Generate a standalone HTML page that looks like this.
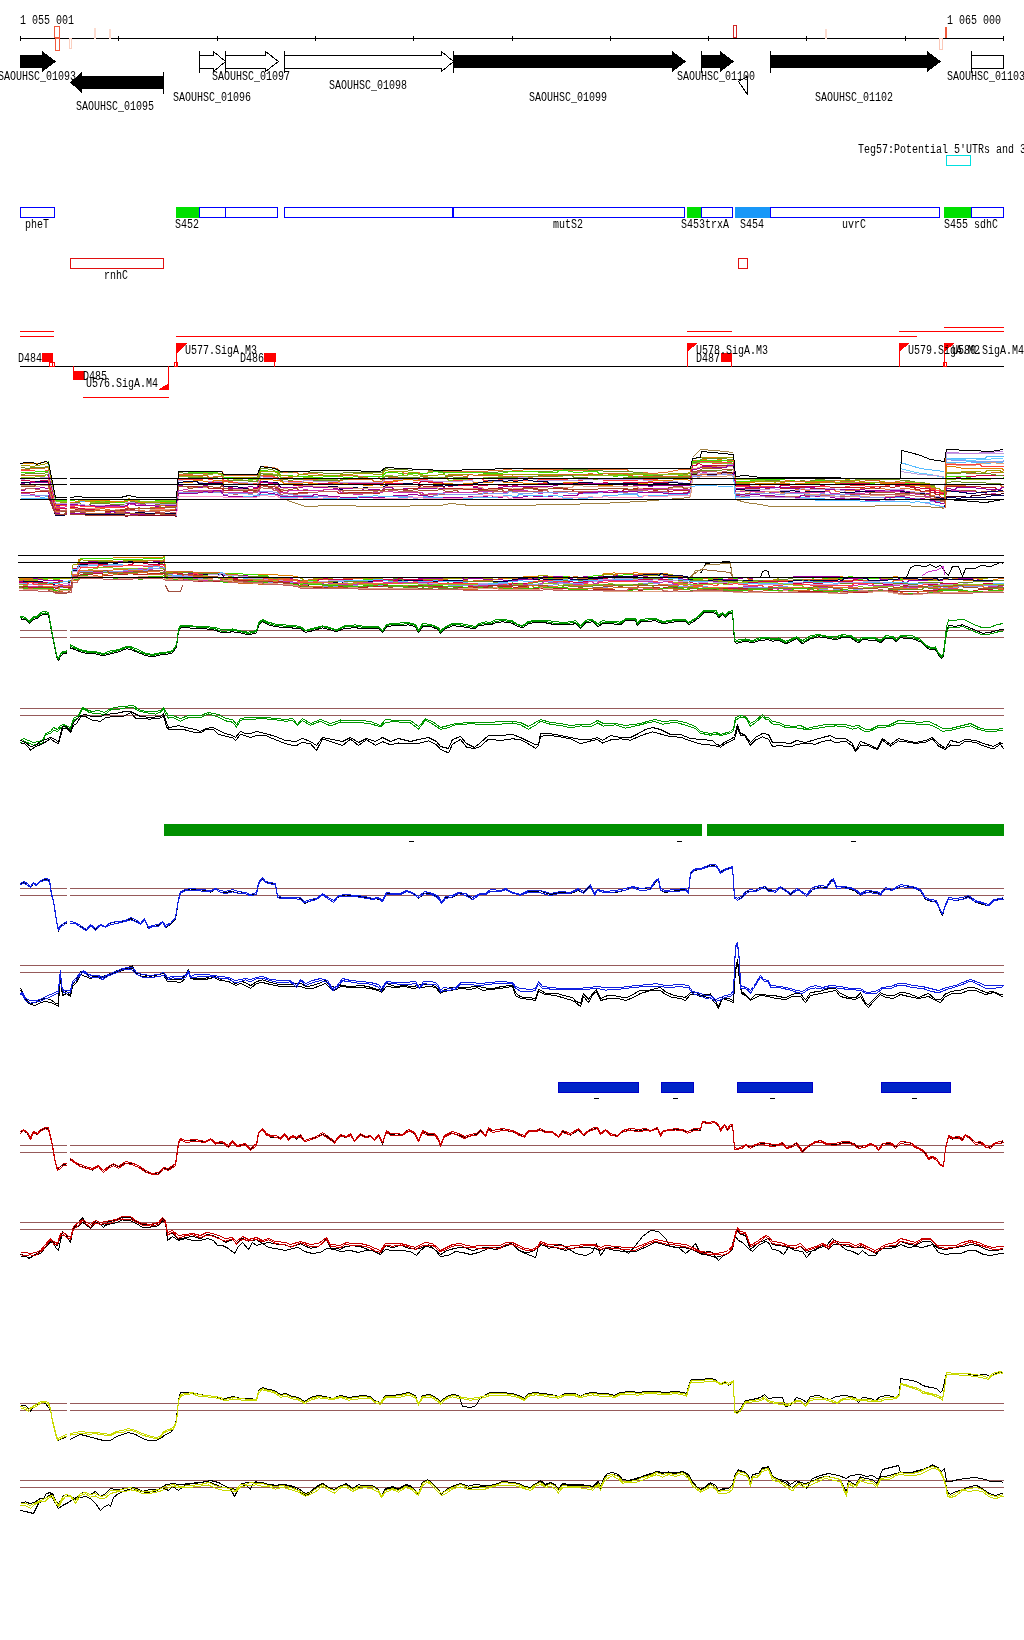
<!DOCTYPE html>
<html><head><meta charset="utf-8"><style>
html,body{margin:0;padding:0;background:#fff;}
body{width:1024px;height:1640px;overflow:hidden;}
svg{display:block;font-family:"Liberation Mono", monospace;}
</style></head><body>
<svg width="1024" height="1640" viewBox="0 0 1024 1640" shape-rendering="crispEdges">
<rect x="20" y="38" width="984" height="1" fill="#000"/>
<rect x="20" y="36" width="1" height="5" fill="#000"/>
<rect x="118" y="36" width="1" height="5" fill="#000"/>
<rect x="217" y="36" width="1" height="5" fill="#000"/>
<rect x="315" y="36" width="1" height="5" fill="#000"/>
<rect x="413" y="36" width="1" height="5" fill="#000"/>
<rect x="512" y="36" width="1" height="5" fill="#000"/>
<rect x="610" y="36" width="1" height="5" fill="#000"/>
<rect x="708" y="36" width="1" height="5" fill="#000"/>
<rect x="806" y="36" width="1" height="5" fill="#000"/>
<rect x="905" y="36" width="1" height="5" fill="#000"/>
<rect x="1003" y="36" width="1" height="5" fill="#000"/>
<rect x="54.5" y="26.5" width="5" height="11" fill="none" stroke="#f05a3c" stroke-width="1"/>
<rect x="55.5" y="38.5" width="4" height="12" fill="none" stroke="#f05a3c" stroke-width="1"/>
<rect x="69.5" y="38.5" width="2" height="10" fill="none" stroke="#fbd0c0" stroke-width="1"/>
<rect x="94" y="28" width="2" height="11" fill="#fcdcd0"/>
<rect x="109" y="29" width="2" height="10" fill="#fcdcd0"/>
<rect x="733.5" y="25.5" width="3" height="12" fill="none" stroke="#d02828" stroke-width="1"/>
<rect x="825" y="29" width="2" height="10" fill="#fcdcd0"/>
<rect x="939.5" y="38.5" width="3" height="11" fill="none" stroke="#fbc8b8" stroke-width="1"/>
<rect x="945" y="27" width="2" height="11" fill="#f05a3c"/>
<polygon points="20,55 42,55 42,51 56,61.5 42,72 42,68 20,68" fill="#000"/>
<polygon points="164,76 82,76 82,72 70,82.5 82,93 82,89 164,89" fill="#000"/>
<rect x="163" y="72" width="1" height="22" fill="#000"/>
<polygon points="199.5,55.5 213.5,55.5 213.5,51.5 225.5,61.5 213.5,71.5 213.5,68.5 199.5,68.5" fill="#fff" stroke="#000" stroke-width="1"/>
<rect x="199" y="51" width="1" height="22" fill="#000"/>
<polygon points="225.5,55.5 265.5,55.5 265.5,51.5 278.5,61.5 265.5,71.5 265.5,68.5 225.5,68.5" fill="#fff" stroke="#000" stroke-width="1"/>
<rect x="225" y="51" width="1" height="22" fill="#000"/>
<polygon points="284.5,55.5 441.5,55.5 441.5,51.5 453.5,61.5 441.5,71.5 441.5,68.5 284.5,68.5" fill="#fff" stroke="#000" stroke-width="1"/>
<rect x="284" y="51" width="1" height="22" fill="#000"/>
<polygon points="453,55 672,55 672,51 686,61.5 672,72 672,68 453,68" fill="#000"/>
<rect x="453" y="51" width="1" height="22" fill="#000"/>
<polygon points="701,55 720,55 720,51 734,61.5 720,72 720,68 701,68" fill="#000"/>
<rect x="701" y="51" width="1" height="22" fill="#000"/>
<polygon points="738.5,81.5 747.5,76.5 747.5,94.5" fill="#fff" stroke="#000" stroke-width="1"/>
<polygon points="770,55 927,55 927,51 941,61.5 927,72 927,68 770,68" fill="#000"/>
<rect x="770" y="51" width="1" height="22" fill="#000"/>
<rect x="971.5" y="55.5" width="32" height="13" fill="none" stroke="#000" stroke-width="1"/>
<rect x="971" y="51" width="1" height="22" fill="#000"/>
<rect x="946.5" y="155.5" width="24" height="10" fill="none" stroke="#00e0e0" stroke-width="1"/>
<rect x="20.5" y="207.5" width="34" height="10" fill="none" stroke="#0000ff" stroke-width="1"/>
<rect x="176" y="207" width="24" height="11" fill="#00e000"/>
<rect x="199.5" y="207.5" width="26" height="10" fill="none" stroke="#0000ff" stroke-width="1"/>
<rect x="225.5" y="207.5" width="52" height="10" fill="none" stroke="#0000ff" stroke-width="1"/>
<rect x="284.5" y="207.5" width="168" height="10" fill="none" stroke="#0000ff" stroke-width="1"/>
<rect x="453.5" y="207.5" width="231" height="10" fill="none" stroke="#0000ff" stroke-width="1"/>
<rect x="687" y="207" width="15" height="11" fill="#00e000"/>
<rect x="701.5" y="207.5" width="31" height="10" fill="none" stroke="#0000ff" stroke-width="1"/>
<rect x="735" y="207" width="36" height="11" fill="#1898f8"/>
<rect x="770.5" y="207.5" width="169" height="10" fill="none" stroke="#0000ff" stroke-width="1"/>
<rect x="944" y="207" width="28" height="11" fill="#00e000"/>
<rect x="971.5" y="207.5" width="32" height="10" fill="none" stroke="#0000ff" stroke-width="1"/>
<rect x="70.5" y="258.5" width="93" height="10" fill="none" stroke="#e01010" stroke-width="1"/>
<rect x="738.5" y="258.5" width="9" height="10" fill="none" stroke="#e01010" stroke-width="1"/>
<rect x="20" y="331" width="34" height="1" fill="#ff0000"/>
<rect x="20" y="336" width="34" height="1" fill="#ff0000"/>
<rect x="176" y="336" width="741" height="1" fill="#ff0000"/>
<rect x="687" y="331" width="45" height="1" fill="#ff0000"/>
<rect x="899" y="331" width="105" height="1" fill="#ff0000"/>
<rect x="944" y="327" width="60" height="1" fill="#ff0000"/>
<rect x="83" y="397" width="86" height="1" fill="#ff0000"/>
<rect x="20" y="366" width="984" height="1" fill="#000"/>
<rect x="42" y="353" width="11" height="9" fill="#ff0000"/>
<rect x="49.5" y="362.5" width="3" height="4" fill="none" stroke="#ff0000" stroke-width="1"/>
<rect x="52.5" y="362.5" width="2" height="4" fill="none" stroke="#ff0000" stroke-width="1"/>
<rect x="73" y="366" width="1" height="14" fill="#ff0000"/>
<rect x="73" y="371" width="11" height="9" fill="#ff0000"/>
<rect x="168" y="366" width="1" height="24" fill="#ff0000"/>
<polygon points="169,383 169,390 158,390" fill="#ff0000"/>
<rect x="176" y="344" width="1" height="23" fill="#ff0000"/>
<polygon points="176,343 187,343 176,354" fill="#ff0000"/>
<rect x="174.5" y="362.5" width="3" height="4" fill="none" stroke="#ff0000" stroke-width="1"/>
<rect x="264" y="353" width="12" height="9" fill="#ff0000"/>
<rect x="274" y="361" width="1" height="6" fill="#ff0000"/>
<rect x="687" y="343" width="1" height="24" fill="#ff0000"/>
<polygon points="687,343 698,343 687,352" fill="#ff0000"/>
<rect x="721" y="353" width="11" height="9" fill="#ff0000"/>
<rect x="731" y="361" width="1" height="6" fill="#ff0000"/>
<rect x="899" y="343" width="1" height="24" fill="#ff0000"/>
<polygon points="899,343 910,343 899,352" fill="#ff0000"/>
<rect x="944" y="343" width="1" height="24" fill="#ff0000"/>
<polygon points="944,343 955,343 944,352" fill="#ff0000"/>
<rect x="943.5" y="362.5" width="3" height="4" fill="none" stroke="#ff0000" stroke-width="1"/>
<rect x="20" y="630" width="47" height="1" fill="#965a5a"/>
<rect x="70" y="630" width="934" height="1" fill="#965a5a"/>
<rect x="20" y="637" width="47" height="1" fill="#965a5a"/>
<rect x="70" y="637" width="934" height="1" fill="#965a5a"/>
<polyline points="20.5,618.8 25.5,619.8 29.5,623.8 33.5,619.3 37.5,618.3 40.5,615.3 45.5,614.3 48.5,614.8 51.5,631.8 54.5,646.8 56.5,656.8 58.5,660.8 60.5,655.8 63.5,653.8 66.5,653.3 70.5,647.8 75.5,649.8 80.5,651.8 88.5,653.8 95.5,653.8 103.5,655.8 110.5,653.8 118.5,651.8 126.5,648.8 130.5,649.3 138.5,652.8 146.5,655.8 152.5,656.8 160.5,654.8 166.5,654.3 172.5,652.8 176.5,646.8 178.5,631.8 180.5,627.8 185.5,627.8 195.5,628.3 205.5,628.8 215.5,630.3 222.5,632.8 232.5,631.8 240.5,632.8 248.5,634.8 256.5,632.8 258.5,625.8 262.5,621.8 268.5,624.8 275.5,626.8 290.5,627.8 300.5,628.8 305.5,632.3 312.5,630.8 322.5,627.8 330.5,629.8 336.5,631.8 344.5,628.3 355.5,627.8 365.5,628.8 378.5,628.3 382.5,632.8 386.5,626.8 392.5,625.8 400.5,625.8 408.5,624.8 415.5,626.8 418.5,632.8 422.5,626.8 430.5,626.3 438.5,629.8 440.5,633.8 445.5,628.8 452.5,625.8 460.5,626.3 468.5,627.8 475.5,628.8 478.5,625.8 485.5,624.8 490.5,624.8 495.5,622.8 502.5,621.8 512.5,623.3 516.5,625.8 522.5,627.8 528.5,623.8 535.5,622.3 545.5,622.8 555.5,624.8 565.5,624.8 575.5,623.8 580.5,628.8 585.5,622.8 592.5,621.8 597.5,626.8 602.5,623.8 612.5,623.8 620.5,624.8 625.5,620.8 635.5,620.3 637.5,625.8 640.5,621.8 655.5,620.8 662.5,623.8 675.5,621.8 685.5,621.8 688.5,624.8 695.5,620.3 700.5,616.8 703.5,612.8 712.5,612.3 716.5,613.8 718.5,617.8 722.5,614.8 725.5,617.8 728.5,613.8 732.5,613.8 733.5,626.8 734.5,641.8 736.5,643.3 745.5,641.3 752.5,642.8 760.5,640.3 768.5,639.8 772.5,641.3 778.5,640.3 785.5,643.8 790.5,641.8 796.5,638.8 802.5,643.8 810.5,638.8 818.5,636.8 828.5,638.3 835.5,639.8 842.5,637.3 850.5,637.8 858.5,642.8 862.5,639.8 875.5,640.3 880.5,642.8 885.5,638.3 892.5,638.8 896.5,641.8 900.5,637.8 912.5,638.8 920.5,641.8 925.5,646.8 930.5,649.8 935.5,649.8 938.5,654.8 941.5,658.8 943.5,655.8 946.5,632.3 948.5,625.3 955.5,626.3 962.5,624.8 968.5,627.3 975.5,630.3 982.5,633.3 990.5,632.3 997.5,630.3 1003.5,629.3" fill="none" stroke="#000" stroke-width="1" stroke-linejoin="round" />
<polyline points="20.5,617.5 25.5,618.5 29.5,622.5 33.5,618.0 37.5,617.0 40.5,614.0 45.5,613.0 48.5,613.5 51.5,630.5 54.5,645.5 56.5,655.5 58.5,659.5 60.5,654.5 63.5,652.5 66.5,652.0 70.5,646.5 75.5,648.5 80.5,650.5 88.5,652.5 95.5,652.5 103.5,654.5 110.5,652.5 118.5,650.5 126.5,647.5 130.5,648.0 138.5,651.5 146.5,654.5 152.5,655.5 160.5,653.5 166.5,653.0 172.5,651.5 176.5,645.5 178.5,630.5 180.5,626.5 185.5,626.5 195.5,627.0 205.5,627.5 215.5,629.0 222.5,631.5 232.5,630.5 240.5,631.5 248.5,633.5 256.5,631.5 258.5,624.5 262.5,620.5 268.5,623.5 275.5,625.5 290.5,626.5 300.5,627.5 305.5,631.0 312.5,629.5 322.5,626.5 330.5,628.5 336.5,630.5 344.5,627.0 355.5,626.5 365.5,627.5 378.5,627.0 382.5,631.5 386.5,625.5 392.5,624.5 400.5,624.5 408.5,623.5 415.5,625.5 418.5,631.5 422.5,625.5 430.5,625.0 438.5,628.5 440.5,632.5 445.5,627.5 452.5,624.5 460.5,625.0 468.5,626.5 475.5,627.5 478.5,624.5 485.5,623.5 490.5,623.5 495.5,621.5 502.5,620.5 512.5,622.0 516.5,624.5 522.5,626.5 528.5,622.5 535.5,621.0 545.5,621.5 555.5,623.5 565.5,623.5 575.5,622.5 580.5,627.5 585.5,621.5 592.5,620.5 597.5,625.5 602.5,622.5 612.5,622.5 620.5,623.5 625.5,619.5 635.5,619.0 637.5,624.5 640.5,620.5 655.5,619.5 662.5,622.5 675.5,620.5 685.5,620.5 688.5,623.5 695.5,619.0 700.5,615.5 703.5,611.5 712.5,611.0 716.5,612.5 718.5,616.5 722.5,613.5 725.5,616.5 728.5,612.5 732.5,612.5 733.5,625.5 734.5,640.5 736.5,642.0 745.5,640.0 752.5,641.5 760.5,639.0 768.5,638.5 772.5,640.0 778.5,639.0 785.5,642.5 790.5,640.5 796.5,637.5 802.5,642.5 810.5,637.5 818.5,635.5 828.5,637.0 835.5,638.5 842.5,636.0 850.5,636.5 858.5,641.5 862.5,638.5 875.5,639.0 880.5,641.5 885.5,637.0 892.5,637.5 896.5,640.5 900.5,636.5 912.5,637.5 920.5,640.5 925.5,645.5 930.5,648.5 935.5,648.5 938.5,653.5 941.5,657.5 943.5,654.5 946.5,634.0 948.5,627.0 955.5,628.0 962.5,626.5 968.5,629.0 975.5,632.0 982.5,635.0 990.5,634.0 997.5,632.0 1003.5,631.0" fill="none" stroke="#009600" stroke-width="1" stroke-linejoin="round" />
<polyline points="20.5,616.0 25.5,617.4 29.5,621.1 33.5,616.9 37.5,616.0 40.5,612.3 45.5,611.2 48.5,612.7 51.5,629.0 54.5,644.0 56.5,654.9 58.5,658.3 60.5,653.7 63.5,651.3 66.5,651.0 70.5,644.9 75.5,647.5 80.5,649.7 88.5,651.3 95.5,651.6 103.5,653.5 110.5,650.8 118.5,649.6 126.5,646.4 130.5,646.6 138.5,649.7 146.5,653.7 152.5,654.3 160.5,652.6 166.5,652.3 172.5,650.6 176.5,644.8 178.5,629.2 180.5,625.7 185.5,625.2 195.5,626.3 205.5,626.8 215.5,627.3 222.5,629.9 232.5,629.0 240.5,630.9 248.5,632.2 256.5,630.5 258.5,623.1 262.5,619.3 268.5,622.2 275.5,624.1 290.5,625.4 300.5,626.4 305.5,630.3 312.5,628.5 322.5,625.8 330.5,627.7 336.5,629.9 344.5,626.0 355.5,624.9 365.5,626.7 378.5,626.4 382.5,630.8 386.5,624.4 392.5,623.6 400.5,623.0 408.5,622.7 415.5,624.4 418.5,630.0 422.5,623.8 430.5,624.2 438.5,627.9 440.5,630.8 445.5,626.7 452.5,623.2 460.5,623.4 468.5,625.1 475.5,626.6 478.5,623.7 485.5,621.8 490.5,622.4 495.5,619.8 502.5,619.6 512.5,620.6 516.5,623.8 522.5,625.9 528.5,621.3 535.5,620.4 545.5,620.1 555.5,621.8 565.5,622.4 575.5,620.7 580.5,625.9 585.5,620.2 592.5,619.4 597.5,623.9 602.5,620.8 612.5,621.7 620.5,622.1 625.5,618.9 635.5,618.3 637.5,623.2 640.5,619.3 655.5,618.3 662.5,621.5 675.5,619.4 685.5,619.4 688.5,622.4 695.5,618.3 700.5,614.3 703.5,610.2 712.5,610.1 716.5,611.0 718.5,615.1 722.5,612.9 725.5,615.3 728.5,611.4 732.5,610.7 733.5,624.2 734.5,639.4 736.5,640.2 745.5,638.9 752.5,640.5 760.5,637.3 768.5,637.5 772.5,638.8 778.5,638.0 785.5,641.1 790.5,639.5 796.5,636.6 802.5,640.7 810.5,635.8 818.5,634.5 828.5,636.4 835.5,637.0 842.5,634.7 850.5,635.4 858.5,640.1 862.5,637.1 875.5,637.6 880.5,640.1 885.5,635.9 892.5,636.1 896.5,639.2 900.5,635.6 912.5,635.7 920.5,639.4 925.5,644.6 930.5,647.1 935.5,647.0 938.5,652.7 941.5,656.0 943.5,652.9 946.5,626.7 948.5,620.0 955.5,620.3 962.5,619.1 968.5,621.6 975.5,625.2 982.5,627.7 990.5,627.2 997.5,624.4 1003.5,623.6" fill="none" stroke="#009600" stroke-width="1" stroke-linejoin="round" />
<rect x="67" y="600" width="3" height="70" fill="#fff"/>
<rect x="20" y="708" width="984" height="1" fill="#965a5a"/>
<rect x="20" y="715" width="984" height="1" fill="#965a5a"/>
<polyline points="20.5,740.5 23.5,738.5 28.5,740.5 33.5,742.5 38.5,741.5 42.5,740.5 45.5,733.5 50.5,731.5 53.5,727.5 57.5,729.5 60.5,725.5 63.5,724.5 67.5,726.5 70.5,727.5 73.5,718.5 78.5,715.5 82.5,707.5 88.5,710.5 92.5,711.5 98.5,710.5 104.5,712.5 110.5,708.5 120.5,706.5 128.5,706.0 133.5,705.5 138.5,709.5 145.5,711.5 155.5,711.5 160.5,710.5 163.5,707.5 165.5,711.5 168.5,715.5 172.5,715.5 180.5,718.5 188.5,715.5 200.5,715.5 208.5,712.5 218.5,714.5 225.5,718.5 232.5,719.5 236.5,724.5 240.5,718.5 248.5,717.5 256.5,717.5 265.5,717.5 275.5,718.5 285.5,719.5 292.5,718.5 297.5,724.5 302.5,718.5 310.5,723.5 320.5,719.5 330.5,723.5 340.5,720.0 350.5,721.0 360.5,720.5 370.5,721.5 380.5,725.5 385.5,719.5 395.5,720.5 410.5,720.5 418.5,726.5 425.5,719.0 432.5,721.5 440.5,727.5 448.5,725.5 455.5,723.5 470.5,722.5 485.5,723.0 500.5,721.5 512.5,721.5 520.5,722.5 528.5,726.5 535.5,722.5 540.5,719.5 550.5,722.5 560.5,723.5 570.5,725.5 580.5,724.5 590.5,724.5 597.5,720.5 603.5,723.5 615.5,723.5 625.5,725.5 640.5,723.5 650.5,720.5 655.5,719.5 662.5,721.5 675.5,720.5 685.5,722.5 695.5,726.5 700.5,731.5 710.5,733.5 716.5,732.5 720.5,734.5 730.5,731.5 733.5,728.5 735.5,717.5 740.5,715.5 745.5,716.5 750.5,723.5 755.5,720.5 762.5,714.5 765.5,717.5 768.5,717.5 772.5,721.5 778.5,722.5 785.5,725.5 793.5,726.5 800.5,725.5 806.5,728.5 815.5,726.5 825.5,724.5 835.5,724.5 845.5,724.5 852.5,726.5 858.5,725.5 865.5,729.5 870.5,729.5 878.5,725.5 888.5,725.5 898.5,720.5 910.5,721.5 918.5,722.5 928.5,721.5 935.5,724.5 942.5,728.5 950.5,728.5 962.5,725.5 970.5,723.5 978.5,727.5 985.5,729.5 995.5,729.5 1003.5,728.5" fill="none" stroke="#009600" stroke-width="1" stroke-linejoin="round" />
<polyline points="20.5,742.7 23.5,740.9 28.5,743.0 33.5,745.2 38.5,743.9 42.5,743.2 45.5,734.7 50.5,733.4 53.5,730.2 57.5,731.7 60.5,728.1 63.5,725.9 67.5,728.5 70.5,729.1 73.5,720.6 78.5,717.6 82.5,708.7 88.5,712.0 92.5,713.1 98.5,713.2 104.5,714.9 110.5,710.0 120.5,709.0 128.5,707.4 133.5,707.7 138.5,710.9 145.5,712.7 155.5,714.1 160.5,712.0 163.5,709.0 165.5,714.3 168.5,718.1 172.5,717.2 180.5,721.2 188.5,717.6 200.5,717.8 208.5,714.0 218.5,717.2 225.5,720.8 232.5,722.2 236.5,727.1 240.5,720.2 248.5,719.3 256.5,719.0 265.5,718.9 275.5,719.8 285.5,721.2 292.5,720.7 297.5,725.7 302.5,720.8 310.5,725.2 320.5,721.2 330.5,726.0 340.5,722.0 350.5,722.7 360.5,722.5 370.5,723.8 380.5,726.8 385.5,722.3 395.5,721.7 410.5,722.9 418.5,729.1 425.5,720.2 432.5,724.0 440.5,729.3 448.5,727.6 455.5,724.7 470.5,723.8 485.5,724.5 500.5,724.2 512.5,723.0 520.5,724.9 528.5,729.2 535.5,725.2 540.5,721.3 550.5,724.3 560.5,725.5 570.5,727.9 580.5,725.9 590.5,726.9 597.5,723.0 603.5,726.1 615.5,724.8 625.5,728.2 640.5,724.8 650.5,722.2 655.5,721.7 662.5,724.2 675.5,722.2 685.5,725.2 695.5,728.6 700.5,733.2 710.5,735.2 716.5,734.0 720.5,735.8 730.5,732.9 733.5,730.8 735.5,720.3 740.5,717.0 745.5,717.8 750.5,726.3 755.5,722.6 762.5,716.3 765.5,719.1 768.5,719.7 772.5,724.0 778.5,724.4 785.5,727.4 793.5,727.8 800.5,728.2 806.5,729.8 815.5,728.5 825.5,727.0 835.5,725.9 845.5,726.9 852.5,729.2 858.5,727.7 865.5,732.0 870.5,730.9 878.5,727.4 888.5,726.9 898.5,723.1 910.5,723.2 918.5,724.4 928.5,724.3 935.5,727.1 942.5,731.3 950.5,730.4 962.5,727.5 970.5,725.9 978.5,729.5 985.5,731.2 995.5,731.3 1003.5,729.9" fill="none" stroke="#009600" stroke-width="1" stroke-linejoin="round" />
<polyline points="20.5,740.5 25.5,742.5 30.5,746.5 35.5,745.5 40.5,741.5 45.5,739.5 50.5,737.5 55.5,739.5 58.5,742.5 62.5,726.5 66.5,726.5 70.5,731.5 73.5,722.5 76.5,719.5 80.5,715.5 85.5,714.5 92.5,717.0 100.5,716.5 105.5,714.5 115.5,713.5 122.5,712.0 130.5,711.5 136.5,714.5 140.5,716.5 150.5,717.5 160.5,716.5 163.5,713.5 166.5,722.5 168.5,727.5 175.5,726.5 178.5,725.5 185.5,727.5 195.5,729.5 200.5,731.5 205.5,728.5 213.5,727.5 218.5,730.5 225.5,733.5 232.5,735.5 235.5,737.5 240.5,731.5 245.5,733.5 250.5,733.5 256.5,731.5 265.5,733.5 275.5,736.5 285.5,740.5 295.5,741.5 302.5,738.5 310.5,741.5 316.5,745.5 322.5,737.5 332.5,739.5 342.5,741.5 350.5,737.5 358.5,742.5 366.5,738.5 375.5,741.5 382.5,737.5 390.5,741.5 398.5,738.5 410.5,741.5 418.5,739.5 428.5,737.5 436.5,741.5 440.5,746.5 448.5,748.5 452.5,739.5 460.5,736.5 466.5,743.5 474.5,747.5 480.5,742.5 488.5,735.5 500.5,735.5 512.5,734.5 520.5,737.5 528.5,741.5 535.5,744.5 538.5,744.5 540.5,733.5 548.5,733.5 560.5,735.5 570.5,737.5 580.5,739.5 590.5,739.5 597.5,737.5 602.5,740.5 610.5,735.5 620.5,737.5 630.5,737.5 638.5,733.5 645.5,729.5 652.5,727.5 660.5,729.5 670.5,734.5 680.5,734.5 690.5,738.5 700.5,739.5 712.5,740.5 716.5,744.5 720.5,745.5 725.5,741.5 730.5,739.5 734.5,736.5 737.5,724.5 740.5,733.5 744.5,734.5 750.5,742.5 755.5,737.5 762.5,733.5 768.5,734.5 772.5,742.5 780.5,742.5 790.5,743.5 796.5,740.5 805.5,742.5 815.5,739.5 822.5,737.5 830.5,735.5 835.5,738.5 845.5,738.5 852.5,743.5 855.5,750.5 860.5,741.5 868.5,744.5 877.5,748.5 882.5,738.5 890.5,744.5 898.5,738.5 905.5,740.5 915.5,742.5 925.5,740.5 932.5,737.5 938.5,743.5 945.5,748.5 950.5,740.5 958.5,742.5 965.5,739.5 975.5,740.5 983.5,743.5 993.5,746.5 1000.5,742.5 1003.5,744.5" fill="none" stroke="#000" stroke-width="1" stroke-linejoin="round" />
<polyline points="20.5,742.8 25.5,744.1 30.5,750.1 35.5,746.8 40.5,744.6 45.5,742.0 50.5,738.7 55.5,742.5 58.5,743.6 62.5,729.2 66.5,727.8 70.5,732.9 73.5,725.2 76.5,723.8 80.5,717.0 85.5,716.4 92.5,720.5 100.5,721.3 105.5,717.8 115.5,716.1 122.5,716.9 130.5,712.7 136.5,718.9 140.5,718.7 150.5,719.1 160.5,718.0 163.5,715.7 166.5,726.8 168.5,729.2 175.5,729.8 178.5,729.1 185.5,730.0 195.5,732.7 200.5,732.8 205.5,729.7 213.5,729.3 218.5,734.2 225.5,736.2 232.5,737.8 235.5,740.8 240.5,734.3 245.5,735.7 250.5,737.7 256.5,735.3 265.5,735.5 275.5,739.8 285.5,743.6 295.5,746.0 302.5,742.4 310.5,743.7 316.5,750.4 322.5,739.0 332.5,742.2 342.5,745.5 350.5,739.1 358.5,745.5 366.5,739.7 375.5,745.2 382.5,741.6 390.5,744.8 398.5,743.0 410.5,743.8 418.5,743.3 428.5,740.9 436.5,744.8 440.5,749.3 448.5,752.9 452.5,744.3 460.5,739.4 466.5,747.2 474.5,748.7 480.5,746.3 488.5,739.1 500.5,740.5 512.5,738.8 520.5,739.6 528.5,744.0 535.5,748.2 538.5,745.6 540.5,736.3 548.5,735.2 560.5,737.0 570.5,738.7 580.5,743.6 590.5,741.0 597.5,739.5 602.5,743.1 610.5,740.0 620.5,738.8 630.5,740.3 638.5,736.7 645.5,734.0 652.5,731.8 660.5,734.0 670.5,736.6 680.5,737.2 690.5,740.9 700.5,744.0 712.5,745.3 716.5,746.1 720.5,747.2 725.5,743.4 730.5,741.4 734.5,739.4 737.5,727.9 740.5,735.6 744.5,735.5 750.5,745.2 755.5,740.0 762.5,736.8 768.5,739.3 772.5,746.3 780.5,745.6 790.5,747.0 796.5,744.2 805.5,743.7 815.5,744.1 822.5,741.6 830.5,740.0 835.5,742.7 845.5,741.1 852.5,746.1 855.5,751.9 860.5,745.0 868.5,745.7 877.5,749.8 882.5,740.3 890.5,746.1 898.5,740.9 905.5,741.7 915.5,743.5 925.5,742.1 932.5,738.9 938.5,746.0 945.5,749.6 950.5,745.0 958.5,746.0 965.5,741.1 975.5,742.5 983.5,745.9 993.5,749.0 1000.5,744.0 1003.5,748.9" fill="none" stroke="#000" stroke-width="1" stroke-linejoin="round" />
<rect x="164" y="824" width="538" height="12" fill="#009000"/>
<rect x="707" y="824" width="297" height="12" fill="#009000"/>
<rect x="409" y="841" width="5" height="1" fill="#000"/>
<rect x="677" y="841" width="5" height="1" fill="#000"/>
<rect x="851" y="841" width="5" height="1" fill="#000"/>
<rect x="20" y="888" width="47" height="1" fill="#965a5a"/>
<rect x="70" y="888" width="934" height="1" fill="#965a5a"/>
<rect x="20" y="895" width="47" height="1" fill="#965a5a"/>
<rect x="70" y="895" width="934" height="1" fill="#965a5a"/>
<polyline points="20.5,884.4 23.5,882.6 27.5,885.5 30.5,887.4 33.5,883.5 36.5,885.7 40.5,880.7 45.5,879.5 49.5,880.8 51.5,895.2 53.5,900.5 55.5,914.0 57.5,925.5 58.5,931.2 60.5,927.0 63.5,923.4 66.5,923.7 70.5,923.6 75.5,923.9 80.5,926.8 86.5,929.7 90.5,924.3 95.5,929.6 100.5,924.4 105.5,926.8 110.5,922.9 118.5,921.4 125.5,921.4 130.5,918.4 135.5,921.3 140.5,924.5 144.5,919.8 148.5,928.5 152.5,926.9 158.5,925.4 162.5,922.0 165.5,927.7 170.5,924.7 175.5,919.3 178.5,900.0 180.5,892.1 185.5,889.9 190.5,889.0 200.5,889.5 210.5,892.1 215.5,889.3 220.5,892.3 225.5,892.2 232.5,891.6 238.5,893.3 245.5,892.3 250.5,894.8 256.5,894.5 258.5,883.4 262.5,879.7 265.5,882.3 270.5,882.5 275.5,884.8 277.5,897.2 282.5,897.9 290.5,897.5 300.5,898.1 304.5,903.6 310.5,901.1 316.5,898.6 322.5,893.9 326.5,896.5 333.5,900.4 338.5,897.2 345.5,894.7 355.5,896.6 365.5,897.4 372.5,898.8 378.5,899.1 382.5,900.6 386.5,893.8 392.5,893.6 400.5,894.3 406.5,890.8 412.5,892.9 418.5,898.6 424.5,893.2 432.5,894.0 438.5,898.4 441.5,902.8 445.5,897.2 452.5,897.4 458.5,893.8 465.5,893.5 472.5,899.7 480.5,893.8 485.5,893.9 490.5,891.2 500.5,891.1 505.5,889.0 512.5,892.5 520.5,894.5 528.5,891.7 540.5,890.9 550.5,894.7 560.5,892.2 570.5,893.4 578.5,890.6 583.5,892.5 590.5,885.7 594.5,895.4 597.5,889.7 605.5,891.7 615.5,892.5 625.5,890.3 632.5,886.9 640.5,888.8 650.5,889.1 655.5,882.6 658.5,878.8 660.5,890.6 665.5,892.4 675.5,890.7 685.5,889.3 688.5,891.5 690.5,872.4 695.5,870.6 700.5,868.9 705.5,868.0 710.5,864.9 715.5,866.3 718.5,869.7 720.5,872.0 725.5,868.7 730.5,869.0 732.5,866.5 733.5,880.8 734.5,897.6 737.5,900.3 742.5,896.8 745.5,892.0 750.5,891.5 755.5,890.8 760.5,887.3 765.5,886.9 768.5,890.4 775.5,890.4 780.5,886.7 786.5,891.2 790.5,894.7 796.5,888.6 800.5,891.2 806.5,896.4 812.5,889.7 820.5,886.9 826.5,888.0 830.5,881.7 833.5,878.6 836.5,886.4 842.5,886.3 850.5,889.5 855.5,891.0 860.5,895.6 866.5,890.4 876.5,892.8 880.5,894.5 885.5,889.1 892.5,890.1 900.5,886.7 905.5,885.5 912.5,887.6 920.5,891.1 925.5,899.5 930.5,901.1 936.5,902.0 940.5,912.2 942.5,915.5 945.5,905.1 948.5,898.9 955.5,900.5 962.5,899.4 968.5,896.3 975.5,902.2 982.5,904.4 988.5,905.7 993.5,900.8 1000.5,899.2 1003.5,898.7" fill="none" stroke="#000" stroke-width="1" stroke-linejoin="round" />
<polyline points="20.5,883.5 23.5,881.5 27.5,883.5 30.5,886.5 33.5,882.5 36.5,884.5 40.5,880.5 45.5,878.5 49.5,879.5 51.5,893.5 53.5,900.5 55.5,913.5 57.5,925.5 58.5,929.5 60.5,925.5 63.5,923.5 66.5,921.5 70.5,921.5 75.5,922.5 80.5,925.5 86.5,929.5 90.5,924.5 95.5,928.5 100.5,924.5 105.5,926.5 110.5,922.5 118.5,921.5 125.5,920.5 130.5,917.5 135.5,919.5 140.5,923.5 144.5,918.5 148.5,927.5 152.5,925.5 158.5,924.5 162.5,921.5 165.5,925.5 170.5,922.5 175.5,917.5 178.5,898.5 180.5,891.5 185.5,889.5 190.5,888.5 200.5,889.5 210.5,890.5 215.5,888.5 220.5,890.5 225.5,891.5 232.5,889.5 238.5,891.5 245.5,892.5 250.5,894.5 256.5,892.5 258.5,882.5 262.5,877.5 265.5,881.5 270.5,882.5 275.5,883.5 277.5,895.5 282.5,897.5 290.5,897.5 300.5,897.5 304.5,901.5 310.5,899.5 316.5,898.5 322.5,893.5 326.5,896.5 333.5,900.5 338.5,895.5 345.5,894.5 355.5,895.5 365.5,896.5 372.5,898.5 378.5,897.5 382.5,900.5 386.5,892.5 392.5,893.5 400.5,893.5 406.5,890.5 412.5,892.5 418.5,896.5 424.5,891.5 432.5,893.5 438.5,896.5 441.5,902.5 445.5,896.5 452.5,895.5 458.5,892.5 465.5,893.5 472.5,897.5 480.5,893.5 485.5,893.5 490.5,889.5 500.5,890.5 505.5,888.5 512.5,892.5 520.5,894.5 528.5,890.5 540.5,890.5 550.5,893.5 560.5,891.5 570.5,892.5 578.5,888.5 583.5,891.5 590.5,884.5 594.5,893.5 597.5,889.5 605.5,891.5 615.5,890.5 625.5,888.5 632.5,886.5 640.5,888.5 650.5,887.5 655.5,880.5 658.5,878.5 660.5,888.5 665.5,890.5 675.5,889.5 685.5,888.5 688.5,891.5 690.5,872.5 695.5,868.5 700.5,868.5 705.5,866.5 710.5,864.5 715.5,864.5 718.5,868.5 720.5,871.5 725.5,868.5 730.5,867.5 732.5,866.5 733.5,880.5 734.5,896.5 737.5,898.5 742.5,895.5 745.5,891.5 750.5,889.5 755.5,890.5 760.5,887.5 765.5,886.5 768.5,889.5 775.5,890.5 780.5,886.5 786.5,890.5 790.5,893.5 796.5,888.5 800.5,890.5 806.5,894.5 812.5,887.5 820.5,885.5 826.5,886.5 830.5,880.5 833.5,878.5 836.5,886.5 842.5,886.5 850.5,887.5 855.5,889.5 860.5,893.5 866.5,890.5 876.5,891.5 880.5,893.5 885.5,887.5 892.5,889.5 900.5,884.5 905.5,885.5 912.5,886.5 920.5,889.5 925.5,897.5 930.5,899.5 936.5,900.5 940.5,910.5 942.5,913.5 945.5,904.5 948.5,897.5 955.5,898.5 962.5,897.5 968.5,895.5 975.5,900.5 982.5,902.5 988.5,904.5 993.5,899.5 1000.5,898.5 1003.5,897.5" fill="none" stroke="#1020e0" stroke-width="1" stroke-linejoin="round" />
<polyline points="20.5,885.0 23.5,883.3 27.5,885.3 30.5,887.4 33.5,883.2 36.5,885.8 40.5,881.6 45.5,880.5 49.5,881.3 51.5,895.2 53.5,902.1 55.5,915.3 57.5,926.4 58.5,930.9 60.5,926.5 63.5,925.6 66.5,922.3 70.5,923.5 75.5,923.3 80.5,927.3 86.5,930.7 90.5,925.8 95.5,930.5 100.5,925.2 105.5,927.3 110.5,924.7 118.5,923.0 125.5,921.3 130.5,919.8 135.5,921.7 140.5,924.4 144.5,919.9 148.5,928.4 152.5,926.7 158.5,926.2 162.5,922.5 165.5,927.3 170.5,923.3 175.5,918.5 178.5,900.5 180.5,892.8 185.5,890.9 190.5,890.2 200.5,891.0 210.5,891.8 215.5,889.2 220.5,892.4 225.5,893.7 232.5,891.8 238.5,893.3 245.5,893.8 250.5,895.8 256.5,894.3 258.5,884.3 262.5,878.4 265.5,882.6 270.5,883.8 275.5,885.0 277.5,897.5 282.5,899.0 290.5,898.2 300.5,899.5 304.5,902.9 310.5,901.0 316.5,899.6 322.5,894.9 326.5,897.8 333.5,902.4 338.5,896.4 345.5,896.1 355.5,896.5 365.5,898.3 372.5,899.3 378.5,898.6 382.5,901.8 386.5,894.2 392.5,894.3 400.5,894.9 406.5,891.5 412.5,893.7 418.5,898.0 424.5,893.7 432.5,895.0 438.5,898.7 441.5,903.5 445.5,898.7 452.5,896.8 458.5,893.5 465.5,895.4 472.5,899.7 480.5,894.2 485.5,894.6 490.5,891.4 500.5,891.7 505.5,889.6 512.5,893.2 520.5,895.3 528.5,892.2 540.5,892.8 550.5,895.8 560.5,893.0 570.5,893.2 578.5,889.7 583.5,893.5 590.5,886.5 594.5,895.2 597.5,890.6 605.5,893.0 615.5,892.0 625.5,890.2 632.5,887.6 640.5,890.7 650.5,889.6 655.5,881.5 658.5,879.7 660.5,890.6 665.5,891.6 675.5,891.7 685.5,890.0 688.5,893.3 690.5,874.3 695.5,869.5 700.5,869.7 705.5,867.6 710.5,866.3 715.5,866.3 718.5,869.4 720.5,873.6 725.5,869.9 730.5,868.6 732.5,867.9 733.5,882.8 734.5,898.1 737.5,900.2 742.5,897.7 745.5,893.7 750.5,891.4 755.5,891.9 760.5,889.1 765.5,888.6 768.5,891.5 775.5,892.1 780.5,887.8 786.5,891.8 790.5,895.4 796.5,890.1 800.5,891.2 806.5,896.3 812.5,889.6 820.5,887.5 826.5,888.6 830.5,882.7 833.5,880.1 836.5,888.5 842.5,887.8 850.5,888.4 855.5,890.8 860.5,894.7 866.5,892.7 876.5,893.3 880.5,895.1 885.5,889.2 892.5,890.4 900.5,886.1 905.5,887.3 912.5,887.8 920.5,890.6 925.5,898.9 930.5,900.7 936.5,902.3 940.5,911.4 942.5,914.3 945.5,905.7 948.5,899.3 955.5,900.4 962.5,899.3 968.5,897.7 975.5,901.8 982.5,903.2 988.5,906.0 993.5,900.9 1000.5,899.5 1003.5,899.3" fill="none" stroke="#1020e0" stroke-width="1" stroke-linejoin="round" />
<rect x="67" y="850" width="3" height="90" fill="#fff"/>
<rect x="20" y="965" width="984" height="1" fill="#965a5a"/>
<rect x="20" y="972" width="984" height="1" fill="#965a5a"/>
<polyline points="20.5,990.5 22.5,993.5 25.5,1000.5 30.5,1004.5 35.5,1005.5 40.5,1002.5 45.5,1001.5 50.5,1002.5 55.5,1004.5 58.5,1006.5 59.5,985.5 60.5,980.5 62.5,995.5 66.5,993.5 70.5,996.5 72.5,986.5 76.5,982.5 80.5,974.5 85.5,976.5 90.5,978.5 95.5,976.5 100.5,978.5 108.5,975.5 115.5,972.5 122.5,970.5 128.5,968.5 132.5,968.5 136.5,974.5 142.5,976.5 150.5,977.5 158.5,976.5 163.5,975.5 167.5,981.5 172.5,981.5 180.5,982.5 185.5,978.5 188.5,970.5 190.5,978.5 195.5,979.5 205.5,979.5 213.5,977.5 220.5,980.5 228.5,981.5 235.5,985.5 240.5,983.5 245.5,985.5 250.5,988.5 256.5,983.5 262.5,982.5 270.5,984.5 280.5,986.5 290.5,986.5 300.5,986.5 306.5,988.5 312.5,988.5 320.5,985.5 325.5,983.5 330.5,988.5 334.5,990.5 340.5,986.5 350.5,987.5 360.5,987.5 370.5,988.5 378.5,990.5 381.5,992.5 386.5,986.5 395.5,987.5 405.5,986.5 412.5,988.5 420.5,987.5 430.5,986.5 435.5,987.5 440.5,993.5 443.5,991.5 450.5,990.5 460.5,988.5 470.5,989.5 477.5,987.5 482.5,990.5 490.5,989.5 500.5,988.5 512.5,986.5 515.5,995.5 520.5,998.5 530.5,999.5 535.5,1000.5 538.5,991.5 545.5,994.5 555.5,995.5 565.5,998.5 572.5,1000.5 575.5,1002.5 580.5,1006.5 583.5,996.5 588.5,1002.5 592.5,995.5 596.5,991.5 600.5,1000.5 608.5,998.5 618.5,998.5 625.5,1000.5 633.5,997.5 640.5,993.5 650.5,990.5 660.5,990.5 665.5,994.5 672.5,997.5 680.5,998.5 685.5,1000.5 690.5,994.5 695.5,994.5 700.5,996.5 710.5,997.5 715.5,1003.5 718.5,1008.5 722.5,998.5 728.5,1000.5 733.5,1002.5 735.5,970.5 737.5,962.5 739.5,980.5 741.5,993.5 745.5,995.5 750.5,1000.5 755.5,997.5 760.5,995.5 768.5,996.5 775.5,998.5 785.5,999.5 792.5,996.5 800.5,996.5 805.5,1002.5 810.5,995.5 820.5,993.5 830.5,991.5 835.5,990.5 840.5,996.5 848.5,998.5 855.5,999.5 860.5,996.5 865.5,1004.5 868.5,1007.5 872.5,1002.5 880.5,994.5 885.5,997.5 893.5,998.5 900.5,994.5 908.5,996.5 918.5,998.5 928.5,996.5 935.5,1000.5 940.5,1002.5 945.5,996.5 952.5,993.5 960.5,993.5 968.5,990.5 975.5,990.5 985.5,994.5 993.5,992.5 998.5,994.5 1003.5,997.5" fill="none" stroke="#000" stroke-width="1" stroke-linejoin="round" />
<polyline points="20.5,987.8 22.5,992.1 25.5,999.1 30.5,1003.5 35.5,1002.6 40.5,999.7 45.5,998.4 50.5,999.7 55.5,1003.2 58.5,1003.4 59.5,983.6 60.5,977.6 62.5,992.9 66.5,991.3 70.5,995.5 72.5,984.8 76.5,979.0 80.5,971.8 85.5,973.4 90.5,977.6 95.5,975.4 100.5,977.4 108.5,974.5 115.5,971.2 122.5,969.8 128.5,967.4 132.5,965.8 136.5,973.5 142.5,974.5 150.5,976.3 158.5,974.7 163.5,973.3 167.5,979.1 172.5,979.3 180.5,979.9 185.5,975.4 188.5,969.5 190.5,977.4 195.5,979.0 205.5,978.1 213.5,975.7 220.5,979.2 228.5,978.4 235.5,984.0 240.5,981.3 245.5,982.5 250.5,985.6 256.5,981.6 262.5,979.8 270.5,982.4 280.5,984.8 290.5,984.2 300.5,983.4 306.5,986.5 312.5,985.7 320.5,982.7 325.5,980.6 330.5,986.1 334.5,987.2 340.5,985.0 350.5,986.9 360.5,985.2 370.5,987.2 378.5,989.8 381.5,989.1 386.5,983.4 395.5,986.4 405.5,985.5 412.5,986.9 420.5,984.5 430.5,984.2 435.5,986.6 440.5,992.7 443.5,990.4 450.5,987.6 460.5,987.6 470.5,987.1 477.5,986.1 482.5,987.4 490.5,988.9 500.5,986.8 512.5,985.2 515.5,992.6 520.5,996.9 530.5,997.7 535.5,998.8 538.5,989.1 545.5,993.2 555.5,993.0 565.5,995.9 572.5,997.5 575.5,1001.1 580.5,1003.3 583.5,993.7 588.5,999.2 592.5,993.9 596.5,989.7 600.5,998.6 608.5,995.1 618.5,996.3 625.5,998.0 633.5,994.3 640.5,990.0 650.5,990.0 660.5,987.4 665.5,991.9 672.5,994.8 680.5,996.8 685.5,997.2 690.5,992.4 695.5,992.1 700.5,995.5 710.5,994.0 715.5,1001.0 718.5,1006.5 722.5,997.9 728.5,998.6 733.5,1000.4 735.5,969.0 737.5,959.9 739.5,977.1 741.5,991.5 745.5,994.7 750.5,999.2 755.5,994.8 760.5,994.1 768.5,995.5 775.5,995.8 785.5,997.8 792.5,994.1 800.5,993.7 805.5,999.9 810.5,992.6 820.5,991.1 830.5,988.1 835.5,988.2 840.5,993.3 848.5,997.3 855.5,997.8 860.5,993.0 865.5,1003.3 868.5,1004.6 872.5,1000.4 880.5,992.7 885.5,995.0 893.5,995.9 900.5,992.3 908.5,993.4 918.5,997.6 928.5,993.3 935.5,999.5 940.5,999.7 945.5,993.9 952.5,991.2 960.5,990.1 968.5,987.4 975.5,988.1 985.5,992.3 993.5,991.6 998.5,994.0 1003.5,994.1" fill="none" stroke="#000" stroke-width="1" stroke-linejoin="round" />
<polyline points="20.5,993.5 22.5,992.5 25.5,998.5 30.5,1000.5 35.5,1000.5 40.5,999.5 45.5,996.5 50.5,994.5 55.5,992.5 58.5,990.5 59.5,977.5 60.5,970.5 61.5,985.5 63.5,990.5 66.5,990.5 70.5,990.5 72.5,981.5 76.5,977.5 80.5,972.5 83.5,970.5 88.5,974.5 92.5,975.5 98.5,975.5 102.5,977.5 108.5,974.5 115.5,971.5 122.5,968.5 128.5,967.5 132.5,967.5 136.5,972.5 142.5,974.5 150.5,975.5 158.5,974.5 163.5,972.5 167.5,977.5 172.5,976.5 180.5,976.5 185.5,975.5 188.5,970.5 190.5,976.5 195.5,974.5 205.5,974.5 213.5,975.5 220.5,976.5 228.5,977.5 235.5,980.5 240.5,979.5 245.5,978.5 250.5,979.5 256.5,977.5 262.5,976.5 270.5,979.5 280.5,980.5 290.5,980.5 296.5,985.5 300.5,979.5 305.5,983.5 312.5,980.5 320.5,978.5 327.5,980.5 332.5,988.5 336.5,986.5 342.5,978.5 350.5,980.5 360.5,981.5 370.5,982.5 378.5,984.5 381.5,988.5 386.5,981.5 395.5,982.5 405.5,982.5 415.5,981.5 419.5,987.5 423.5,981.5 430.5,981.5 435.5,982.5 438.5,985.5 440.5,990.5 443.5,987.5 450.5,988.5 455.5,987.5 460.5,982.5 470.5,982.5 480.5,983.5 490.5,982.5 500.5,981.5 512.5,982.5 515.5,986.5 520.5,988.5 530.5,989.5 535.5,988.5 538.5,981.5 542.5,986.5 550.5,987.5 560.5,988.5 575.5,988.5 590.5,987.5 595.5,986.5 605.5,987.5 620.5,987.5 635.5,985.5 650.5,984.5 655.5,983.5 665.5,985.5 680.5,984.5 688.5,985.5 692.5,991.5 700.5,993.5 705.5,995.5 710.5,995.5 715.5,999.5 720.5,997.5 725.5,995.5 730.5,994.5 733.5,990.5 735.5,945.5 737.5,942.5 739.5,960.5 740.5,985.5 742.5,986.5 746.5,987.5 750.5,990.5 753.5,986.5 757.5,980.5 760.5,975.5 763.5,979.5 768.5,980.5 770.5,985.5 780.5,986.5 790.5,988.5 796.5,990.5 802.5,991.5 808.5,987.5 815.5,985.5 822.5,987.5 830.5,985.5 840.5,986.5 850.5,988.5 860.5,988.5 866.5,992.5 875.5,991.5 882.5,987.5 890.5,986.5 898.5,983.5 905.5,983.5 912.5,985.5 922.5,986.5 930.5,988.5 938.5,990.5 946.5,987.5 955.5,985.5 962.5,982.5 970.5,979.5 978.5,982.5 985.5,985.5 995.5,985.5 1003.5,985.5" fill="none" stroke="#1020e0" stroke-width="1" stroke-linejoin="round" />
<polyline points="20.5,994.9 22.5,994.8 25.5,1000.7 30.5,1003.2 35.5,1002.1 40.5,1001.1 45.5,998.9 50.5,996.8 55.5,994.2 58.5,992.8 59.5,979.3 60.5,972.9 61.5,986.9 63.5,992.1 66.5,993.1 70.5,992.3 72.5,983.1 76.5,980.0 80.5,974.7 83.5,971.9 88.5,976.6 92.5,977.8 98.5,977.0 102.5,979.7 108.5,975.9 115.5,973.2 122.5,969.8 128.5,969.0 132.5,970.3 136.5,974.3 142.5,977.3 150.5,977.4 158.5,976.7 163.5,975.1 167.5,979.8 172.5,977.9 180.5,978.6 185.5,977.7 188.5,972.0 190.5,977.9 195.5,977.1 205.5,976.5 213.5,977.0 220.5,978.4 228.5,979.0 235.5,983.0 240.5,981.5 245.5,979.9 250.5,982.0 256.5,978.8 262.5,978.1 270.5,980.7 280.5,982.9 290.5,981.9 296.5,987.5 300.5,980.8 305.5,985.5 312.5,982.8 320.5,980.6 327.5,982.4 332.5,990.5 336.5,988.4 342.5,980.7 350.5,981.9 360.5,983.5 370.5,984.1 378.5,987.1 381.5,991.2 386.5,982.8 395.5,983.9 405.5,984.8 415.5,983.6 419.5,988.7 423.5,983.8 430.5,984.2 435.5,984.4 438.5,987.3 440.5,992.6 443.5,990.2 450.5,990.1 455.5,989.2 460.5,984.0 470.5,984.7 480.5,985.5 490.5,984.1 500.5,983.3 512.5,983.8 515.5,988.2 520.5,991.3 530.5,991.6 535.5,990.2 538.5,984.2 542.5,988.3 550.5,989.1 560.5,989.8 575.5,989.9 590.5,989.0 595.5,988.1 605.5,990.1 620.5,989.1 635.5,987.1 650.5,986.7 655.5,986.2 665.5,987.2 680.5,986.9 688.5,987.3 692.5,993.6 700.5,995.7 705.5,998.2 710.5,997.9 715.5,1001.5 720.5,1000.0 725.5,997.3 730.5,996.3 733.5,993.2 735.5,947.6 737.5,944.9 739.5,962.2 740.5,988.2 742.5,988.7 746.5,989.1 750.5,993.2 753.5,988.5 757.5,982.2 760.5,977.1 763.5,980.9 768.5,982.0 770.5,987.8 780.5,987.9 790.5,990.1 796.5,992.4 802.5,993.6 808.5,989.3 815.5,988.0 822.5,989.1 830.5,987.3 840.5,988.4 850.5,989.9 860.5,990.1 866.5,993.9 875.5,993.9 882.5,988.9 890.5,988.8 898.5,985.1 905.5,985.7 912.5,987.8 922.5,988.3 930.5,991.2 938.5,992.8 946.5,989.6 955.5,986.8 962.5,984.4 970.5,981.1 978.5,984.5 985.5,988.2 995.5,988.1 1003.5,986.8" fill="none" stroke="#1020e0" stroke-width="1" stroke-linejoin="round" />
<rect x="558" y="1082" width="81" height="11" fill="#0000c8"/>
<rect x="559" y="1083" width="79" height="9" fill="#0024c8"/>
<rect x="661" y="1082" width="33" height="11" fill="#0000c8"/>
<rect x="662" y="1083" width="31" height="9" fill="#0024c8"/>
<rect x="737" y="1082" width="76" height="11" fill="#0000c8"/>
<rect x="738" y="1083" width="74" height="9" fill="#0024c8"/>
<rect x="881" y="1082" width="70" height="11" fill="#0000c8"/>
<rect x="882" y="1083" width="68" height="9" fill="#0024c8"/>
<rect x="594" y="1098" width="5" height="1" fill="#000"/>
<rect x="673" y="1098" width="5" height="1" fill="#000"/>
<rect x="770" y="1098" width="5" height="1" fill="#000"/>
<rect x="912" y="1098" width="5" height="1" fill="#000"/>
<rect x="20" y="1145" width="47" height="1" fill="#965a5a"/>
<rect x="70" y="1145" width="934" height="1" fill="#965a5a"/>
<rect x="20" y="1152" width="47" height="1" fill="#965a5a"/>
<rect x="70" y="1152" width="934" height="1" fill="#965a5a"/>
<polyline points="20.5,1131.6 23.5,1130.7 27.5,1133.6 30.5,1138.3 33.5,1131.7 37.5,1134.9 40.5,1130.9 45.5,1128.3 48.5,1128.3 51.5,1140.8 53.5,1150.3 55.5,1163.0 57.5,1169.5 60.5,1166.4 63.5,1164.9 66.5,1163.8 70.5,1158.8 75.5,1162.4 80.5,1166.3 85.5,1167.8 92.5,1170.1 98.5,1166.5 103.5,1170.4 108.5,1167.0 113.5,1164.3 118.5,1166.5 125.5,1163.2 130.5,1163.0 138.5,1165.6 145.5,1171.9 152.5,1173.5 158.5,1174.2 163.5,1168.2 168.5,1169.4 175.5,1164.0 178.5,1143.3 180.5,1138.7 185.5,1140.4 195.5,1141.0 205.5,1141.8 210.5,1139.9 215.5,1142.7 222.5,1143.2 228.5,1147.1 232.5,1141.8 237.5,1146.8 245.5,1144.5 250.5,1149.8 256.5,1143.5 258.5,1133.3 262.5,1130.0 266.5,1133.7 270.5,1137.1 275.5,1137.1 280.5,1138.1 284.5,1134.0 288.5,1139.2 292.5,1136.1 296.5,1139.3 300.5,1135.1 304.5,1140.4 310.5,1138.5 316.5,1137.7 322.5,1134.3 328.5,1137.3 334.5,1142.3 340.5,1135.4 346.5,1137.8 350.5,1133.7 354.5,1141.5 360.5,1134.4 365.5,1137.5 370.5,1135.7 374.5,1139.6 378.5,1135.0 382.5,1144.2 386.5,1131.0 390.5,1134.5 396.5,1133.9 402.5,1134.5 408.5,1129.4 414.5,1133.9 418.5,1141.9 422.5,1131.0 428.5,1134.7 434.5,1134.7 438.5,1140.1 440.5,1146.2 444.5,1136.1 452.5,1133.3 458.5,1135.2 464.5,1137.5 470.5,1136.1 476.5,1134.3 480.5,1130.1 485.5,1135.8 488.5,1129.1 492.5,1130.6 498.5,1129.4 502.5,1129.9 512.5,1131.8 518.5,1134.3 524.5,1137.0 528.5,1130.4 535.5,1130.8 540.5,1128.9 545.5,1132.1 552.5,1131.6 558.5,1136.4 562.5,1131.0 570.5,1135.1 578.5,1130.3 583.5,1135.8 588.5,1131.3 593.5,1127.8 597.5,1129.2 600.5,1134.4 605.5,1130.8 610.5,1133.4 617.5,1135.7 622.5,1132.0 630.5,1129.9 638.5,1131.1 645.5,1129.5 650.5,1131.2 657.5,1128.5 660.5,1136.0 663.5,1130.9 670.5,1130.4 675.5,1128.9 682.5,1130.8 687.5,1131.3 694.5,1129.7 700.5,1130.2 702.5,1121.3 708.5,1123.5 714.5,1122.6 718.5,1126.0 720.5,1130.5 724.5,1124.8 727.5,1129.1 730.5,1126.2 732.5,1126.1 733.5,1135.6 734.5,1147.5 737.5,1148.5 742.5,1146.4 745.5,1145.2 750.5,1146.6 755.5,1146.0 760.5,1143.6 768.5,1143.6 772.5,1145.4 778.5,1144.9 782.5,1143.3 786.5,1147.7 790.5,1146.6 796.5,1142.7 802.5,1151.1 808.5,1146.7 815.5,1142.4 820.5,1140.4 826.5,1144.7 835.5,1145.0 842.5,1142.8 848.5,1142.9 853.5,1143.3 858.5,1147.2 865.5,1145.4 870.5,1144.8 875.5,1145.7 878.5,1150.7 882.5,1143.8 890.5,1143.7 895.5,1146.9 900.5,1141.4 910.5,1143.1 915.5,1146.9 920.5,1150.1 925.5,1152.9 928.5,1158.3 932.5,1157.4 936.5,1160.2 940.5,1164.5 943.5,1166.5 945.5,1149.3 948.5,1136.8 952.5,1139.2 958.5,1136.9 962.5,1139.7 965.5,1135.4 970.5,1138.4 975.5,1142.4 980.5,1142.9 985.5,1147.3 990.5,1147.0 995.5,1142.9 1000.5,1143.3 1003.5,1140.5" fill="none" stroke="#000" stroke-width="1" stroke-linejoin="round" />
<polyline points="20.5,1131.5 23.5,1129.5 27.5,1132.5 30.5,1137.5 33.5,1131.5 37.5,1133.5 40.5,1129.5 45.5,1127.5 48.5,1127.5 51.5,1140.5 53.5,1150.5 55.5,1162.5 57.5,1168.5 60.5,1166.5 63.5,1163.5 66.5,1163.5 70.5,1158.5 75.5,1162.5 80.5,1164.5 85.5,1166.5 92.5,1168.5 98.5,1165.5 103.5,1170.5 108.5,1166.5 113.5,1163.5 118.5,1166.5 125.5,1161.5 130.5,1162.5 138.5,1165.5 145.5,1170.5 152.5,1173.5 158.5,1172.5 163.5,1167.5 168.5,1168.5 175.5,1163.5 178.5,1142.5 180.5,1138.5 185.5,1140.5 195.5,1139.5 205.5,1141.5 210.5,1138.5 215.5,1142.5 222.5,1141.5 228.5,1145.5 232.5,1140.5 237.5,1145.5 245.5,1143.5 250.5,1148.5 256.5,1143.5 258.5,1132.5 262.5,1128.5 266.5,1133.5 270.5,1135.5 275.5,1135.5 280.5,1137.5 284.5,1133.5 288.5,1138.5 292.5,1135.5 296.5,1137.5 300.5,1134.5 304.5,1140.5 310.5,1138.5 316.5,1136.5 322.5,1132.5 328.5,1136.5 334.5,1141.5 340.5,1134.5 346.5,1136.5 350.5,1133.5 354.5,1140.5 360.5,1133.5 365.5,1136.5 370.5,1135.5 374.5,1139.5 378.5,1134.5 382.5,1142.5 386.5,1130.5 390.5,1133.5 396.5,1133.5 402.5,1134.5 408.5,1129.5 414.5,1132.5 418.5,1140.5 422.5,1130.5 428.5,1133.5 434.5,1133.5 438.5,1138.5 440.5,1144.5 444.5,1135.5 452.5,1131.5 458.5,1133.5 464.5,1136.5 470.5,1134.5 476.5,1133.5 480.5,1129.5 485.5,1135.5 488.5,1127.5 492.5,1130.5 498.5,1129.5 502.5,1128.5 512.5,1130.5 518.5,1133.5 524.5,1135.5 528.5,1130.5 535.5,1130.5 540.5,1128.5 545.5,1131.5 552.5,1131.5 558.5,1136.5 562.5,1130.5 570.5,1133.5 578.5,1128.5 583.5,1134.5 588.5,1130.5 593.5,1127.5 597.5,1127.5 600.5,1133.5 605.5,1129.5 610.5,1133.5 617.5,1135.5 622.5,1130.5 630.5,1128.5 638.5,1129.5 645.5,1128.5 650.5,1130.5 657.5,1127.5 660.5,1134.5 663.5,1130.5 670.5,1129.5 675.5,1128.5 682.5,1129.5 687.5,1131.5 694.5,1128.5 700.5,1128.5 702.5,1121.5 708.5,1122.5 714.5,1121.5 718.5,1124.5 720.5,1129.5 724.5,1124.5 727.5,1128.5 730.5,1124.5 732.5,1124.5 733.5,1135.5 734.5,1147.5 737.5,1148.5 742.5,1146.5 745.5,1144.5 750.5,1146.5 755.5,1144.5 760.5,1142.5 768.5,1143.5 772.5,1144.5 778.5,1144.5 782.5,1142.5 786.5,1147.5 790.5,1146.5 796.5,1142.5 802.5,1150.5 808.5,1145.5 815.5,1141.5 820.5,1140.5 826.5,1143.5 835.5,1143.5 842.5,1141.5 848.5,1141.5 853.5,1143.5 858.5,1146.5 865.5,1145.5 870.5,1143.5 875.5,1145.5 878.5,1149.5 882.5,1143.5 890.5,1142.5 895.5,1146.5 900.5,1141.5 910.5,1142.5 915.5,1146.5 920.5,1148.5 925.5,1152.5 928.5,1157.5 932.5,1156.5 936.5,1158.5 940.5,1164.5 943.5,1165.5 945.5,1148.5 948.5,1135.5 952.5,1137.5 958.5,1136.5 962.5,1138.5 965.5,1134.5 970.5,1137.5 975.5,1142.5 980.5,1141.5 985.5,1145.5 990.5,1146.5 995.5,1142.5 1000.5,1141.5 1003.5,1140.5" fill="none" stroke="#c80000" stroke-width="1" stroke-linejoin="round" />
<polyline points="20.5,1133.7 23.5,1130.4 27.5,1133.2 30.5,1139.8 33.5,1132.5 37.5,1134.4 40.5,1131.2 45.5,1128.8 48.5,1129.6 51.5,1141.6 53.5,1152.7 55.5,1163.7 57.5,1170.2 60.5,1168.7 63.5,1165.3 66.5,1165.7 70.5,1160.3 75.5,1163.3 80.5,1166.6 85.5,1168.1 92.5,1169.7 98.5,1166.5 103.5,1172.6 108.5,1168.1 113.5,1165.7 118.5,1168.4 125.5,1163.7 130.5,1164.1 138.5,1167.3 145.5,1172.2 152.5,1174.6 158.5,1174.7 163.5,1168.7 168.5,1170.4 175.5,1165.7 178.5,1144.2 180.5,1139.4 185.5,1142.5 195.5,1141.3 205.5,1142.5 210.5,1139.3 215.5,1144.1 222.5,1142.3 228.5,1147.7 232.5,1142.0 237.5,1147.0 245.5,1144.9 250.5,1150.3 256.5,1145.7 258.5,1133.7 262.5,1129.8 266.5,1135.1 270.5,1136.7 275.5,1137.2 280.5,1139.1 284.5,1134.9 288.5,1140.3 292.5,1137.0 296.5,1138.3 300.5,1136.8 304.5,1141.8 310.5,1139.9 316.5,1137.8 322.5,1134.7 328.5,1138.7 334.5,1143.0 340.5,1135.8 346.5,1137.4 350.5,1135.6 354.5,1141.5 360.5,1135.1 365.5,1137.8 370.5,1136.7 374.5,1140.8 378.5,1135.5 382.5,1143.3 386.5,1132.1 390.5,1135.5 396.5,1135.2 402.5,1135.5 408.5,1131.3 414.5,1133.3 418.5,1141.9 422.5,1132.5 428.5,1135.7 434.5,1134.9 438.5,1140.6 440.5,1146.0 444.5,1137.0 452.5,1133.1 458.5,1135.8 464.5,1138.4 470.5,1136.0 476.5,1135.4 480.5,1131.2 485.5,1136.8 488.5,1129.5 492.5,1132.5 498.5,1131.2 502.5,1130.7 512.5,1131.2 518.5,1135.0 524.5,1137.2 528.5,1131.7 535.5,1131.5 540.5,1130.3 545.5,1132.9 552.5,1132.6 558.5,1137.3 562.5,1132.7 570.5,1134.8 578.5,1129.4 583.5,1135.5 588.5,1131.6 593.5,1129.6 597.5,1128.5 600.5,1134.6 605.5,1130.4 610.5,1135.0 617.5,1136.5 622.5,1131.8 630.5,1130.4 638.5,1131.7 645.5,1130.5 650.5,1131.3 657.5,1128.8 660.5,1136.6 663.5,1131.3 670.5,1130.5 675.5,1130.0 682.5,1130.8 687.5,1133.4 694.5,1130.3 700.5,1129.9 702.5,1122.6 708.5,1123.6 714.5,1122.6 718.5,1125.3 720.5,1131.3 724.5,1125.5 727.5,1130.6 730.5,1126.2 732.5,1125.3 733.5,1137.0 734.5,1149.2 737.5,1149.3 742.5,1148.0 745.5,1145.2 750.5,1148.4 755.5,1145.2 760.5,1144.2 768.5,1145.8 772.5,1146.6 778.5,1145.6 782.5,1144.1 786.5,1148.4 790.5,1147.7 796.5,1144.6 802.5,1152.5 808.5,1146.2 815.5,1142.8 820.5,1142.2 826.5,1144.5 835.5,1145.5 842.5,1143.6 848.5,1143.1 853.5,1144.8 858.5,1148.6 865.5,1147.0 870.5,1144.5 875.5,1146.6 878.5,1150.5 882.5,1145.5 890.5,1144.0 895.5,1148.3 900.5,1143.5 910.5,1144.8 915.5,1147.5 920.5,1149.8 925.5,1154.6 928.5,1159.4 932.5,1157.8 936.5,1160.2 940.5,1165.5 943.5,1166.5 945.5,1149.3 948.5,1136.8 952.5,1138.6 958.5,1138.0 962.5,1140.8 965.5,1135.4 970.5,1139.1 975.5,1144.6 980.5,1143.2 985.5,1147.0 990.5,1148.4 995.5,1143.2 1000.5,1143.7 1003.5,1142.3" fill="none" stroke="#c80000" stroke-width="1" stroke-linejoin="round" />
<rect x="67" y="1110" width="3" height="70" fill="#fff"/>
<rect x="20" y="1222" width="984" height="1" fill="#965a5a"/>
<rect x="20" y="1229" width="984" height="1" fill="#965a5a"/>
<polyline points="20.5,1254.5 25.5,1255.5 28.5,1258.5 32.5,1256.5 38.5,1252.5 42.5,1249.5 48.5,1244.5 52.5,1240.5 55.5,1247.5 58.5,1250.5 62.5,1231.5 66.5,1235.5 70.5,1242.5 73.5,1228.5 78.5,1222.5 82.5,1217.5 86.5,1224.5 90.5,1227.5 95.5,1221.5 100.5,1224.5 103.5,1227.5 108.5,1221.5 115.5,1220.5 122.5,1217.5 130.5,1217.5 135.5,1221.5 140.5,1223.5 148.5,1225.5 155.5,1223.5 160.5,1222.5 162.5,1217.5 165.5,1222.5 167.5,1240.5 172.5,1236.5 178.5,1240.5 185.5,1238.5 192.5,1240.5 200.5,1240.5 207.5,1238.5 213.5,1240.5 217.5,1245.5 222.5,1245.5 228.5,1248.5 234.5,1253.5 238.5,1246.5 242.5,1242.5 248.5,1249.5 252.5,1242.5 256.5,1245.5 262.5,1243.5 268.5,1247.5 275.5,1248.5 285.5,1250.5 292.5,1248.5 298.5,1247.5 304.5,1251.5 312.5,1253.5 320.5,1252.5 326.5,1248.5 334.5,1249.5 340.5,1251.5 350.5,1250.5 358.5,1252.5 365.5,1250.5 372.5,1250.5 380.5,1254.5 385.5,1249.5 392.5,1250.5 400.5,1250.5 410.5,1251.5 416.5,1255.5 420.5,1250.5 428.5,1244.5 435.5,1250.5 440.5,1256.5 448.5,1255.5 455.5,1251.5 462.5,1252.5 470.5,1254.5 478.5,1252.5 488.5,1248.5 496.5,1249.5 504.5,1246.5 512.5,1242.5 515.5,1247.5 520.5,1251.5 525.5,1253.5 530.5,1255.5 535.5,1257.5 538.5,1246.5 542.5,1243.5 548.5,1248.5 555.5,1245.5 560.5,1244.5 568.5,1248.5 575.5,1253.5 585.5,1255.5 592.5,1252.5 596.5,1243.5 600.5,1255.5 605.5,1248.5 612.5,1246.5 620.5,1248.5 628.5,1253.5 635.5,1245.5 642.5,1236.5 650.5,1230.5 658.5,1231.5 665.5,1238.5 670.5,1246.5 678.5,1247.5 685.5,1253.5 690.5,1249.5 695.5,1243.5 700.5,1253.5 708.5,1251.5 712.5,1252.5 718.5,1260.5 723.5,1255.5 730.5,1251.5 733.5,1240.5 735.5,1236.5 738.5,1240.5 742.5,1242.5 748.5,1248.5 752.5,1251.5 758.5,1245.5 765.5,1241.5 768.5,1242.5 772.5,1249.5 778.5,1250.5 783.5,1254.5 788.5,1247.5 795.5,1250.5 802.5,1251.5 806.5,1257.5 812.5,1250.5 820.5,1247.5 826.5,1245.5 832.5,1238.5 838.5,1243.5 845.5,1249.5 852.5,1251.5 858.5,1254.5 862.5,1250.5 868.5,1255.5 875.5,1255.5 880.5,1248.5 888.5,1248.5 895.5,1247.5 900.5,1244.5 908.5,1247.5 915.5,1246.5 922.5,1247.5 932.5,1244.5 938.5,1252.5 945.5,1254.5 952.5,1253.5 960.5,1253.5 968.5,1250.5 975.5,1250.5 983.5,1254.5 990.5,1255.5 1000.5,1253.5 1003.5,1253.5" fill="none" stroke="#000" stroke-width="1" stroke-linejoin="round" />
<polyline points="20.5,1256.8 25.5,1256.8 30.5,1257.7 35.5,1254.3 40.5,1253.8 45.5,1247.3 50.5,1241.6 53.5,1243.4 57.5,1245.6 60.5,1236.3 63.5,1234.7 67.5,1238.4 70.5,1239.1 73.5,1228.3 78.5,1226.1 82.5,1222.3 85.5,1224.5 90.5,1228.2 95.5,1223.1 100.5,1224.2 105.5,1225.3 110.5,1223.8 115.5,1223.0 122.5,1219.9 130.5,1220.9 135.5,1223.1 142.5,1227.3 150.5,1227.1 158.5,1225.7 162.5,1221.0 165.5,1222.9 167.5,1234.3 172.5,1233.4 178.5,1239.2 185.5,1237.8 192.5,1236.3 200.5,1238.9 206.5,1234.5 212.5,1235.5 218.5,1238.0 225.5,1242.4 232.5,1239.6 236.5,1243.3 242.5,1238.3 248.5,1241.1 256.5,1239.8 262.5,1243.7 268.5,1242.5 275.5,1244.0 285.5,1245.1 290.5,1246.9 300.5,1243.9 310.5,1248.3 318.5,1246.6 322.5,1242.8 326.5,1239.3 330.5,1248.4 340.5,1249.1 345.5,1246.5 352.5,1245.7 360.5,1246.6 368.5,1249.8 375.5,1251.8 380.5,1254.8 385.5,1245.5 392.5,1247.9 400.5,1245.2 408.5,1248.2 415.5,1249.1 420.5,1248.4 425.5,1246.1 432.5,1247.9 438.5,1252.4 440.5,1254.8 446.5,1250.6 452.5,1249.0 460.5,1247.2 466.5,1248.0 472.5,1250.9 480.5,1248.1 490.5,1247.6 500.5,1247.2 505.5,1245.4 512.5,1244.6 518.5,1249.8 525.5,1252.9 532.5,1251.6 538.5,1247.3 540.5,1244.6 548.5,1246.5 555.5,1247.6 565.5,1250.4 575.5,1247.8 585.5,1247.3 595.5,1248.7 600.5,1250.3 605.5,1248.0 615.5,1250.7 625.5,1251.4 635.5,1251.7 645.5,1247.1 655.5,1242.2 665.5,1245.1 675.5,1247.5 685.5,1247.9 692.5,1249.7 700.5,1253.9 708.5,1255.2 715.5,1257.3 722.5,1255.7 728.5,1253.6 732.5,1249.5 735.5,1234.3 737.5,1230.9 740.5,1234.0 745.5,1235.7 750.5,1249.5 758.5,1242.7 765.5,1239.9 768.5,1238.2 772.5,1244.7 780.5,1245.6 788.5,1247.7 795.5,1248.7 800.5,1246.4 806.5,1252.3 815.5,1250.2 822.5,1245.0 828.5,1249.1 833.5,1244.4 840.5,1244.4 848.5,1246.6 855.5,1247.6 860.5,1247.0 868.5,1249.5 875.5,1253.3 880.5,1250.3 885.5,1246.2 895.5,1246.1 900.5,1241.4 908.5,1244.1 915.5,1245.6 922.5,1241.7 930.5,1241.6 937.5,1247.9 945.5,1249.7 955.5,1247.3 962.5,1246.6 970.5,1244.6 978.5,1245.5 985.5,1249.3 992.5,1251.0 1000.5,1249.8 1003.5,1248.9" fill="none" stroke="#000" stroke-width="1" stroke-linejoin="round" />
<polyline points="20.5,1252.5 25.5,1252.5 30.5,1253.5 35.5,1252.5 40.5,1250.5 45.5,1244.5 50.5,1238.5 53.5,1241.5 57.5,1243.5 60.5,1233.5 63.5,1232.5 67.5,1235.5 70.5,1237.5 73.5,1226.5 78.5,1222.5 82.5,1219.5 85.5,1221.5 90.5,1224.5 95.5,1220.5 100.5,1222.5 105.5,1221.5 110.5,1220.5 115.5,1219.5 122.5,1216.5 130.5,1216.5 135.5,1220.5 142.5,1223.5 150.5,1224.5 158.5,1222.5 162.5,1217.5 165.5,1220.5 167.5,1232.5 172.5,1230.5 178.5,1235.5 185.5,1234.5 192.5,1233.5 200.5,1235.5 206.5,1232.5 212.5,1233.5 218.5,1235.5 225.5,1238.5 232.5,1237.5 236.5,1241.5 242.5,1236.5 248.5,1239.5 256.5,1237.5 262.5,1240.5 268.5,1238.5 275.5,1241.5 285.5,1242.5 290.5,1244.5 300.5,1241.5 310.5,1244.5 318.5,1243.5 322.5,1240.5 326.5,1237.5 330.5,1244.5 340.5,1245.5 345.5,1242.5 352.5,1243.5 360.5,1243.5 368.5,1245.5 375.5,1248.5 380.5,1250.5 385.5,1243.5 392.5,1243.5 400.5,1243.5 408.5,1245.5 415.5,1247.5 420.5,1244.5 425.5,1242.5 432.5,1243.5 438.5,1248.5 440.5,1250.5 446.5,1247.5 452.5,1244.5 460.5,1243.5 466.5,1245.5 472.5,1246.5 480.5,1245.5 490.5,1245.5 500.5,1245.5 505.5,1242.5 512.5,1242.5 518.5,1245.5 525.5,1248.5 532.5,1249.5 538.5,1245.5 540.5,1241.5 548.5,1244.5 555.5,1244.5 565.5,1246.5 575.5,1245.5 585.5,1244.5 595.5,1244.5 600.5,1247.5 605.5,1245.5 615.5,1246.5 625.5,1247.5 635.5,1247.5 645.5,1243.5 655.5,1239.5 665.5,1241.5 675.5,1243.5 685.5,1244.5 692.5,1247.5 700.5,1251.5 708.5,1252.5 715.5,1253.5 722.5,1252.5 728.5,1250.5 732.5,1245.5 735.5,1232.5 737.5,1227.5 740.5,1231.5 745.5,1232.5 750.5,1245.5 758.5,1240.5 765.5,1235.5 768.5,1236.5 772.5,1241.5 780.5,1242.5 788.5,1245.5 795.5,1245.5 800.5,1243.5 806.5,1249.5 815.5,1246.5 822.5,1243.5 828.5,1246.5 833.5,1240.5 840.5,1242.5 848.5,1242.5 855.5,1245.5 860.5,1243.5 868.5,1247.5 875.5,1250.5 880.5,1247.5 885.5,1244.5 895.5,1242.5 900.5,1238.5 908.5,1240.5 915.5,1242.5 922.5,1238.5 930.5,1238.5 937.5,1245.5 945.5,1245.5 955.5,1245.5 962.5,1242.5 970.5,1240.5 978.5,1242.5 985.5,1245.5 992.5,1247.5 1000.5,1246.5 1003.5,1246.5" fill="none" stroke="#c80000" stroke-width="1" stroke-linejoin="round" />
<polyline points="20.5,1254.9 25.5,1255.2 30.5,1254.9 35.5,1255.5 40.5,1251.9 45.5,1246.8 50.5,1239.7 53.5,1244.0 57.5,1244.8 60.5,1235.9 63.5,1234.9 67.5,1238.0 70.5,1239.4 73.5,1229.2 78.5,1225.5 82.5,1220.7 85.5,1223.5 90.5,1227.4 95.5,1223.0 100.5,1224.4 105.5,1223.1 110.5,1223.4 115.5,1220.7 122.5,1219.0 130.5,1219.2 135.5,1221.8 142.5,1225.2 150.5,1226.1 158.5,1224.6 162.5,1219.2 165.5,1223.3 167.5,1235.3 172.5,1232.1 178.5,1238.3 185.5,1235.6 192.5,1234.7 200.5,1237.8 206.5,1235.1 212.5,1236.1 218.5,1238.5 225.5,1241.2 232.5,1239.0 236.5,1244.0 242.5,1239.3 248.5,1240.7 256.5,1239.5 262.5,1241.8 268.5,1239.8 275.5,1243.5 285.5,1244.8 290.5,1247.4 300.5,1242.8 310.5,1246.5 318.5,1246.5 322.5,1243.0 326.5,1239.6 330.5,1246.0 340.5,1247.8 345.5,1244.0 352.5,1245.8 360.5,1245.8 368.5,1247.3 375.5,1251.1 380.5,1252.3 385.5,1245.4 392.5,1246.2 400.5,1245.0 408.5,1246.9 415.5,1249.6 420.5,1246.4 425.5,1245.2 432.5,1245.0 438.5,1250.2 440.5,1251.6 446.5,1249.4 452.5,1246.1 460.5,1245.4 466.5,1248.0 472.5,1247.6 480.5,1248.5 490.5,1247.9 500.5,1248.1 505.5,1244.6 512.5,1244.7 518.5,1247.3 525.5,1250.3 532.5,1250.9 538.5,1247.1 540.5,1243.1 548.5,1246.2 555.5,1247.3 565.5,1249.1 575.5,1247.8 585.5,1245.5 595.5,1246.0 600.5,1249.6 605.5,1247.9 615.5,1248.3 625.5,1249.8 635.5,1250.3 645.5,1245.0 655.5,1241.3 665.5,1244.0 675.5,1245.1 685.5,1246.9 692.5,1249.3 700.5,1252.5 708.5,1254.4 715.5,1254.6 722.5,1255.1 728.5,1253.2 732.5,1247.6 735.5,1235.3 737.5,1228.9 740.5,1233.4 745.5,1233.9 750.5,1246.6 758.5,1243.1 765.5,1236.6 768.5,1239.4 772.5,1243.6 780.5,1244.9 788.5,1246.6 795.5,1248.3 800.5,1246.1 806.5,1250.7 815.5,1247.9 822.5,1244.8 828.5,1248.5 833.5,1241.7 840.5,1245.1 848.5,1244.5 855.5,1247.9 860.5,1245.0 868.5,1249.8 875.5,1252.4 880.5,1249.8 885.5,1246.3 895.5,1245.5 900.5,1241.2 908.5,1243.2 915.5,1244.2 922.5,1239.9 930.5,1239.8 937.5,1246.8 945.5,1248.4 955.5,1247.1 962.5,1245.2 970.5,1242.0 978.5,1244.7 985.5,1247.0 992.5,1249.1 1000.5,1249.0 1003.5,1248.7" fill="none" stroke="#c80000" stroke-width="1" stroke-linejoin="round" />
<rect x="20" y="1403" width="47" height="1" fill="#965a5a"/>
<rect x="70" y="1403" width="934" height="1" fill="#965a5a"/>
<rect x="20" y="1410" width="47" height="1" fill="#965a5a"/>
<rect x="70" y="1410" width="934" height="1" fill="#965a5a"/>
<polyline points="20.5,1405.5 25.5,1405.5 30.5,1411.5 33.5,1405.5 38.5,1404.5 40.5,1401.5 45.5,1403.5 48.5,1407.5 50.5,1410.5 53.5,1425.5 57.5,1440.5 62.5,1438.5 66.5,1436.5 70.5,1439.5 75.5,1436.5 80.5,1434.5 88.5,1436.5 95.5,1438.5 103.5,1440.5 110.5,1440.5 116.5,1436.5 122.5,1434.5 128.5,1432.5 135.5,1434.5 142.5,1438.5 148.5,1440.5 155.5,1440.5 160.5,1438.5 165.5,1434.5 170.5,1432.5 175.5,1425.5 178.5,1400.5 180.5,1392.5 185.5,1392.5 195.5,1393.5 205.5,1395.5 215.5,1396.5 222.5,1399.5 232.5,1396.5 240.5,1398.5 248.5,1398.5 256.5,1399.5 258.5,1390.5 262.5,1387.5 268.5,1389.5 274.5,1390.5 280.5,1394.5 285.5,1393.5 292.5,1396.5 298.5,1397.5 304.5,1401.5 310.5,1397.5 318.5,1395.5 325.5,1396.5 332.5,1398.5 340.5,1395.5 348.5,1397.5 355.5,1396.5 362.5,1395.5 370.5,1396.5 374.5,1400.5 380.5,1402.5 385.5,1395.5 392.5,1395.5 400.5,1394.5 408.5,1392.5 415.5,1395.5 418.5,1404.5 422.5,1395.5 430.5,1394.5 438.5,1399.5 440.5,1401.5 446.5,1396.5 452.5,1394.5 458.5,1395.5 460.5,1400.5 462.5,1406.5 470.5,1407.5 476.5,1405.5 478.5,1400.5 485.5,1394.5 490.5,1392.5 500.5,1392.5 512.5,1393.5 518.5,1395.5 524.5,1398.5 528.5,1393.5 535.5,1392.5 542.5,1393.5 550.5,1394.5 558.5,1396.5 565.5,1393.5 575.5,1393.5 580.5,1396.5 585.5,1393.5 592.5,1392.5 600.5,1393.5 607.5,1393.5 614.5,1395.5 620.5,1392.5 630.5,1391.5 638.5,1392.5 645.5,1391.5 655.5,1391.5 665.5,1392.5 675.5,1391.5 683.5,1392.5 686.5,1393.5 690.5,1380.5 692.5,1379.5 700.5,1379.5 710.5,1378.5 715.5,1379.5 720.5,1384.5 725.5,1382.5 728.5,1385.5 733.5,1381.5 734.0,1395.5 734.5,1412.5 737.5,1412.5 740.5,1408.5 745.5,1400.5 752.5,1399.5 760.5,1397.5 764.5,1394.5 768.5,1398.5 775.5,1397.5 782.5,1397.5 785.5,1406.5 790.5,1405.5 796.5,1397.5 802.5,1399.5 806.5,1402.5 810.5,1396.5 818.5,1395.5 825.5,1398.5 830.5,1399.5 835.5,1396.5 845.5,1395.5 855.5,1397.5 858.5,1402.5 862.5,1397.5 870.5,1398.5 875.5,1400.5 880.5,1396.5 888.5,1395.5 895.5,1397.5 899.5,1393.5 900.5,1378.5 905.5,1379.5 912.5,1380.5 918.5,1382.5 922.5,1385.5 930.5,1387.5 936.5,1388.5 940.5,1392.5 942.5,1390.5 946.5,1372.5 955.5,1373.5 965.5,1373.5 975.5,1375.5 985.5,1374.5 990.5,1376.5 995.5,1373.5 1000.5,1372.5 1003.5,1373.5" fill="none" stroke="#000" stroke-width="1" stroke-linejoin="round" />
<polyline points="20.5,1406.5 25.5,1407.5 28.5,1409.5 32.5,1406.5 36.5,1404.5 40.5,1401.5 45.5,1401.5 48.5,1402.5 50.5,1408.5 52.5,1420.5 55.5,1432.5 57.5,1438.5 60.5,1437.5 63.5,1435.5 66.5,1434.5 70.5,1433.5 75.5,1432.5 80.5,1431.5 88.5,1432.5 95.5,1432.5 103.5,1433.5 110.5,1434.5 116.5,1431.5 122.5,1430.5 128.5,1428.5 135.5,1430.5 142.5,1433.5 148.5,1435.5 155.5,1437.5 160.5,1436.5 163.5,1431.5 168.5,1429.5 173.5,1427.5 176.5,1420.5 178.5,1400.5 180.5,1394.5 185.5,1393.5 192.5,1392.5 198.5,1394.5 205.5,1395.5 215.5,1396.5 220.5,1397.5 225.5,1399.5 232.5,1397.5 240.5,1398.5 248.5,1399.5 256.5,1399.5 258.5,1391.5 262.5,1388.5 268.5,1390.5 274.5,1391.5 280.5,1395.5 285.5,1394.5 292.5,1397.5 298.5,1398.5 304.5,1402.5 310.5,1398.5 318.5,1396.5 325.5,1397.5 332.5,1398.5 340.5,1396.5 348.5,1398.5 355.5,1397.5 362.5,1396.5 370.5,1397.5 374.5,1401.5 380.5,1402.5 385.5,1396.5 392.5,1396.5 400.5,1395.5 408.5,1393.5 415.5,1396.5 418.5,1403.5 422.5,1396.5 430.5,1395.5 438.5,1400.5 440.5,1402.5 446.5,1397.5 452.5,1395.5 458.5,1396.5 462.5,1397.5 470.5,1398.5 478.5,1397.5 485.5,1395.5 490.5,1393.5 500.5,1393.5 512.5,1394.5 518.5,1396.5 524.5,1399.5 528.5,1394.5 535.5,1393.5 542.5,1394.5 550.5,1395.5 558.5,1396.5 565.5,1394.5 575.5,1394.5 580.5,1396.5 585.5,1394.5 592.5,1393.5 600.5,1394.5 607.5,1394.5 614.5,1396.5 620.5,1393.5 630.5,1392.5 638.5,1393.5 645.5,1392.5 655.5,1392.5 665.5,1393.5 675.5,1392.5 683.5,1393.5 686.5,1394.5 690.5,1381.5 692.5,1380.5 700.5,1380.5 710.5,1379.5 715.5,1380.5 720.5,1383.5 725.5,1381.5 728.5,1383.5 733.5,1380.5 734.0,1395.5 734.5,1411.5 737.5,1411.5 740.5,1409.5 745.5,1401.5 752.5,1400.5 760.5,1399.5 764.5,1396.5 768.5,1400.5 775.5,1402.5 782.5,1402.5 786.5,1404.5 790.5,1403.5 795.5,1400.5 800.5,1400.5 805.5,1405.5 810.5,1398.5 818.5,1397.5 825.5,1398.5 832.5,1400.5 837.5,1402.5 842.5,1398.5 850.5,1397.5 858.5,1399.5 865.5,1399.5 875.5,1400.5 880.5,1399.5 885.5,1397.5 895.5,1397.5 899.5,1394.5 900.5,1383.5 905.5,1384.5 910.5,1386.5 918.5,1388.5 922.5,1391.5 930.5,1393.5 938.5,1395.5 942.5,1398.5 944.5,1387.5 946.5,1372.5 955.5,1373.5 965.5,1373.5 975.5,1374.5 985.5,1376.5 988.5,1378.5 992.5,1373.5 995.5,1372.5 1000.5,1371.5 1003.5,1372.5" fill="none" stroke="#c8d800" stroke-width="1" stroke-linejoin="round" />
<polyline points="20.5,1407.9 25.5,1409.4 28.5,1411.3 32.5,1407.7 36.5,1406.4 40.5,1403.1 45.5,1402.5 48.5,1404.5 50.5,1409.8 52.5,1421.8 55.5,1433.9 57.5,1440.1 60.5,1438.6 63.5,1437.2 66.5,1436.3 70.5,1435.0 75.5,1434.3 80.5,1433.1 88.5,1434.3 95.5,1433.7 103.5,1434.9 110.5,1436.0 116.5,1432.6 122.5,1432.5 128.5,1430.1 135.5,1431.6 142.5,1435.1 148.5,1436.9 155.5,1438.7 160.5,1437.7 163.5,1433.0 168.5,1430.6 173.5,1429.1 176.5,1422.0 178.5,1401.6 180.5,1396.4 185.5,1394.5 192.5,1393.7 198.5,1396.3 205.5,1396.7 215.5,1397.9 220.5,1399.1 225.5,1400.9 232.5,1399.0 240.5,1400.0 248.5,1401.0 256.5,1400.6 258.5,1393.3 262.5,1389.8 268.5,1391.5 274.5,1392.9 280.5,1397.3 285.5,1396.1 292.5,1399.0 298.5,1400.0 304.5,1403.7 310.5,1400.1 318.5,1397.9 325.5,1398.6 332.5,1399.6 340.5,1397.6 348.5,1400.2 355.5,1399.4 362.5,1398.3 370.5,1398.7 374.5,1402.6 380.5,1404.5 385.5,1397.9 392.5,1397.7 400.5,1397.1 408.5,1395.1 415.5,1398.0 418.5,1405.0 422.5,1397.8 430.5,1397.0 438.5,1402.0 440.5,1404.2 446.5,1398.9 452.5,1396.9 458.5,1398.5 462.5,1398.6 470.5,1400.3 478.5,1398.9 485.5,1397.3 490.5,1395.2 500.5,1395.1 512.5,1396.1 518.5,1397.7 524.5,1400.5 528.5,1396.2 535.5,1394.8 542.5,1395.6 550.5,1397.3 558.5,1398.1 565.5,1395.5 575.5,1396.0 580.5,1397.7 585.5,1396.4 592.5,1394.8 600.5,1396.4 607.5,1396.1 614.5,1397.6 620.5,1394.9 630.5,1394.5 638.5,1395.2 645.5,1393.7 655.5,1393.9 665.5,1394.8 675.5,1393.6 683.5,1395.1 686.5,1396.2 690.5,1382.7 692.5,1382.1 700.5,1382.4 710.5,1381.4 715.5,1381.7 720.5,1384.6 725.5,1383.4 728.5,1384.8 733.5,1381.7 734.0,1397.3 734.5,1412.8 737.5,1413.2 740.5,1411.2 745.5,1402.8 752.5,1402.0 760.5,1400.8 764.5,1398.3 768.5,1401.8 775.5,1403.8 782.5,1404.4 786.5,1405.8 790.5,1404.9 795.5,1402.0 800.5,1401.5 805.5,1406.8 810.5,1400.2 818.5,1399.5 825.5,1399.8 832.5,1402.0 837.5,1403.6 842.5,1400.0 850.5,1398.9 858.5,1401.0 865.5,1400.8 875.5,1401.8 880.5,1401.4 885.5,1399.3 895.5,1398.9 899.5,1395.6 900.5,1384.6 905.5,1385.6 910.5,1387.6 918.5,1390.1 922.5,1393.0 930.5,1394.6 938.5,1397.4 942.5,1400.2 944.5,1389.2 946.5,1374.4 955.5,1374.8 965.5,1375.4 975.5,1376.5 985.5,1378.4 988.5,1379.5 992.5,1375.4 995.5,1374.5 1000.5,1372.6 1003.5,1374.4" fill="none" stroke="#c8d800" stroke-width="1" stroke-linejoin="round" />
<rect x="67" y="1365" width="3" height="85" fill="#fff"/>
<rect x="20" y="1480" width="984" height="1" fill="#965a5a"/>
<rect x="20" y="1487" width="984" height="1" fill="#965a5a"/>
<polyline points="20.5,1510.5 25.5,1511.5 33.5,1513.5 38.5,1503.5 42.5,1500.5 46.5,1493.5 50.5,1492.5 52.5,1498.5 55.5,1503.5 58.5,1508.5 62.5,1505.5 68.5,1502.5 75.5,1497.5 80.5,1497.5 85.5,1496.5 90.5,1498.5 95.5,1503.5 100.5,1510.5 103.5,1507.5 108.5,1504.5 110.5,1506.5 113.5,1497.5 118.5,1493.5 125.5,1490.5 132.5,1488.5 138.5,1490.5 145.5,1492.5 155.5,1491.5 162.5,1487.5 168.5,1490.5 172.5,1486.5 178.5,1490.5 185.5,1484.5 195.5,1483.5 205.5,1481.5 210.5,1480.5 218.5,1482.5 225.5,1486.5 230.5,1488.5 234.5,1496.5 238.5,1488.5 245.5,1484.5 250.5,1489.5 253.5,1482.5 256.5,1482.5 262.5,1482.5 268.5,1484.5 275.5,1485.5 282.5,1484.5 290.5,1486.5 298.5,1490.5 305.5,1495.5 310.5,1493.5 316.5,1487.5 322.5,1483.5 328.5,1487.5 334.5,1489.5 340.5,1485.5 346.5,1484.5 352.5,1488.5 358.5,1487.5 365.5,1485.5 372.5,1485.5 378.5,1489.5 381.5,1497.5 385.5,1489.5 392.5,1487.5 398.5,1489.5 405.5,1485.5 410.5,1486.5 418.5,1494.5 422.5,1482.5 427.5,1479.5 432.5,1483.5 438.5,1489.5 441.5,1494.5 446.5,1489.5 452.5,1486.5 460.5,1483.5 468.5,1488.5 475.5,1487.5 482.5,1486.5 490.5,1485.5 497.5,1483.5 502.5,1481.5 512.5,1482.5 518.5,1483.5 524.5,1486.5 530.5,1487.5 535.5,1483.5 540.5,1481.5 545.5,1485.5 550.5,1482.5 555.5,1485.5 558.5,1488.5 562.5,1484.5 570.5,1485.5 580.5,1485.5 588.5,1485.5 592.5,1486.5 598.5,1483.5 600.5,1488.5 603.5,1478.5 607.5,1473.5 612.5,1472.5 618.5,1474.5 622.5,1479.5 628.5,1480.5 635.5,1478.5 642.5,1476.5 650.5,1474.5 656.5,1471.5 662.5,1472.5 668.5,1472.5 675.5,1473.5 682.5,1471.5 688.5,1474.5 692.5,1481.5 696.5,1486.5 700.5,1489.5 705.5,1486.5 710.5,1482.5 715.5,1485.5 718.5,1490.5 722.5,1489.5 728.5,1488.5 732.5,1484.5 735.5,1473.5 738.5,1470.5 745.5,1472.5 748.5,1475.5 750.5,1483.5 752.5,1474.5 758.5,1473.5 762.5,1467.5 768.5,1467.5 772.5,1476.5 778.5,1479.5 785.5,1480.5 790.5,1484.5 796.5,1480.5 802.5,1485.5 806.5,1488.5 812.5,1478.5 820.5,1475.5 828.5,1473.5 838.5,1475.5 846.5,1478.5 850.5,1475.5 860.5,1474.5 866.5,1476.5 872.5,1475.5 878.5,1479.5 882.5,1469.5 890.5,1467.5 898.5,1465.5 900.5,1472.5 905.5,1472.5 915.5,1472.5 922.5,1469.5 930.5,1466.5 935.5,1466.5 940.5,1472.5 944.5,1468.5 946.5,1481.5 950.5,1481.5 958.5,1479.5 965.5,1478.5 975.5,1477.5 985.5,1479.5 990.5,1481.5 1000.5,1481.5 1003.5,1482.5" fill="none" stroke="#000" stroke-width="1" stroke-linejoin="round" />
<polyline points="20.5,1503.1 25.5,1501.8 30.5,1503.8 35.5,1501.7 40.5,1498.4 45.5,1498.2 48.5,1496.1 52.5,1493.4 55.5,1499.9 58.5,1504.5 62.5,1496.8 65.5,1494.6 70.5,1495.7 75.5,1499.3 80.5,1493.3 85.5,1492.2 90.5,1494.6 95.5,1491.4 100.5,1496.6 105.5,1493.8 110.5,1488.6 118.5,1489.7 125.5,1488.3 130.5,1487.6 136.5,1488.2 142.5,1491.3 150.5,1489.4 158.5,1489.6 165.5,1485.0 172.5,1483.6 180.5,1484.6 190.5,1483.4 200.5,1482.3 208.5,1481.7 215.5,1484.6 222.5,1487.3 230.5,1488.3 235.5,1489.3 240.5,1484.3 245.5,1482.8 250.5,1482.4 256.5,1481.9 262.5,1483.6 268.5,1484.2 275.5,1485.3 282.5,1484.5 290.5,1485.4 298.5,1488.5 305.5,1493.6 310.5,1492.0 316.5,1486.4 322.5,1483.3 328.5,1487.2 334.5,1490.2 340.5,1486.7 346.5,1483.5 352.5,1488.6 358.5,1484.6 365.5,1486.2 372.5,1486.6 378.5,1490.0 381.5,1495.7 385.5,1488.4 392.5,1486.5 398.5,1488.9 405.5,1484.5 410.5,1485.6 418.5,1493.6 422.5,1482.1 427.5,1480.5 432.5,1484.1 438.5,1490.2 441.5,1493.5 446.5,1490.0 452.5,1486.1 460.5,1483.4 468.5,1486.2 475.5,1484.4 482.5,1485.4 490.5,1485.7 497.5,1483.6 502.5,1482.6 512.5,1482.8 518.5,1484.3 524.5,1486.4 530.5,1487.7 535.5,1484.3 540.5,1480.4 545.5,1484.3 550.5,1482.3 555.5,1485.0 558.5,1489.3 562.5,1483.5 570.5,1484.7 580.5,1484.5 588.5,1485.8 592.5,1486.4 598.5,1481.3 600.5,1486.9 603.5,1479.3 607.5,1473.4 612.5,1474.6 618.5,1475.5 622.5,1481.5 628.5,1480.9 635.5,1479.6 642.5,1476.2 650.5,1473.5 656.5,1472.6 662.5,1473.4 668.5,1472.0 675.5,1472.6 682.5,1471.7 688.5,1476.7 692.5,1482.3 696.5,1487.2 700.5,1490.0 705.5,1487.5 710.5,1483.9 715.5,1487.1 718.5,1491.5 722.5,1488.4 728.5,1488.6 732.5,1484.9 735.5,1473.5 738.5,1470.0 745.5,1472.3 748.5,1475.8 750.5,1483.5 752.5,1474.3 758.5,1475.5 762.5,1469.0 768.5,1466.5 772.5,1475.8 778.5,1480.1 785.5,1482.6 792.5,1488.1 798.5,1481.4 805.5,1483.8 812.5,1480.9 820.5,1477.6 825.5,1476.2 832.5,1477.6 840.5,1479.7 844.5,1488.4 846.5,1492.5 848.5,1480.6 855.5,1485.1 860.5,1476.8 866.5,1478.7 872.5,1479.4 876.5,1483.3 880.5,1476.9 888.5,1475.8 895.5,1473.6 900.5,1472.3 905.5,1473.0 912.5,1472.1 920.5,1469.9 926.5,1468.2 932.5,1465.0 938.5,1467.9 942.5,1474.6 945.5,1482.7 947.5,1492.4 950.5,1494.4 955.5,1491.9 962.5,1489.6 970.5,1486.4 976.5,1485.4 982.5,1488.7 988.5,1493.0 995.5,1495.7 1000.5,1493.9 1003.5,1492.8" fill="none" stroke="#000" stroke-width="1" stroke-linejoin="round" />
<polyline points="20.5,1503.5 25.5,1503.5 30.5,1505.5 35.5,1502.5 40.5,1500.5 45.5,1498.5 48.5,1496.5 52.5,1495.5 55.5,1500.5 58.5,1505.5 62.5,1497.5 65.5,1494.5 70.5,1495.5 75.5,1500.5 80.5,1493.5 85.5,1492.5 90.5,1494.5 95.5,1493.5 100.5,1496.5 105.5,1495.5 110.5,1490.5 118.5,1490.5 125.5,1488.5 130.5,1487.5 136.5,1489.5 142.5,1491.5 150.5,1491.5 158.5,1489.5 165.5,1486.5 172.5,1484.5 180.5,1486.5 190.5,1485.5 200.5,1484.5 208.5,1482.5 215.5,1485.5 222.5,1487.5 230.5,1488.5 235.5,1490.5 240.5,1484.5 245.5,1484.5 250.5,1482.5 256.5,1483.5 262.5,1483.5 268.5,1485.5 275.5,1486.5 282.5,1485.5 290.5,1487.5 298.5,1490.5 305.5,1494.5 310.5,1492.5 316.5,1488.5 322.5,1484.5 328.5,1488.5 334.5,1490.5 340.5,1486.5 346.5,1485.5 352.5,1489.5 358.5,1486.5 365.5,1486.5 372.5,1486.5 378.5,1490.5 381.5,1496.5 385.5,1490.5 392.5,1488.5 398.5,1490.5 405.5,1486.5 410.5,1487.5 418.5,1493.5 422.5,1483.5 427.5,1480.5 432.5,1484.5 438.5,1490.5 441.5,1493.5 446.5,1490.5 452.5,1487.5 460.5,1484.5 468.5,1487.5 475.5,1486.5 482.5,1487.5 490.5,1486.5 497.5,1484.5 502.5,1482.5 512.5,1483.5 518.5,1484.5 524.5,1487.5 530.5,1488.5 535.5,1484.5 540.5,1482.5 545.5,1486.5 550.5,1483.5 555.5,1486.5 558.5,1490.5 562.5,1485.5 570.5,1486.5 580.5,1486.5 588.5,1486.5 592.5,1488.5 598.5,1483.5 600.5,1487.5 603.5,1480.5 607.5,1475.5 612.5,1474.5 618.5,1476.5 622.5,1481.5 628.5,1481.5 635.5,1480.5 642.5,1477.5 650.5,1475.5 656.5,1472.5 662.5,1474.5 668.5,1473.5 675.5,1474.5 682.5,1472.5 688.5,1476.5 692.5,1483.5 696.5,1487.5 700.5,1490.5 705.5,1488.5 710.5,1484.5 715.5,1487.5 718.5,1491.5 722.5,1490.5 728.5,1490.5 732.5,1486.5 735.5,1475.5 738.5,1471.5 745.5,1473.5 748.5,1477.5 750.5,1484.5 752.5,1476.5 758.5,1475.5 762.5,1469.5 768.5,1468.5 772.5,1477.5 778.5,1480.5 785.5,1484.5 792.5,1488.5 798.5,1483.5 805.5,1484.5 812.5,1481.5 820.5,1478.5 825.5,1476.5 832.5,1477.5 840.5,1479.5 844.5,1490.5 846.5,1493.5 848.5,1482.5 855.5,1485.5 860.5,1478.5 866.5,1480.5 872.5,1481.5 876.5,1485.5 880.5,1478.5 888.5,1477.5 895.5,1474.5 900.5,1472.5 905.5,1473.5 912.5,1473.5 920.5,1471.5 926.5,1468.5 932.5,1466.5 938.5,1468.5 942.5,1474.5 945.5,1483.5 947.5,1493.5 950.5,1496.5 955.5,1493.5 962.5,1489.5 970.5,1488.5 976.5,1487.5 982.5,1489.5 988.5,1494.5 995.5,1496.5 1000.5,1495.5 1003.5,1494.5" fill="none" stroke="#c8d800" stroke-width="1" stroke-linejoin="round" />
<polyline points="20.5,1505.8 25.5,1505.9 30.5,1508.4 35.5,1503.9 40.5,1501.6 45.5,1501.1 48.5,1498.2 52.5,1497.2 55.5,1503.1 58.5,1506.9 62.5,1500.3 65.5,1496.5 70.5,1496.6 75.5,1503.3 80.5,1495.6 85.5,1493.7 90.5,1497.2 95.5,1496.0 100.5,1499.0 105.5,1497.8 110.5,1493.5 118.5,1491.5 125.5,1491.4 130.5,1489.8 136.5,1491.0 142.5,1493.7 150.5,1493.2 158.5,1491.8 165.5,1488.9 172.5,1486.5 180.5,1487.7 190.5,1487.3 200.5,1486.1 208.5,1485.0 215.5,1488.4 222.5,1490.1 230.5,1490.6 235.5,1491.8 240.5,1486.9 245.5,1486.0 250.5,1485.5 256.5,1484.8 262.5,1486.4 268.5,1486.5 275.5,1489.1 282.5,1487.2 290.5,1489.6 298.5,1492.3 305.5,1496.1 310.5,1494.4 316.5,1491.1 322.5,1486.2 328.5,1490.2 334.5,1493.1 340.5,1487.9 346.5,1487.2 352.5,1491.5 358.5,1488.5 365.5,1487.8 372.5,1489.0 378.5,1492.5 381.5,1497.7 385.5,1492.2 392.5,1489.6 398.5,1492.2 405.5,1487.7 410.5,1489.0 418.5,1495.6 422.5,1485.9 427.5,1482.1 432.5,1486.4 438.5,1492.5 441.5,1495.7 446.5,1493.3 452.5,1488.9 460.5,1487.0 468.5,1489.6 475.5,1489.3 482.5,1489.9 490.5,1487.5 497.5,1485.6 502.5,1485.1 512.5,1485.1 518.5,1486.7 524.5,1488.7 530.5,1490.6 535.5,1486.3 540.5,1484.4 545.5,1487.5 550.5,1486.3 555.5,1489.2 558.5,1493.0 562.5,1487.7 570.5,1488.0 580.5,1487.9 588.5,1489.2 592.5,1490.2 598.5,1485.3 600.5,1490.3 603.5,1482.2 607.5,1478.5 612.5,1475.9 618.5,1479.2 622.5,1483.1 628.5,1482.8 635.5,1482.4 642.5,1480.1 650.5,1476.7 656.5,1474.7 662.5,1477.2 668.5,1474.6 675.5,1476.5 682.5,1474.1 688.5,1478.4 692.5,1486.2 696.5,1489.4 700.5,1492.1 705.5,1489.9 710.5,1487.1 715.5,1488.8 718.5,1493.9 722.5,1493.5 728.5,1492.9 732.5,1489.3 735.5,1476.7 738.5,1473.7 745.5,1475.7 748.5,1478.7 750.5,1486.4 752.5,1478.1 758.5,1476.8 762.5,1471.3 768.5,1469.7 772.5,1480.3 778.5,1481.8 785.5,1486.6 792.5,1490.9 798.5,1484.5 805.5,1487.4 812.5,1484.3 820.5,1480.7 825.5,1478.5 832.5,1480.2 840.5,1481.7 844.5,1491.9 846.5,1496.4 848.5,1483.9 855.5,1487.6 860.5,1480.6 866.5,1483.0 872.5,1483.2 876.5,1487.8 880.5,1479.9 888.5,1479.9 895.5,1475.8 900.5,1474.2 905.5,1475.5 912.5,1476.0 920.5,1474.3 926.5,1471.4 932.5,1468.4 938.5,1469.6 942.5,1476.7 945.5,1485.7 947.5,1496.0 950.5,1497.6 955.5,1496.1 962.5,1490.8 970.5,1491.2 976.5,1490.5 982.5,1491.6 988.5,1496.4 995.5,1498.8 1000.5,1496.8 1003.5,1496.8" fill="none" stroke="#c8d800" stroke-width="1" stroke-linejoin="round" />
<polyline points="20.5,463.5 25.5,463.5 30.5,463.5 35.5,463.5 39.5,463.5 40.5,462.5 44.5,462.5 45.5,463.5 48.5,463.5" fill="none" stroke="#e08000" stroke-width="1"/>
<polyline points="20.5,465.5 25.5,465.5 29.5,465.5 30.5,466.5 34.5,466.5 35.5,465.5 39.5,465.5 40.5,464.5 44.5,464.5 45.5,463.5 47.5,463.5 48.5,461.5" fill="none" stroke="#a0a000" stroke-width="1"/>
<polyline points="20.5,467.5 24.5,467.5 25.5,468.5 29.5,468.5 30.5,467.5 35.5,467.5 40.5,467.5 44.5,467.5 45.5,466.5 48.5,466.5" fill="none" stroke="#6b8e23" stroke-width="1"/>
<polyline points="20.5,469.5 25.5,469.5 29.5,469.5 30.5,468.5 35.5,468.5 40.5,468.5 44.5,468.5 45.5,467.5 48.5,467.5" fill="none" stroke="#d2691e" stroke-width="1"/>
<polyline points="20.5,470.5 25.5,470.5 30.5,470.5 34.5,470.5 35.5,471.5 40.5,471.5 44.5,471.5 45.5,470.5 47.5,470.5 48.5,469.5" fill="none" stroke="#ff4040" stroke-width="1"/>
<polyline points="20.5,472.5 25.5,472.5 30.5,472.5 34.5,472.5 35.5,471.5 40.5,471.5 45.5,471.5 47.5,471.5 48.5,470.5" fill="none" stroke="#40e000" stroke-width="1"/>
<polyline points="20.5,474.5 24.5,474.5 25.5,473.5 30.5,473.5 35.5,473.5 40.5,473.5 44.5,473.5 45.5,472.5 47.5,472.5 48.5,471.5" fill="none" stroke="#6b8e23" stroke-width="1"/>
<polyline points="20.5,475.5 25.5,475.5 30.5,475.5 35.5,475.5 40.5,475.5 44.5,475.5 45.5,474.5 47.5,474.5 48.5,476.5" fill="none" stroke="#d2691e" stroke-width="1"/>
<polyline points="20.5,477.5 25.5,477.5 30.5,477.5 34.5,477.5 35.5,476.5 40.5,476.5 44.5,476.5 45.5,474.5 48.5,474.5" fill="none" stroke="#90c020" stroke-width="1"/>
<polyline points="20.5,479.5 24.5,479.5 25.5,478.5 30.5,478.5 35.5,478.5 39.5,478.5 40.5,477.5 45.5,477.5 48.5,477.5" fill="none" stroke="#c0a0e0" stroke-width="1"/>
<polyline points="20.5,480.5 25.5,480.5 29.5,480.5 30.5,481.5 35.5,481.5 39.5,481.5 40.5,480.5 45.5,480.5 48.5,480.5" fill="none" stroke="#cc0044" stroke-width="1"/>
<polyline points="20.5,482.5 25.5,482.5 30.5,482.5 34.5,482.5 35.5,481.5 40.5,481.5 45.5,481.5 48.5,481.5" fill="none" stroke="#000040" stroke-width="1"/>
<polyline points="20.5,483.5 24.5,483.5 25.5,484.5 29.5,484.5 30.5,482.5 35.5,482.5 40.5,482.5 45.5,482.5 48.5,482.5" fill="none" stroke="#990099" stroke-width="1"/>
<polyline points="20.5,485.5 25.5,485.5 30.5,485.5 34.5,485.5 35.5,486.5 39.5,486.5 40.5,485.5 45.5,485.5 48.5,485.5" fill="none" stroke="#e0a080" stroke-width="1"/>
<polyline points="20.5,486.5 25.5,486.5 30.5,486.5 34.5,486.5 35.5,484.5 40.5,484.5 45.5,484.5 48.5,484.5" fill="none" stroke="#a0522d" stroke-width="1"/>
<polyline points="20.5,490.5 24.5,490.5 25.5,488.5 30.5,488.5 35.5,488.5 39.5,488.5 40.5,487.5 44.5,487.5 45.5,488.5 47.5,488.5 48.5,487.5" fill="none" stroke="#990099" stroke-width="1"/>
<polyline points="20.5,489.5 24.5,489.5 25.5,488.5 30.5,488.5 34.5,488.5 35.5,489.5 39.5,489.5 40.5,490.5 45.5,490.5 48.5,490.5" fill="none" stroke="#c06060" stroke-width="1"/>
<polyline points="20.5,492.5 25.5,492.5 30.5,492.5 34.5,492.5 35.5,491.5 40.5,491.5 45.5,491.5 47.5,491.5 48.5,492.5" fill="none" stroke="#b22222" stroke-width="1"/>
<polyline points="20.5,493.5 25.5,493.5 29.5,493.5 30.5,494.5 34.5,494.5 35.5,496.5 39.5,496.5 40.5,495.5 45.5,495.5 48.5,495.5" fill="none" stroke="#cc33aa" stroke-width="1"/>
<polyline points="20.5,495.5 25.5,495.5 30.5,495.5 35.5,495.5 40.5,495.5 45.5,495.5 48.5,495.5" fill="none" stroke="#8899ee" stroke-width="1"/>
<polyline points="20.5,498.5 25.5,498.5 30.5,498.5 35.5,498.5 39.5,498.5 40.5,497.5 44.5,497.5 45.5,496.5 48.5,496.5" fill="none" stroke="#55bbff" stroke-width="1"/>
<polyline points="20.5,498.5 25.5,498.5 30.5,498.5 35.5,498.5 40.5,498.5 45.5,498.5 47.5,498.5 48.5,497.5" fill="none" stroke="#55bbff" stroke-width="1"/>
<polyline points="48.5,463.5 55.5,501.5 60.5,501.5 65.5,501.5 69.5,501.5 70.5,502.5 74.5,502.5 75.5,501.5 78.5,501.5 80.5,501.5 85.5,501.5 90.5,501.5 94.5,501.5 95.5,500.5 100.5,500.5 104.5,500.5 105.5,502.5 110.5,502.5 115.5,502.5 120.5,502.5 124.5,502.5 125.5,500.5 127.5,500.5 128.5,499.5 129.5,499.5 130.5,500.5 134.5,500.5 135.5,501.5 137.5,501.5 138.5,502.5 140.5,502.5 144.5,502.5 145.5,501.5 150.5,501.5 155.5,501.5 160.5,501.5 165.5,501.5 169.5,501.5 170.5,503.5 175.5,503.5 176.5,503.5" fill="none" stroke="#55bbff" stroke-width="1"/>
<polyline points="48.5,461.5 55.5,500.5 60.5,500.5 65.5,500.5 70.5,500.5 74.5,500.5 75.5,499.5 77.5,499.5 78.5,500.5 80.5,500.5 84.5,500.5 85.5,501.5 90.5,501.5 95.5,501.5 100.5,501.5 105.5,501.5 110.5,501.5 114.5,501.5 115.5,502.5 120.5,502.5 124.5,502.5 125.5,500.5 128.5,500.5 130.5,500.5 134.5,500.5 135.5,501.5 138.5,501.5 140.5,501.5 145.5,501.5 150.5,501.5 154.5,501.5 155.5,500.5 159.5,500.5 160.5,501.5 165.5,501.5 170.5,501.5 175.5,501.5 176.5,501.5" fill="none" stroke="#40e000" stroke-width="1"/>
<polyline points="48.5,466.5 55.5,501.5 60.5,501.5 65.5,501.5 69.5,501.5 70.5,502.5 74.5,502.5 75.5,501.5 78.5,501.5 79.5,501.5 80.5,499.5 84.5,499.5 85.5,500.5 89.5,500.5 90.5,502.5 94.5,502.5 95.5,503.5 99.5,503.5 100.5,501.5 104.5,501.5 105.5,502.5 110.5,502.5 114.5,502.5 115.5,501.5 120.5,501.5 124.5,501.5 125.5,499.5 127.5,499.5 128.5,498.5 129.5,498.5 130.5,499.5 134.5,499.5 135.5,500.5 138.5,500.5 139.5,500.5 140.5,501.5 145.5,501.5 150.5,501.5 155.5,501.5 159.5,501.5 160.5,500.5 165.5,500.5 170.5,500.5 175.5,500.5 176.5,500.5" fill="none" stroke="#90c020" stroke-width="1"/>
<polyline points="48.5,467.5 55.5,503.5 59.5,503.5 60.5,502.5 65.5,502.5 70.5,502.5 74.5,502.5 75.5,501.5 78.5,501.5 79.5,501.5 80.5,500.5 84.5,500.5 85.5,501.5 90.5,501.5 94.5,501.5 95.5,502.5 100.5,502.5 105.5,502.5 110.5,502.5 114.5,502.5 115.5,501.5 120.5,501.5 124.5,501.5 125.5,499.5 127.5,499.5 128.5,498.5 129.5,498.5 130.5,500.5 134.5,500.5 135.5,502.5 138.5,502.5 140.5,502.5 145.5,502.5 150.5,502.5 155.5,502.5 160.5,502.5 165.5,502.5 170.5,502.5 175.5,502.5 176.5,502.5" fill="none" stroke="#a0a000" stroke-width="1"/>
<polyline points="48.5,469.5 55.5,504.5 60.5,504.5 64.5,504.5 65.5,503.5 69.5,503.5 70.5,502.5 74.5,502.5 75.5,501.5 78.5,501.5 79.5,501.5 80.5,500.5 84.5,500.5 85.5,501.5 89.5,501.5 90.5,500.5 95.5,500.5 100.5,500.5 105.5,500.5 109.5,500.5 110.5,501.5 115.5,501.5 120.5,501.5 125.5,501.5 127.5,501.5 128.5,500.5 130.5,500.5 134.5,500.5 135.5,501.5 137.5,501.5 138.5,502.5 140.5,502.5 144.5,502.5 145.5,503.5 150.5,503.5 155.5,503.5 159.5,503.5 160.5,502.5 164.5,502.5 165.5,504.5 169.5,504.5 170.5,503.5 175.5,503.5 176.5,503.5" fill="none" stroke="#e08000" stroke-width="1"/>
<polyline points="48.5,470.5 55.5,503.5 60.5,503.5 65.5,503.5 70.5,503.5 74.5,503.5 75.5,502.5 78.5,502.5 79.5,502.5 80.5,504.5 84.5,504.5 85.5,505.5 89.5,505.5 90.5,503.5 95.5,503.5 100.5,503.5 105.5,503.5 109.5,503.5 110.5,504.5 115.5,504.5 120.5,504.5 124.5,504.5 125.5,503.5 128.5,503.5 129.5,503.5 130.5,501.5 134.5,501.5 135.5,502.5 137.5,502.5 138.5,503.5 140.5,503.5 144.5,503.5 145.5,505.5 150.5,505.5 154.5,505.5 155.5,504.5 159.5,504.5 160.5,503.5 165.5,503.5 170.5,503.5 175.5,503.5 175.5,503.5 176.5,502.5" fill="none" stroke="#6b8e23" stroke-width="1"/>
<polyline points="48.5,471.5 55.5,503.5 60.5,503.5 65.5,503.5 70.5,503.5 75.5,503.5 78.5,503.5 79.5,503.5 80.5,504.5 84.5,504.5 85.5,505.5 90.5,505.5 95.5,505.5 100.5,505.5 105.5,505.5 110.5,505.5 115.5,505.5 120.5,505.5 124.5,505.5 125.5,502.5 128.5,502.5 130.5,502.5 134.5,502.5 135.5,503.5 137.5,503.5 138.5,504.5 140.5,504.5 144.5,504.5 145.5,503.5 150.5,503.5 155.5,503.5 159.5,503.5 160.5,504.5 165.5,504.5 170.5,504.5 175.5,504.5 176.5,504.5" fill="none" stroke="#c0a0e0" stroke-width="1"/>
<polyline points="48.5,476.5 55.5,507.5 60.5,507.5 64.5,507.5 65.5,506.5 69.5,506.5 70.5,505.5 75.5,505.5 78.5,505.5 80.5,505.5 84.5,505.5 85.5,506.5 90.5,506.5 95.5,506.5 100.5,506.5 105.5,506.5 110.5,506.5 115.5,506.5 120.5,506.5 124.5,506.5 125.5,505.5 127.5,505.5 128.5,503.5 129.5,503.5 130.5,504.5 134.5,504.5 135.5,503.5 138.5,503.5 139.5,503.5 140.5,504.5 144.5,504.5 145.5,505.5 150.5,505.5 155.5,505.5 160.5,505.5 165.5,505.5 170.5,505.5 175.5,505.5 176.5,505.5" fill="none" stroke="#cc33aa" stroke-width="1"/>
<polyline points="48.5,474.5 55.5,505.5 59.5,505.5 60.5,504.5 65.5,504.5 70.5,504.5 75.5,504.5 77.5,504.5 78.5,505.5 80.5,505.5 84.5,505.5 85.5,506.5 89.5,506.5 90.5,505.5 94.5,505.5 95.5,506.5 100.5,506.5 104.5,506.5 105.5,505.5 110.5,505.5 115.5,505.5 119.5,505.5 120.5,506.5 124.5,506.5 125.5,505.5 127.5,505.5 128.5,503.5 130.5,503.5 134.5,503.5 135.5,505.5 138.5,505.5 140.5,505.5 145.5,505.5 150.5,505.5 154.5,505.5 155.5,506.5 159.5,506.5 160.5,505.5 165.5,505.5 170.5,505.5 175.5,505.5 176.5,505.5" fill="none" stroke="#990099" stroke-width="1"/>
<polyline points="48.5,477.5 55.5,506.5 59.5,506.5 60.5,505.5 65.5,505.5 69.5,505.5 70.5,506.5 74.5,506.5 75.5,505.5 78.5,505.5 79.5,505.5 80.5,506.5 85.5,506.5 90.5,506.5 94.5,506.5 95.5,507.5 100.5,507.5 105.5,507.5 110.5,507.5 115.5,507.5 120.5,507.5 124.5,507.5 125.5,506.5 127.5,506.5 128.5,508.5 130.5,508.5 135.5,508.5 138.5,508.5 140.5,508.5 145.5,508.5 150.5,508.5 155.5,508.5 160.5,508.5 164.5,508.5 165.5,506.5 170.5,506.5 175.5,506.5 176.5,506.5" fill="none" stroke="#ff4040" stroke-width="1"/>
<polyline points="48.5,480.5 55.5,508.5 60.5,508.5 64.5,508.5 65.5,509.5 69.5,509.5 70.5,508.5 75.5,508.5 78.5,508.5 80.5,508.5 85.5,508.5 90.5,508.5 95.5,508.5 100.5,508.5 104.5,508.5 105.5,509.5 109.5,509.5 110.5,510.5 114.5,510.5 115.5,509.5 120.5,509.5 124.5,509.5 125.5,508.5 128.5,508.5 130.5,508.5 135.5,508.5 137.5,508.5 138.5,509.5 139.5,509.5 140.5,510.5 144.5,510.5 145.5,511.5 149.5,511.5 150.5,509.5 155.5,509.5 160.5,509.5 165.5,509.5 170.5,509.5 175.5,509.5 176.5,509.5" fill="none" stroke="#e0a080" stroke-width="1"/>
<polyline points="48.5,481.5 55.5,508.5 60.5,508.5 65.5,508.5 70.5,508.5 74.5,508.5 75.5,509.5 78.5,509.5 80.5,509.5 84.5,509.5 85.5,510.5 89.5,510.5 90.5,509.5 95.5,509.5 99.5,509.5 100.5,508.5 104.5,508.5 105.5,509.5 109.5,509.5 110.5,510.5 115.5,510.5 120.5,510.5 124.5,510.5 125.5,509.5 128.5,509.5 130.5,509.5 134.5,509.5 135.5,508.5 138.5,508.5 140.5,508.5 145.5,508.5 149.5,508.5 150.5,507.5 155.5,507.5 159.5,507.5 160.5,505.5 164.5,505.5 165.5,506.5 170.5,506.5 175.5,506.5 176.5,506.5" fill="none" stroke="#d2691e" stroke-width="1"/>
<polyline points="48.5,482.5 55.5,509.5 59.5,509.5 60.5,508.5 65.5,508.5 69.5,508.5 70.5,507.5 75.5,507.5 77.5,507.5 78.5,508.5 80.5,508.5 84.5,508.5 85.5,509.5 90.5,509.5 95.5,509.5 99.5,509.5 100.5,510.5 105.5,510.5 109.5,510.5 110.5,511.5 114.5,511.5 115.5,510.5 120.5,510.5 125.5,510.5 128.5,510.5 130.5,510.5 135.5,510.5 138.5,510.5 139.5,510.5 140.5,511.5 145.5,511.5 150.5,511.5 155.5,511.5 159.5,511.5 160.5,510.5 165.5,510.5 169.5,510.5 170.5,509.5 175.5,509.5 175.5,509.5 176.5,508.5" fill="none" stroke="#cc0044" stroke-width="1"/>
<polyline points="48.5,485.5 55.5,510.5 60.5,510.5 65.5,510.5 70.5,510.5 74.5,510.5 75.5,509.5 77.5,509.5 78.5,508.5 79.5,508.5 80.5,509.5 84.5,509.5 85.5,510.5 90.5,510.5 95.5,510.5 100.5,510.5 104.5,510.5 105.5,511.5 109.5,511.5 110.5,510.5 115.5,510.5 120.5,510.5 124.5,510.5 125.5,509.5 128.5,509.5 130.5,509.5 134.5,509.5 135.5,510.5 138.5,510.5 139.5,510.5 140.5,511.5 145.5,511.5 150.5,511.5 154.5,511.5 155.5,512.5 160.5,512.5 164.5,512.5 165.5,511.5 169.5,511.5 170.5,510.5 175.5,510.5 176.5,510.5" fill="none" stroke="#b22222" stroke-width="1"/>
<polyline points="48.5,484.5 55.5,511.5 60.5,511.5 65.5,511.5 70.5,511.5 74.5,511.5 75.5,510.5 77.5,510.5 78.5,509.5 80.5,509.5 84.5,509.5 85.5,510.5 90.5,510.5 95.5,510.5 100.5,510.5 105.5,510.5 110.5,510.5 115.5,510.5 119.5,510.5 120.5,509.5 124.5,509.5 125.5,508.5 128.5,508.5 130.5,508.5 135.5,508.5 137.5,508.5 138.5,507.5 139.5,507.5 140.5,508.5 145.5,508.5 150.5,508.5 154.5,508.5 155.5,507.5 160.5,507.5 165.5,507.5 170.5,507.5 175.5,507.5 175.5,507.5 176.5,509.5" fill="none" stroke="#a0522d" stroke-width="1"/>
<polyline points="48.5,487.5 55.5,511.5 59.5,511.5 60.5,510.5 65.5,510.5 70.5,510.5 75.5,510.5 78.5,510.5 80.5,510.5 84.5,510.5 85.5,511.5 90.5,511.5 94.5,511.5 95.5,509.5 99.5,509.5 100.5,510.5 105.5,510.5 109.5,510.5 110.5,511.5 115.5,511.5 120.5,511.5 124.5,511.5 125.5,510.5 127.5,510.5 128.5,509.5 129.5,509.5 130.5,510.5 135.5,510.5 138.5,510.5 140.5,510.5 144.5,510.5 145.5,511.5 149.5,511.5 150.5,510.5 155.5,510.5 160.5,510.5 165.5,510.5 169.5,510.5 170.5,509.5 174.5,509.5 175.5,508.5 176.5,508.5" fill="none" stroke="#e07030" stroke-width="1"/>
<polyline points="48.5,490.5 55.5,512.5 59.5,512.5 60.5,510.5 65.5,510.5 70.5,510.5 75.5,510.5 77.5,510.5 78.5,509.5 79.5,509.5 80.5,511.5 84.5,511.5 85.5,513.5 89.5,513.5 90.5,514.5 95.5,514.5 99.5,514.5 100.5,513.5 105.5,513.5 110.5,513.5 114.5,513.5 115.5,512.5 120.5,512.5 124.5,512.5 125.5,510.5 128.5,510.5 130.5,510.5 135.5,510.5 137.5,510.5 138.5,511.5 140.5,511.5 145.5,511.5 150.5,511.5 155.5,511.5 159.5,511.5 160.5,512.5 164.5,512.5 165.5,511.5 169.5,511.5 170.5,512.5 175.5,512.5 176.5,512.5" fill="none" stroke="#c06060" stroke-width="1"/>
<polyline points="48.5,492.5 55.5,513.5 59.5,513.5 60.5,514.5 64.5,514.5 65.5,513.5 70.5,513.5 75.5,513.5 78.5,513.5 80.5,513.5 85.5,513.5 90.5,513.5 95.5,513.5 100.5,513.5 105.5,513.5 109.5,513.5 110.5,511.5 114.5,511.5 115.5,513.5 120.5,513.5 124.5,513.5 125.5,512.5 128.5,512.5 129.5,512.5 130.5,514.5 135.5,514.5 138.5,514.5 140.5,514.5 144.5,514.5 145.5,515.5 150.5,515.5 155.5,515.5 159.5,515.5 160.5,514.5 165.5,514.5 170.5,514.5 175.5,514.5 175.5,514.5 176.5,513.5" fill="none" stroke="#990099" stroke-width="1"/>
<polyline points="48.5,495.5 55.5,515.5 60.5,515.5 64.5,515.5 65.5,514.5 70.5,514.5 75.5,514.5 78.5,514.5 80.5,514.5 85.5,514.5 90.5,514.5 95.5,514.5 100.5,514.5 105.5,514.5 110.5,514.5 115.5,514.5 120.5,514.5 124.5,514.5 125.5,513.5 128.5,513.5 130.5,513.5 134.5,513.5 135.5,512.5 138.5,512.5 140.5,512.5 144.5,512.5 145.5,513.5 150.5,513.5 155.5,513.5 160.5,513.5 165.5,513.5 170.5,513.5 175.5,513.5 175.5,513.5 176.5,512.5" fill="none" stroke="#000040" stroke-width="1"/>
<polyline points="48.5,495.5 55.5,514.5 60.5,514.5 64.5,514.5 65.5,512.5 70.5,512.5 74.5,512.5 75.5,511.5 78.5,511.5 79.5,511.5 80.5,512.5 84.5,512.5 85.5,513.5 90.5,513.5 95.5,513.5 100.5,513.5 104.5,513.5 105.5,512.5 109.5,512.5 110.5,513.5 115.5,513.5 120.5,513.5 125.5,513.5 128.5,513.5 130.5,513.5 135.5,513.5 138.5,513.5 140.5,513.5 144.5,513.5 145.5,514.5 150.5,514.5 154.5,514.5 155.5,513.5 159.5,513.5 160.5,514.5 165.5,514.5 170.5,514.5 175.5,514.5 176.5,514.5" fill="none" stroke="#a0522d" stroke-width="1"/>
<polyline points="48.5,496.5 55.5,514.5 60.5,514.5 65.5,514.5 70.5,514.5 75.5,514.5 78.5,514.5 80.5,514.5 84.5,514.5 85.5,515.5 90.5,515.5 95.5,515.5 100.5,515.5 105.5,515.5 110.5,515.5 115.5,515.5 120.5,515.5 124.5,515.5 125.5,516.5 127.5,516.5 128.5,515.5 130.5,515.5 135.5,515.5 138.5,515.5 140.5,515.5 145.5,515.5 150.5,515.5 155.5,515.5 160.5,515.5 165.5,515.5 170.5,515.5 174.5,515.5 175.5,516.5 176.5,516.5" fill="none" stroke="#800020" stroke-width="1"/>
<polyline points="48.5,497.5 55.5,514.5 60.5,514.5 65.5,514.5 70.5,514.5 75.5,514.5 78.5,514.5 80.5,514.5 84.5,514.5 85.5,515.5 90.5,515.5 95.5,515.5 100.5,515.5 105.5,515.5 110.5,515.5 115.5,515.5 120.5,515.5 125.5,515.5 128.5,515.5 130.5,515.5 135.5,515.5 137.5,515.5 138.5,514.5 139.5,514.5 140.5,513.5 144.5,513.5 145.5,514.5 150.5,514.5 154.5,514.5 155.5,513.5 160.5,513.5 164.5,513.5 165.5,514.5 170.5,514.5 174.5,514.5 175.5,515.5 176.5,515.5" fill="none" stroke="#a04030" stroke-width="1"/>
<polyline points="176.5,503.5 178.5,474.5 183.5,474.5 188.5,474.5 192.5,474.5 193.5,473.5 198.5,473.5 203.5,473.5 208.5,473.5 212.5,473.5 213.5,472.5 217.5,472.5 218.5,471.5 221.5,471.5 222.5,471.5 223.5,475.5 228.5,475.5 233.5,475.5 238.5,475.5 243.5,475.5 248.5,475.5 253.5,475.5 257.5,475.5 257.5,475.5 258.5,472.5 259.5,472.5 260.5,466.5 263.5,466.5 267.5,466.5 268.5,467.5 273.5,467.5 274.5,467.5 275.5,468.5 277.5,468.5 278.5,470.5 279.5,470.5 280.5,472.5 283.5,472.5 288.5,472.5 293.5,472.5 297.5,472.5 298.5,474.5 302.5,474.5 303.5,473.5 308.5,473.5 313.5,473.5 317.5,473.5 318.5,474.5 322.5,474.5 323.5,475.5 328.5,475.5 333.5,475.5 338.5,475.5 340.5,475.5 343.5,475.5 348.5,475.5 353.5,475.5 357.5,475.5 358.5,476.5 362.5,476.5 363.5,477.5 367.5,477.5 368.5,476.5 373.5,476.5 377.5,476.5 378.5,477.5 379.5,477.5 380.5,476.5 382.5,476.5 383.5,473.5 384.5,473.5 385.5,472.5 387.5,472.5 388.5,471.5 393.5,471.5 398.5,471.5 402.5,471.5 403.5,473.5 407.5,473.5 408.5,472.5 413.5,472.5 418.5,472.5 419.5,472.5 420.5,473.5 423.5,473.5 427.5,473.5 428.5,471.5 433.5,471.5 437.5,471.5 438.5,470.5 442.5,470.5 443.5,471.5 445.5,471.5 448.5,471.5 453.5,471.5 458.5,471.5 463.5,471.5 468.5,471.5 473.5,471.5 478.5,471.5 483.5,471.5 487.5,471.5 488.5,470.5 493.5,470.5 498.5,470.5 502.5,470.5 503.5,469.5 508.5,469.5 511.5,469.5 512.5,470.5 513.5,470.5 518.5,470.5 522.5,470.5 523.5,469.5 528.5,469.5 533.5,469.5 538.5,469.5 543.5,469.5 548.5,469.5 553.5,469.5 558.5,469.5 562.5,469.5 563.5,470.5 568.5,470.5 573.5,470.5 578.5,470.5 583.5,470.5 587.5,470.5 588.5,469.5 593.5,469.5 598.5,469.5 603.5,469.5 608.5,469.5 613.5,469.5 618.5,469.5 623.5,469.5 627.5,469.5 628.5,471.5 632.5,471.5 633.5,472.5 638.5,472.5 643.5,472.5 647.5,472.5 648.5,473.5 653.5,473.5 657.5,473.5 658.5,472.5 663.5,472.5 667.5,472.5 668.5,471.5 672.5,471.5 673.5,470.5 677.5,470.5 678.5,469.5 683.5,469.5 688.5,469.5 690.5,469.5" fill="none" stroke="#e07030" stroke-width="1"/>
<polyline points="176.5,501.5 178.5,472.5 182.5,472.5 183.5,473.5 188.5,473.5 193.5,473.5 198.5,473.5 202.5,473.5 203.5,472.5 207.5,472.5 208.5,473.5 213.5,473.5 218.5,473.5 220.5,473.5 221.5,475.5 222.5,475.5 223.5,478.5 227.5,478.5 228.5,477.5 233.5,477.5 238.5,477.5 243.5,477.5 248.5,477.5 253.5,477.5 257.5,477.5 257.5,477.5 258.5,474.5 259.5,474.5 260.5,468.5 263.5,468.5 267.5,468.5 268.5,469.5 272.5,469.5 273.5,470.5 274.5,470.5 275.5,469.5 277.5,469.5 278.5,472.5 280.5,472.5 282.5,472.5 283.5,471.5 287.5,471.5 288.5,472.5 292.5,472.5 293.5,471.5 298.5,471.5 303.5,471.5 307.5,471.5 308.5,472.5 313.5,472.5 318.5,472.5 322.5,472.5 323.5,473.5 328.5,473.5 333.5,473.5 338.5,473.5 340.5,473.5 342.5,473.5 343.5,472.5 348.5,472.5 353.5,472.5 358.5,472.5 363.5,472.5 368.5,472.5 373.5,472.5 378.5,472.5 380.5,472.5 382.5,472.5 383.5,470.5 384.5,470.5 385.5,468.5 387.5,468.5 388.5,469.5 393.5,469.5 398.5,469.5 403.5,469.5 407.5,469.5 408.5,470.5 412.5,470.5 413.5,469.5 418.5,469.5 420.5,469.5 423.5,469.5 427.5,469.5 428.5,470.5 433.5,470.5 437.5,470.5 438.5,471.5 442.5,471.5 443.5,472.5 445.5,472.5 448.5,472.5 453.5,472.5 458.5,472.5 463.5,472.5 468.5,472.5 473.5,472.5 478.5,472.5 483.5,472.5 488.5,472.5 493.5,472.5 497.5,472.5 498.5,471.5 503.5,471.5 508.5,471.5 512.5,471.5 513.5,471.5 518.5,471.5 523.5,471.5 528.5,471.5 533.5,471.5 538.5,471.5 543.5,471.5 548.5,471.5 552.5,471.5 553.5,470.5 558.5,470.5 562.5,470.5 563.5,469.5 568.5,469.5 573.5,469.5 578.5,469.5 583.5,469.5 587.5,469.5 588.5,470.5 593.5,470.5 598.5,470.5 602.5,470.5 603.5,471.5 608.5,471.5 613.5,471.5 618.5,471.5 623.5,471.5 628.5,471.5 632.5,471.5 633.5,472.5 638.5,472.5 642.5,472.5 643.5,473.5 647.5,473.5 648.5,474.5 652.5,474.5 653.5,475.5 658.5,475.5 662.5,475.5 663.5,474.5 668.5,474.5 673.5,474.5 677.5,474.5 678.5,473.5 683.5,473.5 688.5,473.5 689.5,473.5 690.5,474.5" fill="none" stroke="#6b8e23" stroke-width="1"/>
<polyline points="176.5,500.5 178.5,471.5 183.5,471.5 187.5,471.5 188.5,472.5 193.5,472.5 198.5,472.5 203.5,472.5 208.5,472.5 213.5,472.5 217.5,472.5 218.5,473.5 221.5,473.5 222.5,473.5 223.5,477.5 228.5,477.5 232.5,477.5 233.5,478.5 238.5,478.5 243.5,478.5 247.5,478.5 248.5,479.5 253.5,479.5 257.5,479.5 257.5,479.5 258.5,476.5 259.5,476.5 260.5,470.5 263.5,470.5 267.5,470.5 268.5,471.5 273.5,471.5 275.5,471.5 277.5,471.5 278.5,473.5 279.5,473.5 280.5,475.5 283.5,475.5 288.5,475.5 292.5,475.5 293.5,476.5 298.5,476.5 303.5,476.5 308.5,476.5 312.5,476.5 313.5,477.5 318.5,477.5 322.5,477.5 323.5,476.5 328.5,476.5 333.5,476.5 338.5,476.5 340.5,476.5 342.5,476.5 343.5,477.5 348.5,477.5 352.5,477.5 353.5,476.5 357.5,476.5 358.5,477.5 362.5,477.5 363.5,476.5 368.5,476.5 373.5,476.5 378.5,476.5 380.5,476.5 382.5,476.5 383.5,474.5 384.5,474.5 385.5,472.5 388.5,472.5 393.5,472.5 397.5,472.5 398.5,473.5 402.5,473.5 403.5,475.5 407.5,475.5 408.5,473.5 413.5,473.5 418.5,473.5 420.5,473.5 423.5,473.5 427.5,473.5 428.5,472.5 432.5,472.5 433.5,471.5 437.5,471.5 438.5,472.5 442.5,472.5 443.5,473.5 444.5,473.5 445.5,472.5 448.5,472.5 453.5,472.5 458.5,472.5 463.5,472.5 468.5,472.5 473.5,472.5 478.5,472.5 482.5,472.5 483.5,473.5 488.5,473.5 493.5,473.5 498.5,473.5 502.5,473.5 503.5,472.5 507.5,472.5 508.5,471.5 512.5,471.5 513.5,471.5 518.5,471.5 523.5,471.5 528.5,471.5 533.5,471.5 537.5,471.5 538.5,472.5 543.5,472.5 548.5,472.5 553.5,472.5 557.5,472.5 558.5,470.5 563.5,470.5 567.5,470.5 568.5,471.5 572.5,471.5 573.5,472.5 578.5,472.5 582.5,472.5 583.5,471.5 588.5,471.5 593.5,471.5 597.5,471.5 598.5,473.5 603.5,473.5 607.5,473.5 608.5,474.5 612.5,474.5 613.5,476.5 617.5,476.5 618.5,475.5 623.5,475.5 627.5,475.5 628.5,476.5 633.5,476.5 638.5,476.5 642.5,476.5 643.5,475.5 648.5,475.5 652.5,475.5 653.5,474.5 658.5,474.5 663.5,474.5 667.5,474.5 668.5,473.5 673.5,473.5 677.5,473.5 678.5,475.5 683.5,475.5 688.5,475.5 689.5,475.5 690.5,474.5" fill="none" stroke="#40e000" stroke-width="1"/>
<polyline points="176.5,502.5 178.5,476.5 183.5,476.5 188.5,476.5 193.5,476.5 198.5,476.5 202.5,476.5 203.5,474.5 208.5,474.5 212.5,474.5 213.5,473.5 218.5,473.5 221.5,473.5 222.5,473.5 223.5,478.5 228.5,478.5 232.5,478.5 233.5,477.5 238.5,477.5 243.5,477.5 248.5,477.5 252.5,477.5 253.5,478.5 257.5,478.5 257.5,478.5 258.5,476.5 259.5,476.5 260.5,471.5 263.5,471.5 268.5,471.5 273.5,471.5 274.5,471.5 275.5,472.5 277.5,472.5 278.5,474.5 279.5,474.5 280.5,475.5 283.5,475.5 287.5,475.5 288.5,476.5 293.5,476.5 297.5,476.5 298.5,474.5 303.5,474.5 307.5,474.5 308.5,475.5 313.5,475.5 318.5,475.5 323.5,475.5 328.5,475.5 333.5,475.5 337.5,475.5 338.5,476.5 339.5,476.5 340.5,474.5 343.5,474.5 348.5,474.5 352.5,474.5 353.5,473.5 358.5,473.5 363.5,473.5 368.5,473.5 372.5,473.5 373.5,474.5 378.5,474.5 380.5,474.5 382.5,474.5 383.5,471.5 384.5,471.5 385.5,470.5 387.5,470.5 388.5,471.5 393.5,471.5 398.5,471.5 403.5,471.5 407.5,471.5 408.5,472.5 413.5,472.5 417.5,472.5 418.5,473.5 419.5,473.5 420.5,474.5 422.5,474.5 423.5,475.5 428.5,475.5 433.5,475.5 437.5,475.5 438.5,474.5 443.5,474.5 444.5,474.5 445.5,475.5 447.5,475.5 448.5,474.5 453.5,474.5 458.5,474.5 463.5,474.5 468.5,474.5 472.5,474.5 473.5,475.5 477.5,475.5 478.5,474.5 483.5,474.5 488.5,474.5 493.5,474.5 498.5,474.5 503.5,474.5 508.5,474.5 512.5,474.5 513.5,474.5 518.5,474.5 523.5,474.5 528.5,474.5 533.5,474.5 538.5,474.5 543.5,474.5 548.5,474.5 553.5,474.5 558.5,474.5 562.5,474.5 563.5,475.5 568.5,475.5 573.5,475.5 578.5,475.5 582.5,475.5 583.5,474.5 588.5,474.5 593.5,474.5 597.5,474.5 598.5,475.5 603.5,475.5 607.5,475.5 608.5,474.5 613.5,474.5 618.5,474.5 623.5,474.5 628.5,474.5 633.5,474.5 638.5,474.5 643.5,474.5 648.5,474.5 653.5,474.5 658.5,474.5 663.5,474.5 667.5,474.5 668.5,473.5 673.5,473.5 678.5,473.5 682.5,473.5 683.5,474.5 687.5,474.5 688.5,472.5 690.5,472.5" fill="none" stroke="#a0a000" stroke-width="1"/>
<polyline points="176.5,503.5 178.5,476.5 183.5,476.5 188.5,476.5 193.5,476.5 197.5,476.5 198.5,475.5 202.5,475.5 203.5,474.5 208.5,474.5 212.5,474.5 213.5,473.5 217.5,473.5 218.5,474.5 221.5,474.5 222.5,474.5 223.5,478.5 227.5,478.5 228.5,480.5 232.5,480.5 233.5,479.5 238.5,479.5 242.5,479.5 243.5,480.5 248.5,480.5 252.5,480.5 253.5,479.5 256.5,479.5 257.5,481.5 257.5,481.5 258.5,478.5 259.5,478.5 260.5,473.5 263.5,473.5 268.5,473.5 272.5,473.5 273.5,474.5 275.5,474.5 277.5,474.5 278.5,475.5 279.5,475.5 280.5,477.5 283.5,477.5 287.5,477.5 288.5,478.5 293.5,478.5 298.5,478.5 302.5,478.5 303.5,477.5 308.5,477.5 312.5,477.5 313.5,478.5 317.5,478.5 318.5,479.5 323.5,479.5 328.5,479.5 333.5,479.5 337.5,479.5 338.5,478.5 339.5,478.5 340.5,479.5 343.5,479.5 348.5,479.5 353.5,479.5 358.5,479.5 363.5,479.5 368.5,479.5 372.5,479.5 373.5,478.5 378.5,478.5 380.5,478.5 382.5,478.5 383.5,476.5 384.5,476.5 385.5,475.5 388.5,475.5 392.5,475.5 393.5,476.5 397.5,476.5 398.5,475.5 403.5,475.5 407.5,475.5 408.5,474.5 412.5,474.5 413.5,475.5 417.5,475.5 418.5,474.5 419.5,474.5 420.5,475.5 422.5,475.5 423.5,476.5 427.5,476.5 428.5,477.5 433.5,477.5 438.5,477.5 442.5,477.5 443.5,478.5 445.5,478.5 447.5,478.5 448.5,480.5 452.5,480.5 453.5,479.5 458.5,479.5 463.5,479.5 467.5,479.5 468.5,478.5 473.5,478.5 478.5,478.5 482.5,478.5 483.5,477.5 488.5,477.5 493.5,477.5 497.5,477.5 498.5,476.5 503.5,476.5 508.5,476.5 512.5,476.5 513.5,476.5 518.5,476.5 523.5,476.5 528.5,476.5 533.5,476.5 538.5,476.5 543.5,476.5 548.5,476.5 553.5,476.5 558.5,476.5 562.5,476.5 563.5,475.5 568.5,475.5 573.5,475.5 578.5,475.5 583.5,475.5 588.5,475.5 593.5,475.5 598.5,475.5 603.5,475.5 608.5,475.5 613.5,475.5 617.5,475.5 618.5,474.5 622.5,474.5 623.5,473.5 628.5,473.5 633.5,473.5 638.5,473.5 643.5,473.5 647.5,473.5 648.5,474.5 653.5,474.5 658.5,474.5 663.5,474.5 668.5,474.5 673.5,474.5 678.5,474.5 682.5,474.5 683.5,475.5 688.5,475.5 690.5,475.5" fill="none" stroke="#90c020" stroke-width="1"/>
<polyline points="176.5,502.5 178.5,475.5 183.5,475.5 188.5,475.5 193.5,475.5 198.5,475.5 203.5,475.5 207.5,475.5 208.5,477.5 212.5,477.5 213.5,476.5 218.5,476.5 221.5,476.5 222.5,476.5 223.5,481.5 227.5,481.5 228.5,482.5 233.5,482.5 237.5,482.5 238.5,483.5 243.5,483.5 248.5,483.5 253.5,483.5 257.5,483.5 257.5,483.5 258.5,480.5 259.5,480.5 260.5,475.5 263.5,475.5 268.5,475.5 272.5,475.5 273.5,476.5 274.5,476.5 275.5,475.5 277.5,475.5 278.5,478.5 279.5,478.5 280.5,479.5 282.5,479.5 283.5,477.5 288.5,477.5 292.5,477.5 293.5,478.5 297.5,478.5 298.5,479.5 303.5,479.5 308.5,479.5 313.5,479.5 317.5,479.5 318.5,480.5 323.5,480.5 327.5,480.5 328.5,482.5 332.5,482.5 333.5,481.5 338.5,481.5 339.5,481.5 340.5,480.5 342.5,480.5 343.5,479.5 348.5,479.5 353.5,479.5 358.5,479.5 363.5,479.5 368.5,479.5 372.5,479.5 373.5,481.5 378.5,481.5 380.5,481.5 382.5,481.5 383.5,479.5 384.5,479.5 385.5,478.5 387.5,478.5 388.5,477.5 393.5,477.5 398.5,477.5 403.5,477.5 408.5,477.5 413.5,477.5 418.5,477.5 419.5,477.5 420.5,476.5 423.5,476.5 427.5,476.5 428.5,477.5 432.5,477.5 433.5,478.5 438.5,478.5 442.5,478.5 443.5,477.5 445.5,477.5 447.5,477.5 448.5,475.5 453.5,475.5 458.5,475.5 462.5,475.5 463.5,476.5 467.5,476.5 468.5,474.5 472.5,474.5 473.5,475.5 478.5,475.5 483.5,475.5 488.5,475.5 493.5,475.5 498.5,475.5 502.5,475.5 503.5,476.5 508.5,476.5 511.5,476.5 512.5,475.5 512.5,475.5 513.5,476.5 518.5,476.5 522.5,476.5 523.5,477.5 528.5,477.5 532.5,477.5 533.5,476.5 538.5,476.5 542.5,476.5 543.5,475.5 548.5,475.5 553.5,475.5 557.5,475.5 558.5,474.5 563.5,474.5 568.5,474.5 573.5,474.5 578.5,474.5 582.5,474.5 583.5,475.5 587.5,475.5 588.5,473.5 592.5,473.5 593.5,474.5 598.5,474.5 602.5,474.5 603.5,473.5 608.5,473.5 613.5,473.5 618.5,473.5 623.5,473.5 627.5,473.5 628.5,475.5 632.5,475.5 633.5,477.5 637.5,477.5 638.5,476.5 643.5,476.5 648.5,476.5 653.5,476.5 658.5,476.5 663.5,476.5 668.5,476.5 673.5,476.5 678.5,476.5 683.5,476.5 688.5,476.5 690.5,476.5" fill="none" stroke="#d2691e" stroke-width="1"/>
<polyline points="176.5,504.5 178.5,478.5 183.5,478.5 187.5,478.5 188.5,477.5 193.5,477.5 198.5,477.5 203.5,477.5 207.5,477.5 208.5,479.5 212.5,479.5 213.5,477.5 217.5,477.5 218.5,478.5 221.5,478.5 222.5,478.5 223.5,480.5 228.5,480.5 233.5,480.5 238.5,480.5 243.5,480.5 247.5,480.5 248.5,481.5 253.5,481.5 257.5,481.5 257.5,481.5 258.5,479.5 259.5,479.5 260.5,473.5 262.5,473.5 263.5,474.5 268.5,474.5 272.5,474.5 273.5,475.5 275.5,475.5 277.5,475.5 278.5,478.5 279.5,478.5 280.5,480.5 282.5,480.5 283.5,479.5 287.5,479.5 288.5,480.5 292.5,480.5 293.5,479.5 298.5,479.5 302.5,479.5 303.5,480.5 308.5,480.5 313.5,480.5 318.5,480.5 323.5,480.5 328.5,480.5 333.5,480.5 338.5,480.5 339.5,480.5 340.5,479.5 343.5,479.5 347.5,479.5 348.5,478.5 353.5,478.5 357.5,478.5 358.5,477.5 362.5,477.5 363.5,478.5 368.5,478.5 373.5,478.5 378.5,478.5 379.5,478.5 380.5,479.5 382.5,479.5 383.5,477.5 384.5,477.5 385.5,476.5 388.5,476.5 393.5,476.5 397.5,476.5 398.5,477.5 403.5,477.5 408.5,477.5 413.5,477.5 418.5,477.5 419.5,477.5 420.5,476.5 422.5,476.5 423.5,477.5 428.5,477.5 432.5,477.5 433.5,478.5 437.5,478.5 438.5,477.5 442.5,477.5 443.5,478.5 444.5,478.5 445.5,476.5 448.5,476.5 452.5,476.5 453.5,477.5 458.5,477.5 463.5,477.5 467.5,477.5 468.5,478.5 473.5,478.5 478.5,478.5 483.5,478.5 487.5,478.5 488.5,477.5 493.5,477.5 498.5,477.5 503.5,477.5 508.5,477.5 512.5,477.5 513.5,477.5 518.5,477.5 523.5,477.5 527.5,477.5 528.5,476.5 533.5,476.5 537.5,476.5 538.5,475.5 542.5,475.5 543.5,476.5 548.5,476.5 553.5,476.5 557.5,476.5 558.5,475.5 563.5,475.5 568.5,475.5 572.5,475.5 573.5,477.5 578.5,477.5 583.5,477.5 587.5,477.5 588.5,479.5 593.5,479.5 598.5,479.5 602.5,479.5 603.5,478.5 608.5,478.5 613.5,478.5 618.5,478.5 622.5,478.5 623.5,477.5 628.5,477.5 633.5,477.5 638.5,477.5 643.5,477.5 648.5,477.5 653.5,477.5 658.5,477.5 663.5,477.5 668.5,477.5 673.5,477.5 678.5,477.5 683.5,477.5 688.5,477.5 689.5,477.5 690.5,475.5" fill="none" stroke="#6b8e23" stroke-width="1"/>
<polyline points="176.5,505.5 178.5,479.5 183.5,479.5 188.5,479.5 193.5,479.5 198.5,479.5 202.5,479.5 203.5,478.5 207.5,478.5 208.5,479.5 212.5,479.5 213.5,478.5 218.5,478.5 221.5,478.5 222.5,478.5 223.5,480.5 227.5,480.5 228.5,481.5 232.5,481.5 233.5,482.5 238.5,482.5 243.5,482.5 247.5,482.5 248.5,484.5 252.5,484.5 253.5,483.5 257.5,483.5 257.5,483.5 258.5,480.5 259.5,480.5 260.5,476.5 263.5,476.5 268.5,476.5 272.5,476.5 273.5,477.5 275.5,477.5 277.5,477.5 278.5,479.5 279.5,479.5 280.5,481.5 283.5,481.5 288.5,481.5 293.5,481.5 298.5,481.5 302.5,481.5 303.5,482.5 308.5,482.5 312.5,482.5 313.5,481.5 318.5,481.5 323.5,481.5 328.5,481.5 332.5,481.5 333.5,482.5 338.5,482.5 339.5,482.5 340.5,483.5 343.5,483.5 347.5,483.5 348.5,484.5 352.5,484.5 353.5,483.5 358.5,483.5 363.5,483.5 368.5,483.5 373.5,483.5 377.5,483.5 378.5,482.5 380.5,482.5 382.5,482.5 383.5,481.5 385.5,481.5 388.5,481.5 393.5,481.5 397.5,481.5 398.5,480.5 402.5,480.5 403.5,479.5 408.5,479.5 413.5,479.5 418.5,479.5 420.5,479.5 423.5,479.5 427.5,479.5 428.5,481.5 433.5,481.5 438.5,481.5 443.5,481.5 445.5,481.5 448.5,481.5 452.5,481.5 453.5,480.5 458.5,480.5 463.5,480.5 467.5,480.5 468.5,479.5 472.5,479.5 473.5,478.5 478.5,478.5 482.5,478.5 483.5,480.5 488.5,480.5 493.5,480.5 497.5,480.5 498.5,479.5 503.5,479.5 508.5,479.5 512.5,479.5 512.5,479.5 513.5,480.5 518.5,480.5 523.5,480.5 528.5,480.5 532.5,480.5 533.5,481.5 537.5,481.5 538.5,479.5 543.5,479.5 548.5,479.5 553.5,479.5 558.5,479.5 563.5,479.5 567.5,479.5 568.5,480.5 573.5,480.5 578.5,480.5 582.5,480.5 583.5,479.5 587.5,479.5 588.5,478.5 593.5,478.5 597.5,478.5 598.5,479.5 602.5,479.5 603.5,480.5 608.5,480.5 613.5,480.5 618.5,480.5 623.5,480.5 628.5,480.5 633.5,480.5 637.5,480.5 638.5,479.5 643.5,479.5 648.5,479.5 653.5,479.5 657.5,479.5 658.5,478.5 663.5,478.5 668.5,478.5 672.5,478.5 673.5,479.5 677.5,479.5 678.5,478.5 683.5,478.5 688.5,478.5 689.5,478.5 690.5,476.5" fill="none" stroke="#ff4040" stroke-width="1"/>
<polyline points="176.5,505.5 178.5,480.5 182.5,480.5 183.5,481.5 188.5,481.5 193.5,481.5 197.5,481.5 198.5,482.5 202.5,482.5 203.5,481.5 208.5,481.5 213.5,481.5 218.5,481.5 221.5,481.5 222.5,481.5 223.5,484.5 228.5,484.5 232.5,484.5 233.5,483.5 237.5,483.5 238.5,482.5 243.5,482.5 247.5,482.5 248.5,483.5 252.5,483.5 253.5,484.5 256.5,484.5 257.5,483.5 257.5,483.5 258.5,481.5 259.5,481.5 260.5,476.5 262.5,476.5 263.5,477.5 268.5,477.5 272.5,477.5 273.5,478.5 275.5,478.5 277.5,478.5 278.5,480.5 279.5,480.5 280.5,481.5 283.5,481.5 287.5,481.5 288.5,482.5 293.5,482.5 298.5,482.5 302.5,482.5 303.5,480.5 308.5,480.5 312.5,480.5 313.5,481.5 318.5,481.5 323.5,481.5 328.5,481.5 333.5,481.5 337.5,481.5 338.5,482.5 340.5,482.5 343.5,482.5 348.5,482.5 353.5,482.5 358.5,482.5 363.5,482.5 368.5,482.5 373.5,482.5 378.5,482.5 380.5,482.5 382.5,482.5 383.5,480.5 384.5,480.5 385.5,479.5 388.5,479.5 393.5,479.5 398.5,479.5 403.5,479.5 408.5,479.5 413.5,479.5 417.5,479.5 418.5,480.5 420.5,480.5 423.5,480.5 428.5,480.5 432.5,480.5 433.5,481.5 438.5,481.5 443.5,481.5 445.5,481.5 448.5,481.5 453.5,481.5 458.5,481.5 462.5,481.5 463.5,480.5 468.5,480.5 472.5,480.5 473.5,482.5 478.5,482.5 483.5,482.5 487.5,482.5 488.5,481.5 493.5,481.5 498.5,481.5 502.5,481.5 503.5,479.5 508.5,479.5 512.5,479.5 513.5,479.5 517.5,479.5 518.5,477.5 523.5,477.5 527.5,477.5 528.5,478.5 532.5,478.5 533.5,479.5 537.5,479.5 538.5,480.5 543.5,480.5 548.5,480.5 553.5,480.5 558.5,480.5 563.5,480.5 568.5,480.5 573.5,480.5 577.5,480.5 578.5,479.5 583.5,479.5 588.5,479.5 592.5,479.5 593.5,478.5 597.5,478.5 598.5,479.5 603.5,479.5 608.5,479.5 613.5,479.5 618.5,479.5 623.5,479.5 628.5,479.5 633.5,479.5 638.5,479.5 642.5,479.5 643.5,480.5 648.5,480.5 653.5,480.5 658.5,480.5 662.5,480.5 663.5,481.5 668.5,481.5 673.5,481.5 677.5,481.5 678.5,482.5 682.5,482.5 683.5,484.5 687.5,484.5 688.5,483.5 689.5,483.5 690.5,484.5" fill="none" stroke="#c0a0e0" stroke-width="1"/>
<polyline points="176.5,506.5 178.5,482.5 183.5,482.5 188.5,482.5 192.5,482.5 193.5,480.5 198.5,480.5 202.5,480.5 203.5,481.5 207.5,481.5 208.5,482.5 212.5,482.5 213.5,480.5 218.5,480.5 221.5,480.5 222.5,480.5 223.5,484.5 228.5,484.5 233.5,484.5 238.5,484.5 243.5,484.5 248.5,484.5 253.5,484.5 256.5,484.5 257.5,485.5 257.5,485.5 258.5,483.5 259.5,483.5 260.5,479.5 263.5,479.5 268.5,479.5 272.5,479.5 273.5,480.5 275.5,480.5 278.5,480.5 279.5,480.5 280.5,481.5 282.5,481.5 283.5,483.5 288.5,483.5 293.5,483.5 298.5,483.5 302.5,483.5 303.5,482.5 307.5,482.5 308.5,483.5 313.5,483.5 317.5,483.5 318.5,484.5 323.5,484.5 327.5,484.5 328.5,483.5 333.5,483.5 338.5,483.5 340.5,483.5 343.5,483.5 348.5,483.5 353.5,483.5 357.5,483.5 358.5,484.5 362.5,484.5 363.5,485.5 368.5,485.5 372.5,485.5 373.5,483.5 378.5,483.5 379.5,483.5 380.5,485.5 382.5,485.5 383.5,482.5 385.5,482.5 388.5,482.5 392.5,482.5 393.5,480.5 398.5,480.5 402.5,480.5 403.5,479.5 408.5,479.5 412.5,479.5 413.5,480.5 418.5,480.5 419.5,480.5 420.5,481.5 423.5,481.5 427.5,481.5 428.5,482.5 432.5,482.5 433.5,483.5 438.5,483.5 443.5,483.5 445.5,483.5 448.5,483.5 452.5,483.5 453.5,484.5 458.5,484.5 462.5,484.5 463.5,483.5 468.5,483.5 472.5,483.5 473.5,482.5 478.5,482.5 483.5,482.5 488.5,482.5 492.5,482.5 493.5,480.5 498.5,480.5 502.5,480.5 503.5,482.5 508.5,482.5 512.5,482.5 513.5,482.5 518.5,482.5 522.5,482.5 523.5,483.5 528.5,483.5 533.5,483.5 538.5,483.5 542.5,483.5 543.5,482.5 547.5,482.5 548.5,483.5 552.5,483.5 553.5,484.5 558.5,484.5 562.5,484.5 563.5,482.5 568.5,482.5 573.5,482.5 578.5,482.5 582.5,482.5 583.5,483.5 587.5,483.5 588.5,484.5 593.5,484.5 597.5,484.5 598.5,485.5 603.5,485.5 608.5,485.5 612.5,485.5 613.5,484.5 618.5,484.5 623.5,484.5 627.5,484.5 628.5,483.5 633.5,483.5 638.5,483.5 643.5,483.5 647.5,483.5 648.5,481.5 652.5,481.5 653.5,480.5 658.5,480.5 663.5,480.5 668.5,480.5 672.5,480.5 673.5,479.5 678.5,479.5 683.5,479.5 687.5,479.5 688.5,480.5 689.5,480.5 690.5,479.5" fill="none" stroke="#e08000" stroke-width="1"/>
<polyline points="176.5,509.5 178.5,484.5 183.5,484.5 188.5,484.5 193.5,484.5 198.5,484.5 202.5,484.5 203.5,483.5 207.5,483.5 208.5,482.5 213.5,482.5 218.5,482.5 221.5,482.5 222.5,482.5 223.5,486.5 227.5,486.5 228.5,487.5 232.5,487.5 233.5,488.5 238.5,488.5 242.5,488.5 243.5,487.5 247.5,487.5 248.5,489.5 252.5,489.5 253.5,488.5 257.5,488.5 257.5,488.5 258.5,486.5 259.5,486.5 260.5,482.5 263.5,482.5 267.5,482.5 268.5,483.5 273.5,483.5 275.5,483.5 277.5,483.5 278.5,485.5 279.5,485.5 280.5,484.5 283.5,484.5 288.5,484.5 292.5,484.5 293.5,485.5 298.5,485.5 303.5,485.5 307.5,485.5 308.5,484.5 313.5,484.5 317.5,484.5 318.5,483.5 323.5,483.5 328.5,483.5 332.5,483.5 333.5,484.5 338.5,484.5 339.5,484.5 340.5,483.5 342.5,483.5 343.5,484.5 347.5,484.5 348.5,483.5 353.5,483.5 358.5,483.5 363.5,483.5 368.5,483.5 373.5,483.5 378.5,483.5 380.5,483.5 382.5,483.5 383.5,484.5 384.5,484.5 385.5,483.5 388.5,483.5 393.5,483.5 398.5,483.5 403.5,483.5 408.5,483.5 412.5,483.5 413.5,482.5 417.5,482.5 418.5,483.5 419.5,483.5 420.5,481.5 423.5,481.5 427.5,481.5 428.5,482.5 433.5,482.5 438.5,482.5 442.5,482.5 443.5,484.5 445.5,484.5 447.5,484.5 448.5,486.5 452.5,486.5 453.5,485.5 458.5,485.5 463.5,485.5 468.5,485.5 472.5,485.5 473.5,486.5 477.5,486.5 478.5,485.5 483.5,485.5 487.5,485.5 488.5,484.5 493.5,484.5 497.5,484.5 498.5,485.5 503.5,485.5 507.5,485.5 508.5,484.5 511.5,484.5 512.5,485.5 513.5,485.5 517.5,485.5 518.5,484.5 523.5,484.5 528.5,484.5 533.5,484.5 537.5,484.5 538.5,483.5 543.5,483.5 547.5,483.5 548.5,484.5 553.5,484.5 558.5,484.5 562.5,484.5 563.5,483.5 568.5,483.5 573.5,483.5 578.5,483.5 583.5,483.5 588.5,483.5 593.5,483.5 598.5,483.5 602.5,483.5 603.5,482.5 607.5,482.5 608.5,483.5 613.5,483.5 618.5,483.5 622.5,483.5 623.5,482.5 628.5,482.5 633.5,482.5 638.5,482.5 643.5,482.5 648.5,482.5 653.5,482.5 658.5,482.5 663.5,482.5 667.5,482.5 668.5,484.5 673.5,484.5 677.5,484.5 678.5,485.5 683.5,485.5 687.5,485.5 688.5,484.5 690.5,484.5" fill="none" stroke="#cc0044" stroke-width="1"/>
<polyline points="176.5,506.5 178.5,482.5 182.5,482.5 183.5,481.5 188.5,481.5 193.5,481.5 197.5,481.5 198.5,483.5 203.5,483.5 208.5,483.5 213.5,483.5 218.5,483.5 221.5,483.5 222.5,483.5 223.5,486.5 228.5,486.5 233.5,486.5 237.5,486.5 238.5,487.5 242.5,487.5 243.5,488.5 247.5,488.5 248.5,489.5 252.5,489.5 253.5,490.5 256.5,490.5 257.5,488.5 257.5,488.5 258.5,484.5 259.5,484.5 260.5,481.5 263.5,481.5 267.5,481.5 268.5,482.5 273.5,482.5 275.5,482.5 277.5,482.5 278.5,484.5 279.5,484.5 280.5,487.5 283.5,487.5 288.5,487.5 293.5,487.5 297.5,487.5 298.5,486.5 303.5,486.5 308.5,486.5 313.5,486.5 318.5,486.5 323.5,486.5 328.5,486.5 333.5,486.5 337.5,486.5 338.5,487.5 339.5,487.5 340.5,489.5 342.5,489.5 343.5,488.5 347.5,488.5 348.5,487.5 353.5,487.5 357.5,487.5 358.5,488.5 362.5,488.5 363.5,487.5 368.5,487.5 373.5,487.5 378.5,487.5 380.5,487.5 382.5,487.5 383.5,486.5 384.5,486.5 385.5,485.5 387.5,485.5 388.5,484.5 393.5,484.5 398.5,484.5 402.5,484.5 403.5,483.5 408.5,483.5 412.5,483.5 413.5,484.5 417.5,484.5 418.5,485.5 420.5,485.5 422.5,485.5 423.5,484.5 428.5,484.5 432.5,484.5 433.5,485.5 438.5,485.5 442.5,485.5 443.5,486.5 444.5,486.5 445.5,485.5 448.5,485.5 453.5,485.5 457.5,485.5 458.5,484.5 463.5,484.5 468.5,484.5 472.5,484.5 473.5,483.5 477.5,483.5 478.5,482.5 482.5,482.5 483.5,481.5 487.5,481.5 488.5,480.5 493.5,480.5 498.5,480.5 502.5,480.5 503.5,481.5 507.5,481.5 508.5,480.5 512.5,480.5 512.5,480.5 513.5,481.5 517.5,481.5 518.5,480.5 522.5,480.5 523.5,479.5 527.5,479.5 528.5,480.5 532.5,480.5 533.5,481.5 538.5,481.5 543.5,481.5 547.5,481.5 548.5,483.5 553.5,483.5 558.5,483.5 562.5,483.5 563.5,484.5 568.5,484.5 572.5,484.5 573.5,483.5 577.5,483.5 578.5,482.5 583.5,482.5 588.5,482.5 592.5,482.5 593.5,483.5 597.5,483.5 598.5,484.5 602.5,484.5 603.5,483.5 608.5,483.5 613.5,483.5 618.5,483.5 623.5,483.5 628.5,483.5 633.5,483.5 637.5,483.5 638.5,484.5 643.5,484.5 647.5,484.5 648.5,485.5 652.5,485.5 653.5,483.5 658.5,483.5 663.5,483.5 667.5,483.5 668.5,482.5 673.5,482.5 677.5,482.5 678.5,483.5 683.5,483.5 688.5,483.5 690.5,483.5" fill="none" stroke="#000040" stroke-width="1"/>
<polyline points="176.5,508.5 178.5,485.5 182.5,485.5 183.5,486.5 187.5,486.5 188.5,487.5 193.5,487.5 198.5,487.5 202.5,487.5 203.5,485.5 207.5,485.5 208.5,484.5 213.5,484.5 218.5,484.5 221.5,484.5 222.5,484.5 223.5,488.5 228.5,488.5 233.5,488.5 238.5,488.5 242.5,488.5 243.5,487.5 247.5,487.5 248.5,486.5 252.5,486.5 253.5,487.5 257.5,487.5 257.5,487.5 258.5,484.5 259.5,484.5 260.5,481.5 262.5,481.5 263.5,482.5 268.5,482.5 272.5,482.5 273.5,483.5 275.5,483.5 277.5,483.5 278.5,486.5 279.5,486.5 280.5,487.5 283.5,487.5 288.5,487.5 293.5,487.5 298.5,487.5 302.5,487.5 303.5,486.5 308.5,486.5 312.5,486.5 313.5,487.5 318.5,487.5 323.5,487.5 328.5,487.5 332.5,487.5 333.5,488.5 337.5,488.5 338.5,489.5 339.5,489.5 340.5,488.5 343.5,488.5 348.5,488.5 353.5,488.5 358.5,488.5 362.5,488.5 363.5,490.5 367.5,490.5 368.5,489.5 373.5,489.5 378.5,489.5 379.5,489.5 380.5,490.5 382.5,490.5 383.5,488.5 384.5,488.5 385.5,487.5 388.5,487.5 392.5,487.5 393.5,489.5 398.5,489.5 402.5,489.5 403.5,488.5 408.5,488.5 413.5,488.5 418.5,488.5 420.5,488.5 423.5,488.5 428.5,488.5 433.5,488.5 438.5,488.5 443.5,488.5 445.5,488.5 448.5,488.5 453.5,488.5 457.5,488.5 458.5,489.5 463.5,489.5 468.5,489.5 472.5,489.5 473.5,487.5 477.5,487.5 478.5,488.5 482.5,488.5 483.5,489.5 488.5,489.5 492.5,489.5 493.5,488.5 497.5,488.5 498.5,487.5 502.5,487.5 503.5,486.5 508.5,486.5 512.5,486.5 513.5,486.5 518.5,486.5 523.5,486.5 528.5,486.5 533.5,486.5 538.5,486.5 543.5,486.5 548.5,486.5 552.5,486.5 553.5,485.5 557.5,485.5 558.5,484.5 563.5,484.5 568.5,484.5 573.5,484.5 578.5,484.5 583.5,484.5 587.5,484.5 588.5,483.5 593.5,483.5 598.5,483.5 603.5,483.5 607.5,483.5 608.5,484.5 613.5,484.5 618.5,484.5 622.5,484.5 623.5,485.5 627.5,485.5 628.5,484.5 632.5,484.5 633.5,485.5 638.5,485.5 643.5,485.5 647.5,485.5 648.5,486.5 652.5,486.5 653.5,485.5 658.5,485.5 663.5,485.5 668.5,485.5 673.5,485.5 678.5,485.5 683.5,485.5 688.5,485.5 690.5,485.5" fill="none" stroke="#990099" stroke-width="1"/>
<polyline points="176.5,510.5 178.5,486.5 183.5,486.5 187.5,486.5 188.5,487.5 193.5,487.5 197.5,487.5 198.5,486.5 202.5,486.5 203.5,487.5 207.5,487.5 208.5,488.5 213.5,488.5 218.5,488.5 221.5,488.5 222.5,488.5 223.5,490.5 228.5,490.5 232.5,490.5 233.5,489.5 238.5,489.5 243.5,489.5 248.5,489.5 253.5,489.5 256.5,489.5 257.5,490.5 257.5,490.5 258.5,488.5 259.5,488.5 260.5,485.5 263.5,485.5 267.5,485.5 268.5,484.5 273.5,484.5 274.5,484.5 275.5,486.5 277.5,486.5 278.5,488.5 279.5,488.5 280.5,490.5 282.5,490.5 283.5,488.5 287.5,488.5 288.5,489.5 292.5,489.5 293.5,488.5 297.5,488.5 298.5,486.5 302.5,486.5 303.5,485.5 308.5,485.5 312.5,485.5 313.5,486.5 318.5,486.5 323.5,486.5 327.5,486.5 328.5,487.5 333.5,487.5 338.5,487.5 340.5,487.5 343.5,487.5 348.5,487.5 352.5,487.5 353.5,488.5 358.5,488.5 363.5,488.5 367.5,488.5 368.5,487.5 373.5,487.5 378.5,487.5 380.5,487.5 383.5,487.5 384.5,487.5 385.5,486.5 388.5,486.5 393.5,486.5 398.5,486.5 403.5,486.5 408.5,486.5 413.5,486.5 418.5,486.5 419.5,486.5 420.5,487.5 423.5,487.5 428.5,487.5 433.5,487.5 437.5,487.5 438.5,489.5 443.5,489.5 445.5,489.5 448.5,489.5 453.5,489.5 458.5,489.5 462.5,489.5 463.5,488.5 468.5,488.5 473.5,488.5 477.5,488.5 478.5,487.5 482.5,487.5 483.5,489.5 488.5,489.5 493.5,489.5 498.5,489.5 502.5,489.5 503.5,488.5 508.5,488.5 511.5,488.5 512.5,487.5 512.5,487.5 513.5,488.5 518.5,488.5 523.5,488.5 528.5,488.5 532.5,488.5 533.5,487.5 538.5,487.5 543.5,487.5 547.5,487.5 548.5,488.5 552.5,488.5 553.5,487.5 558.5,487.5 563.5,487.5 568.5,487.5 572.5,487.5 573.5,485.5 578.5,485.5 582.5,485.5 583.5,486.5 588.5,486.5 593.5,486.5 598.5,486.5 603.5,486.5 608.5,486.5 613.5,486.5 618.5,486.5 623.5,486.5 628.5,486.5 633.5,486.5 637.5,486.5 638.5,488.5 643.5,488.5 648.5,488.5 652.5,488.5 653.5,489.5 658.5,489.5 662.5,489.5 663.5,488.5 668.5,488.5 672.5,488.5 673.5,487.5 678.5,487.5 683.5,487.5 688.5,487.5 690.5,487.5" fill="none" stroke="#e0a080" stroke-width="1"/>
<polyline points="176.5,509.5 178.5,486.5 183.5,486.5 188.5,486.5 193.5,486.5 198.5,486.5 203.5,486.5 207.5,486.5 208.5,488.5 213.5,488.5 218.5,488.5 221.5,488.5 222.5,488.5 223.5,490.5 228.5,490.5 233.5,490.5 238.5,490.5 242.5,490.5 243.5,491.5 247.5,491.5 248.5,490.5 253.5,490.5 257.5,490.5 257.5,490.5 258.5,489.5 259.5,489.5 260.5,485.5 263.5,485.5 267.5,485.5 268.5,486.5 273.5,486.5 274.5,486.5 275.5,487.5 277.5,487.5 278.5,489.5 279.5,489.5 280.5,491.5 282.5,491.5 283.5,492.5 287.5,492.5 288.5,493.5 293.5,493.5 297.5,493.5 298.5,492.5 303.5,492.5 308.5,492.5 313.5,492.5 317.5,492.5 318.5,491.5 323.5,491.5 328.5,491.5 333.5,491.5 337.5,491.5 338.5,493.5 340.5,493.5 343.5,493.5 347.5,493.5 348.5,492.5 353.5,492.5 358.5,492.5 363.5,492.5 368.5,492.5 372.5,492.5 373.5,493.5 378.5,493.5 379.5,493.5 380.5,492.5 382.5,492.5 383.5,490.5 384.5,490.5 385.5,489.5 388.5,489.5 393.5,489.5 398.5,489.5 403.5,489.5 407.5,489.5 408.5,488.5 413.5,488.5 417.5,488.5 418.5,487.5 419.5,487.5 420.5,485.5 422.5,485.5 423.5,486.5 428.5,486.5 433.5,486.5 438.5,486.5 442.5,486.5 443.5,487.5 444.5,487.5 445.5,488.5 448.5,488.5 453.5,488.5 458.5,488.5 462.5,488.5 463.5,489.5 468.5,489.5 473.5,489.5 478.5,489.5 483.5,489.5 487.5,489.5 488.5,488.5 493.5,488.5 498.5,488.5 503.5,488.5 507.5,488.5 508.5,489.5 512.5,489.5 513.5,489.5 518.5,489.5 522.5,489.5 523.5,487.5 528.5,487.5 532.5,487.5 533.5,488.5 537.5,488.5 538.5,490.5 542.5,490.5 543.5,489.5 547.5,489.5 548.5,488.5 553.5,488.5 558.5,488.5 563.5,488.5 567.5,488.5 568.5,489.5 572.5,489.5 573.5,491.5 577.5,491.5 578.5,492.5 582.5,492.5 583.5,491.5 587.5,491.5 588.5,492.5 592.5,492.5 593.5,491.5 598.5,491.5 603.5,491.5 607.5,491.5 608.5,490.5 612.5,490.5 613.5,491.5 618.5,491.5 622.5,491.5 623.5,489.5 628.5,489.5 632.5,489.5 633.5,488.5 637.5,488.5 638.5,489.5 642.5,489.5 643.5,488.5 648.5,488.5 652.5,488.5 653.5,490.5 657.5,490.5 658.5,489.5 663.5,489.5 667.5,489.5 668.5,491.5 672.5,491.5 673.5,490.5 678.5,490.5 683.5,490.5 688.5,490.5 689.5,490.5 690.5,491.5" fill="none" stroke="#b22222" stroke-width="1"/>
<polyline points="176.5,508.5 178.5,486.5 183.5,486.5 187.5,486.5 188.5,488.5 192.5,488.5 193.5,487.5 197.5,487.5 198.5,486.5 203.5,486.5 208.5,486.5 212.5,486.5 213.5,487.5 218.5,487.5 220.5,487.5 221.5,485.5 222.5,485.5 223.5,488.5 227.5,488.5 228.5,489.5 232.5,489.5 233.5,490.5 238.5,490.5 243.5,490.5 247.5,490.5 248.5,489.5 252.5,489.5 253.5,491.5 257.5,491.5 257.5,491.5 258.5,489.5 259.5,489.5 260.5,487.5 262.5,487.5 263.5,486.5 267.5,486.5 268.5,487.5 272.5,487.5 273.5,488.5 275.5,488.5 278.5,488.5 279.5,488.5 280.5,489.5 282.5,489.5 283.5,490.5 287.5,490.5 288.5,489.5 292.5,489.5 293.5,488.5 297.5,488.5 298.5,490.5 303.5,490.5 308.5,490.5 313.5,490.5 317.5,490.5 318.5,491.5 322.5,491.5 323.5,489.5 328.5,489.5 333.5,489.5 337.5,489.5 338.5,490.5 340.5,490.5 343.5,490.5 348.5,490.5 353.5,490.5 358.5,490.5 363.5,490.5 368.5,490.5 373.5,490.5 378.5,490.5 380.5,490.5 382.5,490.5 383.5,489.5 385.5,489.5 388.5,489.5 393.5,489.5 398.5,489.5 402.5,489.5 403.5,490.5 408.5,490.5 412.5,490.5 413.5,489.5 417.5,489.5 418.5,490.5 420.5,490.5 423.5,490.5 428.5,490.5 433.5,490.5 437.5,490.5 438.5,489.5 442.5,489.5 443.5,490.5 444.5,490.5 445.5,491.5 448.5,491.5 452.5,491.5 453.5,490.5 457.5,490.5 458.5,492.5 463.5,492.5 468.5,492.5 472.5,492.5 473.5,491.5 477.5,491.5 478.5,490.5 483.5,490.5 488.5,490.5 493.5,490.5 497.5,490.5 498.5,489.5 502.5,489.5 503.5,491.5 507.5,491.5 508.5,490.5 512.5,490.5 513.5,490.5 518.5,490.5 522.5,490.5 523.5,488.5 528.5,488.5 532.5,488.5 533.5,489.5 538.5,489.5 543.5,489.5 547.5,489.5 548.5,488.5 552.5,488.5 553.5,487.5 558.5,487.5 562.5,487.5 563.5,489.5 568.5,489.5 573.5,489.5 578.5,489.5 583.5,489.5 588.5,489.5 593.5,489.5 597.5,489.5 598.5,488.5 603.5,488.5 608.5,488.5 613.5,488.5 618.5,488.5 623.5,488.5 627.5,488.5 628.5,489.5 633.5,489.5 638.5,489.5 643.5,489.5 648.5,489.5 653.5,489.5 658.5,489.5 663.5,489.5 667.5,489.5 668.5,487.5 672.5,487.5 673.5,486.5 678.5,486.5 682.5,486.5 683.5,488.5 687.5,488.5 688.5,490.5 690.5,490.5" fill="none" stroke="#a0522d" stroke-width="1"/>
<polyline points="176.5,512.5 178.5,490.5 182.5,490.5 183.5,489.5 187.5,489.5 188.5,490.5 193.5,490.5 198.5,490.5 203.5,490.5 208.5,490.5 213.5,490.5 218.5,490.5 221.5,490.5 222.5,490.5 223.5,492.5 228.5,492.5 233.5,492.5 238.5,492.5 243.5,492.5 248.5,492.5 253.5,492.5 257.5,492.5 257.5,492.5 258.5,491.5 259.5,491.5 260.5,487.5 262.5,487.5 263.5,488.5 268.5,488.5 273.5,488.5 274.5,488.5 275.5,489.5 277.5,489.5 278.5,491.5 279.5,491.5 280.5,492.5 283.5,492.5 287.5,492.5 288.5,490.5 293.5,490.5 298.5,490.5 302.5,490.5 303.5,489.5 307.5,489.5 308.5,490.5 313.5,490.5 318.5,490.5 322.5,490.5 323.5,489.5 328.5,489.5 333.5,489.5 337.5,489.5 338.5,490.5 339.5,490.5 340.5,492.5 343.5,492.5 347.5,492.5 348.5,493.5 352.5,493.5 353.5,494.5 358.5,494.5 362.5,494.5 363.5,493.5 368.5,493.5 372.5,493.5 373.5,492.5 378.5,492.5 380.5,492.5 382.5,492.5 383.5,491.5 385.5,491.5 388.5,491.5 392.5,491.5 393.5,492.5 398.5,492.5 403.5,492.5 408.5,492.5 413.5,492.5 418.5,492.5 420.5,492.5 422.5,492.5 423.5,494.5 427.5,494.5 428.5,493.5 433.5,493.5 438.5,493.5 442.5,493.5 443.5,492.5 445.5,492.5 448.5,492.5 453.5,492.5 458.5,492.5 463.5,492.5 468.5,492.5 473.5,492.5 477.5,492.5 478.5,491.5 483.5,491.5 488.5,491.5 493.5,491.5 498.5,491.5 502.5,491.5 503.5,492.5 507.5,492.5 508.5,491.5 512.5,491.5 512.5,491.5 513.5,490.5 518.5,490.5 523.5,490.5 527.5,490.5 528.5,491.5 533.5,491.5 537.5,491.5 538.5,493.5 542.5,493.5 543.5,492.5 548.5,492.5 552.5,492.5 553.5,493.5 557.5,493.5 558.5,491.5 563.5,491.5 568.5,491.5 573.5,491.5 578.5,491.5 583.5,491.5 588.5,491.5 593.5,491.5 598.5,491.5 603.5,491.5 607.5,491.5 608.5,490.5 613.5,490.5 617.5,490.5 618.5,491.5 623.5,491.5 628.5,491.5 633.5,491.5 637.5,491.5 638.5,489.5 643.5,489.5 648.5,489.5 652.5,489.5 653.5,488.5 658.5,488.5 663.5,488.5 667.5,488.5 668.5,489.5 673.5,489.5 678.5,489.5 683.5,489.5 688.5,489.5 690.5,489.5" fill="none" stroke="#cc33aa" stroke-width="1"/>
<polyline points="176.5,513.5 178.5,492.5 182.5,492.5 183.5,491.5 188.5,491.5 193.5,491.5 198.5,491.5 202.5,491.5 203.5,490.5 207.5,490.5 208.5,491.5 213.5,491.5 218.5,491.5 221.5,491.5 222.5,491.5 223.5,492.5 227.5,492.5 228.5,493.5 232.5,493.5 233.5,494.5 237.5,494.5 238.5,493.5 243.5,493.5 248.5,493.5 252.5,493.5 253.5,492.5 256.5,492.5 257.5,490.5 257.5,490.5 258.5,489.5 259.5,489.5 260.5,487.5 262.5,487.5 263.5,488.5 268.5,488.5 272.5,488.5 273.5,490.5 275.5,490.5 277.5,490.5 278.5,492.5 279.5,492.5 280.5,494.5 282.5,494.5 283.5,493.5 288.5,493.5 292.5,493.5 293.5,494.5 297.5,494.5 298.5,493.5 303.5,493.5 307.5,493.5 308.5,492.5 313.5,492.5 317.5,492.5 318.5,491.5 323.5,491.5 328.5,491.5 333.5,491.5 337.5,491.5 338.5,490.5 340.5,490.5 342.5,490.5 343.5,492.5 347.5,492.5 348.5,493.5 353.5,493.5 358.5,493.5 363.5,493.5 368.5,493.5 372.5,493.5 373.5,491.5 377.5,491.5 378.5,492.5 379.5,492.5 380.5,491.5 383.5,491.5 385.5,491.5 387.5,491.5 388.5,490.5 393.5,490.5 397.5,490.5 398.5,491.5 403.5,491.5 408.5,491.5 413.5,491.5 417.5,491.5 418.5,492.5 419.5,492.5 420.5,494.5 423.5,494.5 428.5,494.5 433.5,494.5 438.5,494.5 443.5,494.5 445.5,494.5 448.5,494.5 453.5,494.5 458.5,494.5 463.5,494.5 468.5,494.5 473.5,494.5 477.5,494.5 478.5,493.5 483.5,493.5 488.5,493.5 492.5,493.5 493.5,491.5 498.5,491.5 503.5,491.5 508.5,491.5 512.5,491.5 513.5,491.5 518.5,491.5 523.5,491.5 528.5,491.5 533.5,491.5 538.5,491.5 542.5,491.5 543.5,490.5 547.5,490.5 548.5,492.5 552.5,492.5 553.5,491.5 558.5,491.5 563.5,491.5 568.5,491.5 573.5,491.5 578.5,491.5 583.5,491.5 588.5,491.5 592.5,491.5 593.5,493.5 597.5,493.5 598.5,492.5 603.5,492.5 608.5,492.5 613.5,492.5 618.5,492.5 623.5,492.5 627.5,492.5 628.5,490.5 633.5,490.5 638.5,490.5 643.5,490.5 647.5,490.5 648.5,491.5 653.5,491.5 658.5,491.5 663.5,491.5 667.5,491.5 668.5,493.5 673.5,493.5 678.5,493.5 682.5,493.5 683.5,492.5 688.5,492.5 689.5,492.5 690.5,494.5" fill="none" stroke="#c06060" stroke-width="1"/>
<polyline points="176.5,512.5 178.5,492.5 183.5,492.5 188.5,492.5 193.5,492.5 198.5,492.5 203.5,492.5 208.5,492.5 213.5,492.5 218.5,492.5 220.5,492.5 221.5,493.5 222.5,493.5 223.5,494.5 227.5,494.5 228.5,493.5 233.5,493.5 238.5,493.5 243.5,493.5 247.5,493.5 248.5,494.5 252.5,494.5 253.5,495.5 257.5,495.5 257.5,495.5 258.5,493.5 259.5,493.5 260.5,491.5 263.5,491.5 268.5,491.5 272.5,491.5 273.5,492.5 275.5,492.5 277.5,492.5 278.5,494.5 279.5,494.5 280.5,495.5 283.5,495.5 287.5,495.5 288.5,494.5 292.5,494.5 293.5,495.5 298.5,495.5 303.5,495.5 308.5,495.5 312.5,495.5 313.5,496.5 318.5,496.5 323.5,496.5 327.5,496.5 328.5,497.5 332.5,497.5 333.5,498.5 337.5,498.5 338.5,499.5 340.5,499.5 342.5,499.5 343.5,498.5 348.5,498.5 353.5,498.5 357.5,498.5 358.5,497.5 363.5,497.5 368.5,497.5 373.5,497.5 377.5,497.5 378.5,496.5 380.5,496.5 383.5,496.5 385.5,496.5 388.5,496.5 393.5,496.5 398.5,496.5 403.5,496.5 408.5,496.5 412.5,496.5 413.5,498.5 417.5,498.5 418.5,497.5 420.5,497.5 423.5,497.5 428.5,497.5 432.5,497.5 433.5,495.5 437.5,495.5 438.5,493.5 443.5,493.5 444.5,493.5 445.5,494.5 448.5,494.5 453.5,494.5 458.5,494.5 463.5,494.5 468.5,494.5 473.5,494.5 478.5,494.5 482.5,494.5 483.5,492.5 487.5,492.5 488.5,493.5 493.5,493.5 498.5,493.5 503.5,493.5 507.5,493.5 508.5,491.5 511.5,491.5 512.5,492.5 513.5,492.5 517.5,492.5 518.5,493.5 523.5,493.5 528.5,493.5 532.5,493.5 533.5,492.5 538.5,492.5 543.5,492.5 548.5,492.5 553.5,492.5 558.5,492.5 563.5,492.5 567.5,492.5 568.5,493.5 573.5,493.5 578.5,493.5 583.5,493.5 588.5,493.5 593.5,493.5 597.5,493.5 598.5,492.5 603.5,492.5 608.5,492.5 613.5,492.5 618.5,492.5 622.5,492.5 623.5,493.5 628.5,493.5 633.5,493.5 637.5,493.5 638.5,491.5 642.5,491.5 643.5,492.5 648.5,492.5 653.5,492.5 658.5,492.5 663.5,492.5 667.5,492.5 668.5,493.5 673.5,493.5 678.5,493.5 683.5,493.5 688.5,493.5 690.5,493.5" fill="none" stroke="#8899ee" stroke-width="1"/>
<polyline points="176.5,514.5 178.5,493.5 183.5,493.5 188.5,493.5 193.5,493.5 197.5,493.5 198.5,492.5 202.5,492.5 203.5,491.5 207.5,491.5 208.5,492.5 212.5,492.5 213.5,490.5 218.5,490.5 220.5,490.5 221.5,492.5 222.5,492.5 223.5,495.5 227.5,495.5 228.5,496.5 233.5,496.5 238.5,496.5 243.5,496.5 248.5,496.5 253.5,496.5 256.5,496.5 257.5,495.5 257.5,495.5 258.5,496.5 259.5,496.5 260.5,492.5 263.5,492.5 267.5,492.5 268.5,493.5 273.5,493.5 274.5,493.5 275.5,494.5 277.5,494.5 278.5,495.5 279.5,495.5 280.5,496.5 283.5,496.5 288.5,496.5 293.5,496.5 298.5,496.5 303.5,496.5 308.5,496.5 312.5,496.5 313.5,494.5 317.5,494.5 318.5,495.5 323.5,495.5 327.5,495.5 328.5,496.5 333.5,496.5 338.5,496.5 339.5,496.5 340.5,497.5 343.5,497.5 348.5,497.5 353.5,497.5 358.5,497.5 363.5,497.5 368.5,497.5 373.5,497.5 378.5,497.5 380.5,497.5 383.5,497.5 384.5,497.5 385.5,496.5 388.5,496.5 392.5,496.5 393.5,495.5 398.5,495.5 403.5,495.5 407.5,495.5 408.5,494.5 413.5,494.5 417.5,494.5 418.5,495.5 420.5,495.5 423.5,495.5 427.5,495.5 428.5,496.5 432.5,496.5 433.5,497.5 438.5,497.5 443.5,497.5 445.5,497.5 448.5,497.5 453.5,497.5 458.5,497.5 463.5,497.5 467.5,497.5 468.5,496.5 473.5,496.5 478.5,496.5 483.5,496.5 487.5,496.5 488.5,495.5 492.5,495.5 493.5,497.5 498.5,497.5 502.5,497.5 503.5,496.5 507.5,496.5 508.5,498.5 511.5,498.5 512.5,497.5 513.5,497.5 518.5,497.5 522.5,497.5 523.5,496.5 527.5,496.5 528.5,495.5 532.5,495.5 533.5,496.5 538.5,496.5 543.5,496.5 548.5,496.5 552.5,496.5 553.5,495.5 557.5,495.5 558.5,496.5 562.5,496.5 563.5,495.5 568.5,495.5 573.5,495.5 577.5,495.5 578.5,493.5 582.5,493.5 583.5,492.5 588.5,492.5 593.5,492.5 597.5,492.5 598.5,491.5 602.5,491.5 603.5,492.5 608.5,492.5 613.5,492.5 617.5,492.5 618.5,491.5 623.5,491.5 628.5,491.5 633.5,491.5 637.5,491.5 638.5,492.5 643.5,492.5 648.5,492.5 653.5,492.5 658.5,492.5 662.5,492.5 663.5,493.5 668.5,493.5 673.5,493.5 678.5,493.5 683.5,493.5 687.5,493.5 688.5,491.5 689.5,491.5 690.5,492.5" fill="none" stroke="#990099" stroke-width="1"/>
<polyline points="176.5,516.5 178.5,496.5 183.5,496.5 188.5,496.5 193.5,496.5 198.5,496.5 203.5,496.5 208.5,496.5 213.5,496.5 218.5,496.5 221.5,496.5 222.5,496.5 223.5,497.5 228.5,497.5 233.5,497.5 238.5,497.5 242.5,497.5 243.5,496.5 248.5,496.5 252.5,496.5 253.5,495.5 257.5,495.5 258.5,495.5 259.5,495.5 260.5,494.5 263.5,494.5 268.5,494.5 273.5,494.5 274.5,494.5 275.5,495.5 277.5,495.5 278.5,497.5 280.5,497.5 283.5,497.5 288.5,497.5 293.5,497.5 298.5,497.5 303.5,497.5 308.5,497.5 313.5,497.5 317.5,497.5 318.5,498.5 323.5,498.5 328.5,498.5 333.5,498.5 338.5,498.5 340.5,498.5 343.5,498.5 348.5,498.5 353.5,498.5 357.5,498.5 358.5,496.5 363.5,496.5 368.5,496.5 372.5,496.5 373.5,495.5 377.5,495.5 378.5,496.5 380.5,496.5 383.5,496.5 385.5,496.5 388.5,496.5 393.5,496.5 397.5,496.5 398.5,497.5 403.5,497.5 408.5,497.5 413.5,497.5 418.5,497.5 420.5,497.5 422.5,497.5 423.5,496.5 427.5,496.5 428.5,497.5 433.5,497.5 438.5,497.5 442.5,497.5 443.5,499.5 445.5,499.5 448.5,499.5 452.5,499.5 453.5,498.5 458.5,498.5 463.5,498.5 468.5,498.5 472.5,498.5 473.5,497.5 478.5,497.5 483.5,497.5 488.5,497.5 493.5,497.5 497.5,497.5 498.5,496.5 502.5,496.5 503.5,495.5 508.5,495.5 511.5,495.5 512.5,496.5 513.5,496.5 517.5,496.5 518.5,494.5 522.5,494.5 523.5,495.5 528.5,495.5 533.5,495.5 538.5,495.5 542.5,495.5 543.5,496.5 547.5,496.5 548.5,495.5 553.5,495.5 557.5,495.5 558.5,496.5 562.5,496.5 563.5,498.5 568.5,498.5 572.5,498.5 573.5,497.5 577.5,497.5 578.5,498.5 583.5,498.5 587.5,498.5 588.5,497.5 593.5,497.5 598.5,497.5 602.5,497.5 603.5,495.5 608.5,495.5 613.5,495.5 617.5,495.5 618.5,494.5 623.5,494.5 628.5,494.5 633.5,494.5 637.5,494.5 638.5,496.5 642.5,496.5 643.5,495.5 648.5,495.5 653.5,495.5 658.5,495.5 663.5,495.5 667.5,495.5 668.5,494.5 673.5,494.5 678.5,494.5 683.5,494.5 687.5,494.5 688.5,493.5 690.5,493.5" fill="none" stroke="#55bbff" stroke-width="1"/>
<polyline points="176.5,515.5 178.5,496.5 183.5,496.5 188.5,496.5 193.5,496.5 198.5,496.5 203.5,496.5 208.5,496.5 213.5,496.5 218.5,496.5 221.5,496.5 222.5,496.5 223.5,497.5 228.5,497.5 233.5,497.5 238.5,497.5 243.5,497.5 248.5,497.5 253.5,497.5 256.5,497.5 257.5,496.5 258.5,496.5 259.5,496.5 260.5,495.5 263.5,495.5 267.5,495.5 268.5,496.5 273.5,496.5 274.5,496.5 275.5,495.5 277.5,495.5 278.5,497.5 279.5,497.5 280.5,498.5 283.5,498.5 288.5,498.5 293.5,498.5 297.5,498.5 298.5,497.5 302.5,497.5 303.5,498.5 308.5,498.5 313.5,498.5 318.5,498.5 322.5,498.5 323.5,497.5 328.5,497.5 333.5,497.5 337.5,497.5 338.5,499.5 340.5,499.5 343.5,499.5 348.5,499.5 353.5,499.5 358.5,499.5 363.5,499.5 368.5,499.5 372.5,499.5 373.5,498.5 378.5,498.5 380.5,498.5 383.5,498.5 385.5,498.5 388.5,498.5 393.5,498.5 398.5,498.5 403.5,498.5 407.5,498.5 408.5,497.5 413.5,497.5 418.5,497.5 420.5,497.5 422.5,497.5 423.5,498.5 428.5,498.5 433.5,498.5 438.5,498.5 443.5,498.5 445.5,498.5 448.5,498.5 453.5,498.5 458.5,498.5 462.5,498.5 463.5,497.5 468.5,497.5 472.5,497.5 473.5,496.5 478.5,496.5 482.5,496.5 483.5,495.5 488.5,495.5 492.5,495.5 493.5,496.5 498.5,496.5 503.5,496.5 507.5,496.5 508.5,498.5 511.5,498.5 512.5,497.5 512.5,497.5 513.5,498.5 518.5,498.5 523.5,498.5 528.5,498.5 533.5,498.5 538.5,498.5 543.5,498.5 548.5,498.5 553.5,498.5 558.5,498.5 562.5,498.5 563.5,497.5 568.5,497.5 573.5,497.5 578.5,497.5 583.5,497.5 587.5,497.5 588.5,496.5 592.5,496.5 593.5,497.5 598.5,497.5 602.5,497.5 603.5,496.5 607.5,496.5 608.5,497.5 613.5,497.5 618.5,497.5 623.5,497.5 628.5,497.5 633.5,497.5 638.5,497.5 642.5,497.5 643.5,495.5 647.5,495.5 648.5,496.5 653.5,496.5 658.5,496.5 663.5,496.5 667.5,496.5 668.5,495.5 673.5,495.5 678.5,495.5 683.5,495.5 688.5,495.5 689.5,495.5 690.5,497.5" fill="none" stroke="#ff99cc" stroke-width="1"/>
<polyline points="690.5,469.5 692.5,458.5 696.5,458.5 697.5,457.5 700.5,457.5 702.5,457.5 707.5,457.5 712.5,457.5 717.5,457.5 722.5,457.5 727.5,457.5 732.5,457.5 733.5,457.5" fill="none" stroke="#a0a000" stroke-width="1"/>
<polyline points="690.5,474.5 692.5,462.5 696.5,462.5 697.5,461.5 700.5,461.5 701.5,461.5 702.5,459.5 706.5,459.5 707.5,457.5 712.5,457.5 716.5,457.5 717.5,459.5 721.5,459.5 722.5,460.5 727.5,460.5 731.5,460.5 732.5,459.5 733.5,459.5" fill="none" stroke="#e08000" stroke-width="1"/>
<polyline points="690.5,474.5 692.5,462.5 696.5,462.5 697.5,461.5 699.5,461.5 700.5,459.5 701.5,459.5 702.5,458.5 707.5,458.5 712.5,458.5 717.5,458.5 722.5,458.5 726.5,458.5 727.5,459.5 732.5,459.5 732.5,459.5 733.5,458.5" fill="none" stroke="#6b8e23" stroke-width="1"/>
<polyline points="690.5,472.5 692.5,460.5 697.5,460.5 700.5,460.5 701.5,460.5 702.5,461.5 707.5,461.5 712.5,461.5 717.5,461.5 721.5,461.5 722.5,460.5 727.5,460.5 731.5,460.5 732.5,461.5 733.5,461.5" fill="none" stroke="#d2691e" stroke-width="1"/>
<polyline points="690.5,475.5 692.5,463.5 696.5,463.5 697.5,462.5 699.5,462.5 700.5,461.5 702.5,461.5 707.5,461.5 711.5,461.5 712.5,463.5 717.5,463.5 721.5,463.5 722.5,462.5 727.5,462.5 731.5,462.5 732.5,460.5 733.5,460.5" fill="none" stroke="#ff4040" stroke-width="1"/>
<polyline points="690.5,476.5 692.5,461.5 696.5,461.5 697.5,460.5 700.5,460.5 702.5,460.5 707.5,460.5 712.5,460.5 717.5,460.5 722.5,460.5 726.5,460.5 727.5,461.5 732.5,461.5 732.5,461.5 733.5,462.5" fill="none" stroke="#40e000" stroke-width="1"/>
<polyline points="690.5,475.5 692.5,463.5 696.5,463.5 697.5,462.5 700.5,462.5 702.5,462.5 707.5,462.5 712.5,462.5 717.5,462.5 721.5,462.5 722.5,463.5 726.5,463.5 727.5,464.5 732.5,464.5 733.5,464.5" fill="none" stroke="#c0a0e0" stroke-width="1"/>
<polyline points="690.5,476.5 692.5,463.5 696.5,463.5 697.5,462.5 700.5,462.5 702.5,462.5 707.5,462.5 712.5,462.5 717.5,462.5 721.5,462.5 722.5,463.5 727.5,463.5 732.5,463.5 733.5,463.5" fill="none" stroke="#90c020" stroke-width="1"/>
<polyline points="690.5,484.5 692.5,469.5 696.5,469.5 697.5,468.5 699.5,468.5 700.5,467.5 702.5,467.5 707.5,467.5 711.5,467.5 712.5,466.5 717.5,466.5 722.5,466.5 727.5,466.5 732.5,466.5 733.5,466.5" fill="none" stroke="#d2691e" stroke-width="1"/>
<polyline points="690.5,479.5 692.5,465.5 696.5,465.5 697.5,463.5 699.5,463.5 700.5,464.5 701.5,464.5 702.5,465.5 707.5,465.5 712.5,465.5 717.5,465.5 721.5,465.5 722.5,466.5 727.5,466.5 732.5,466.5 733.5,466.5" fill="none" stroke="#cc0044" stroke-width="1"/>
<polyline points="690.5,484.5 692.5,468.5 696.5,468.5 697.5,467.5 699.5,467.5 700.5,466.5 702.5,466.5 707.5,466.5 711.5,466.5 712.5,465.5 717.5,465.5 722.5,465.5 726.5,465.5 727.5,466.5 732.5,466.5 732.5,466.5 733.5,465.5" fill="none" stroke="#b22222" stroke-width="1"/>
<polyline points="690.5,483.5 692.5,468.5 696.5,468.5 697.5,467.5 699.5,467.5 700.5,466.5 702.5,466.5 707.5,466.5 711.5,466.5 712.5,467.5 716.5,467.5 717.5,466.5 722.5,466.5 727.5,466.5 732.5,466.5 733.5,466.5" fill="none" stroke="#e0a080" stroke-width="1"/>
<polyline points="690.5,485.5 692.5,469.5 696.5,469.5 697.5,468.5 699.5,468.5 700.5,467.5 701.5,467.5 702.5,466.5 707.5,466.5 711.5,466.5 712.5,467.5 717.5,467.5 722.5,467.5 726.5,467.5 727.5,465.5 732.5,465.5 732.5,465.5 733.5,466.5" fill="none" stroke="#990099" stroke-width="1"/>
<polyline points="690.5,487.5 692.5,471.5 696.5,471.5 697.5,470.5 699.5,470.5 700.5,469.5 701.5,469.5 702.5,468.5 707.5,468.5 712.5,468.5 717.5,468.5 721.5,468.5 722.5,469.5 727.5,469.5 732.5,469.5 732.5,469.5 733.5,468.5" fill="none" stroke="#a0522d" stroke-width="1"/>
<polyline points="690.5,491.5 692.5,474.5 696.5,474.5 697.5,472.5 699.5,472.5 700.5,471.5 701.5,471.5 702.5,472.5 706.5,472.5 707.5,471.5 712.5,471.5 716.5,471.5 717.5,472.5 722.5,472.5 727.5,472.5 732.5,472.5 733.5,472.5" fill="none" stroke="#cc33aa" stroke-width="1"/>
<polyline points="690.5,490.5 692.5,473.5 696.5,473.5 697.5,471.5 699.5,471.5 700.5,470.5 702.5,470.5 707.5,470.5 712.5,470.5 717.5,470.5 721.5,470.5 722.5,471.5 726.5,471.5 727.5,470.5 731.5,470.5 732.5,469.5 733.5,469.5" fill="none" stroke="#6b8e23" stroke-width="1"/>
<polyline points="690.5,489.5 692.5,472.5 696.5,472.5 697.5,471.5 700.5,471.5 702.5,471.5 707.5,471.5 712.5,471.5 716.5,471.5 717.5,472.5 721.5,472.5 722.5,471.5 726.5,471.5 727.5,472.5 732.5,472.5 733.5,472.5" fill="none" stroke="#c06060" stroke-width="1"/>
<polyline points="690.5,494.5 692.5,476.5 696.5,476.5 697.5,475.5 699.5,475.5 700.5,474.5 702.5,474.5 707.5,474.5 711.5,474.5 712.5,473.5 717.5,473.5 722.5,473.5 727.5,473.5 731.5,473.5 732.5,472.5 733.5,472.5" fill="none" stroke="#e07030" stroke-width="1"/>
<polyline points="690.5,493.5 692.5,476.5 697.5,476.5 699.5,476.5 700.5,475.5 701.5,475.5 702.5,476.5 706.5,476.5 707.5,475.5 712.5,475.5 716.5,475.5 717.5,474.5 722.5,474.5 727.5,474.5 732.5,474.5 732.5,474.5 733.5,473.5" fill="none" stroke="#8899ee" stroke-width="1"/>
<polyline points="690.5,492.5 692.5,474.5 697.5,474.5 699.5,474.5 700.5,473.5 702.5,473.5 706.5,473.5 707.5,474.5 712.5,474.5 717.5,474.5 721.5,474.5 722.5,472.5 727.5,472.5 731.5,472.5 732.5,473.5 732.5,473.5 733.5,472.5" fill="none" stroke="#400010" stroke-width="1"/>
<polyline points="690.5,493.5 692.5,475.5 696.5,475.5 697.5,474.5 699.5,474.5 700.5,473.5 702.5,473.5 707.5,473.5 712.5,473.5 716.5,473.5 717.5,474.5 721.5,474.5 722.5,473.5 726.5,473.5 727.5,475.5 732.5,475.5 733.5,475.5" fill="none" stroke="#c0a0e0" stroke-width="1"/>
<polyline points="690.5,497.5 692.5,478.5 696.5,478.5 697.5,477.5 699.5,477.5 700.5,476.5 702.5,476.5 707.5,476.5 712.5,476.5 717.5,476.5 722.5,476.5 726.5,476.5 727.5,475.5 731.5,475.5 732.5,476.5 733.5,476.5" fill="none" stroke="#e0a080" stroke-width="1"/>
<polyline points="733.5,457.5 735.5,479.5 740.5,479.5 745.5,479.5 750.5,479.5 755.5,479.5 760.5,479.5 764.5,479.5 765.5,480.5 770.5,480.5 775.5,480.5 779.5,480.5 780.5,482.5 784.5,482.5 785.5,481.5 790.5,481.5 795.5,481.5 799.5,481.5 800.5,480.5 804.5,480.5 805.5,481.5 809.5,481.5 810.5,480.5 814.5,480.5 815.5,479.5 820.5,479.5 824.5,479.5 825.5,480.5 830.5,480.5 835.5,480.5 840.5,480.5 845.5,480.5 850.5,480.5 854.5,480.5 855.5,479.5 860.5,479.5 865.5,479.5 870.5,479.5 875.5,479.5 880.5,479.5 885.5,479.5 890.5,479.5 895.5,479.5 899.5,479.5 900.5,480.5 905.5,480.5 909.5,480.5 910.5,481.5 914.5,481.5 915.5,482.5 920.5,482.5 924.5,482.5 925.5,483.5 929.5,483.5 930.5,485.5 934.5,485.5 935.5,488.5 939.5,488.5 940.5,490.5 943.5,490.5 944.5,492.5" fill="none" stroke="#6b8e23" stroke-width="1"/>
<polyline points="733.5,459.5 735.5,481.5 740.5,481.5 745.5,481.5 749.5,481.5 750.5,480.5 754.5,480.5 755.5,479.5 760.5,479.5 765.5,479.5 770.5,479.5 775.5,479.5 780.5,479.5 784.5,479.5 785.5,480.5 790.5,480.5 794.5,480.5 795.5,481.5 800.5,481.5 804.5,481.5 805.5,482.5 809.5,482.5 810.5,481.5 814.5,481.5 815.5,480.5 820.5,480.5 824.5,480.5 825.5,482.5 830.5,482.5 835.5,482.5 839.5,482.5 840.5,483.5 845.5,483.5 849.5,483.5 850.5,482.5 854.5,482.5 855.5,484.5 859.5,484.5 860.5,483.5 865.5,483.5 870.5,483.5 874.5,483.5 875.5,482.5 880.5,482.5 884.5,482.5 885.5,483.5 890.5,483.5 895.5,483.5 899.5,483.5 900.5,482.5 904.5,482.5 905.5,483.5 910.5,483.5 914.5,483.5 915.5,484.5 920.5,484.5 924.5,484.5 925.5,485.5 929.5,485.5 930.5,487.5 934.5,487.5 935.5,490.5 939.5,490.5 940.5,492.5 943.5,492.5 944.5,496.5" fill="none" stroke="#40e000" stroke-width="1"/>
<polyline points="733.5,458.5 735.5,479.5 740.5,479.5 745.5,479.5 750.5,479.5 754.5,479.5 755.5,480.5 760.5,480.5 764.5,480.5 765.5,481.5 770.5,481.5 774.5,481.5 775.5,483.5 779.5,483.5 780.5,482.5 784.5,482.5 785.5,481.5 790.5,481.5 795.5,481.5 800.5,481.5 805.5,481.5 809.5,481.5 810.5,482.5 814.5,482.5 815.5,483.5 819.5,483.5 820.5,482.5 825.5,482.5 830.5,482.5 835.5,482.5 840.5,482.5 845.5,482.5 850.5,482.5 855.5,482.5 860.5,482.5 865.5,482.5 870.5,482.5 875.5,482.5 880.5,482.5 885.5,482.5 890.5,482.5 895.5,482.5 900.5,482.5 904.5,482.5 905.5,481.5 909.5,481.5 910.5,482.5 915.5,482.5 919.5,482.5 920.5,484.5 924.5,484.5 925.5,485.5 929.5,485.5 930.5,487.5 934.5,487.5 935.5,490.5 939.5,490.5 940.5,491.5 943.5,491.5 944.5,494.5" fill="none" stroke="#90c020" stroke-width="1"/>
<polyline points="733.5,461.5 735.5,483.5 740.5,483.5 745.5,483.5 749.5,483.5 750.5,481.5 755.5,481.5 760.5,481.5 765.5,481.5 770.5,481.5 775.5,481.5 780.5,481.5 785.5,481.5 790.5,481.5 795.5,481.5 800.5,481.5 805.5,481.5 810.5,481.5 815.5,481.5 820.5,481.5 825.5,481.5 830.5,481.5 834.5,481.5 835.5,480.5 840.5,480.5 844.5,480.5 845.5,479.5 849.5,479.5 850.5,480.5 855.5,480.5 859.5,480.5 860.5,482.5 865.5,482.5 870.5,482.5 875.5,482.5 879.5,482.5 880.5,481.5 884.5,481.5 885.5,482.5 890.5,482.5 895.5,482.5 900.5,482.5 905.5,482.5 909.5,482.5 910.5,484.5 915.5,484.5 919.5,484.5 920.5,483.5 925.5,483.5 929.5,483.5 930.5,486.5 934.5,486.5 935.5,488.5 939.5,488.5 940.5,491.5 943.5,491.5 944.5,493.5" fill="none" stroke="#a0a000" stroke-width="1"/>
<polyline points="733.5,460.5 735.5,482.5 740.5,482.5 745.5,482.5 750.5,482.5 754.5,482.5 755.5,483.5 760.5,483.5 765.5,483.5 770.5,483.5 775.5,483.5 780.5,483.5 785.5,483.5 789.5,483.5 790.5,484.5 794.5,484.5 795.5,483.5 800.5,483.5 805.5,483.5 810.5,483.5 814.5,483.5 815.5,481.5 819.5,481.5 820.5,482.5 824.5,482.5 825.5,481.5 830.5,481.5 834.5,481.5 835.5,483.5 839.5,483.5 840.5,484.5 845.5,484.5 850.5,484.5 855.5,484.5 860.5,484.5 865.5,484.5 870.5,484.5 875.5,484.5 879.5,484.5 880.5,483.5 885.5,483.5 890.5,483.5 895.5,483.5 900.5,483.5 904.5,483.5 905.5,484.5 909.5,484.5 910.5,485.5 915.5,485.5 919.5,485.5 920.5,486.5 924.5,486.5 925.5,487.5 929.5,487.5 930.5,489.5 934.5,489.5 935.5,492.5 939.5,492.5 940.5,494.5 943.5,494.5 944.5,495.5" fill="none" stroke="#e08000" stroke-width="1"/>
<polyline points="733.5,462.5 735.5,485.5 740.5,485.5 745.5,485.5 749.5,485.5 750.5,486.5 755.5,486.5 759.5,486.5 760.5,484.5 765.5,484.5 770.5,484.5 774.5,484.5 775.5,483.5 779.5,483.5 780.5,482.5 784.5,482.5 785.5,480.5 789.5,480.5 790.5,481.5 795.5,481.5 800.5,481.5 805.5,481.5 809.5,481.5 810.5,482.5 815.5,482.5 819.5,482.5 820.5,481.5 824.5,481.5 825.5,482.5 829.5,482.5 830.5,481.5 834.5,481.5 835.5,480.5 839.5,480.5 840.5,481.5 845.5,481.5 850.5,481.5 854.5,481.5 855.5,482.5 859.5,482.5 860.5,481.5 864.5,481.5 865.5,480.5 870.5,480.5 875.5,480.5 879.5,480.5 880.5,482.5 885.5,482.5 890.5,482.5 894.5,482.5 895.5,481.5 899.5,481.5 900.5,482.5 905.5,482.5 909.5,482.5 910.5,483.5 914.5,483.5 915.5,484.5 919.5,484.5 920.5,485.5 924.5,485.5 925.5,486.5 929.5,486.5 930.5,488.5 934.5,488.5 935.5,490.5 939.5,490.5 940.5,493.5 943.5,493.5 944.5,494.5" fill="none" stroke="#d2691e" stroke-width="1"/>
<polyline points="733.5,464.5 735.5,486.5 740.5,486.5 745.5,486.5 749.5,486.5 750.5,487.5 754.5,487.5 755.5,486.5 760.5,486.5 765.5,486.5 770.5,486.5 774.5,486.5 775.5,487.5 780.5,487.5 785.5,487.5 790.5,487.5 795.5,487.5 799.5,487.5 800.5,486.5 805.5,486.5 810.5,486.5 815.5,486.5 820.5,486.5 825.5,486.5 829.5,486.5 830.5,487.5 835.5,487.5 840.5,487.5 844.5,487.5 845.5,486.5 849.5,486.5 850.5,485.5 855.5,485.5 860.5,485.5 864.5,485.5 865.5,486.5 870.5,486.5 875.5,486.5 880.5,486.5 884.5,486.5 885.5,485.5 889.5,485.5 890.5,484.5 894.5,484.5 895.5,483.5 900.5,483.5 904.5,483.5 905.5,482.5 909.5,482.5 910.5,483.5 915.5,483.5 919.5,483.5 920.5,484.5 924.5,484.5 925.5,485.5 929.5,485.5 930.5,488.5 934.5,488.5 935.5,490.5 939.5,490.5 940.5,492.5 943.5,492.5 944.5,494.5" fill="none" stroke="#ff4040" stroke-width="1"/>
<polyline points="733.5,463.5 735.5,485.5 740.5,485.5 745.5,485.5 749.5,485.5 750.5,487.5 755.5,487.5 760.5,487.5 765.5,487.5 770.5,487.5 775.5,487.5 779.5,487.5 780.5,485.5 785.5,485.5 789.5,485.5 790.5,486.5 795.5,486.5 800.5,486.5 805.5,486.5 810.5,486.5 815.5,486.5 819.5,486.5 820.5,485.5 824.5,485.5 825.5,484.5 830.5,484.5 835.5,484.5 839.5,484.5 840.5,483.5 845.5,483.5 850.5,483.5 855.5,483.5 860.5,483.5 865.5,483.5 869.5,483.5 870.5,484.5 875.5,484.5 880.5,484.5 885.5,484.5 890.5,484.5 894.5,484.5 895.5,485.5 900.5,485.5 905.5,485.5 909.5,485.5 910.5,486.5 914.5,486.5 915.5,487.5 919.5,487.5 920.5,488.5 925.5,488.5 929.5,488.5 930.5,490.5 934.5,490.5 935.5,492.5 939.5,492.5 940.5,493.5 943.5,493.5 944.5,495.5" fill="none" stroke="#cc0044" stroke-width="1"/>
<polyline points="733.5,466.5 735.5,488.5 740.5,488.5 745.5,488.5 750.5,488.5 754.5,488.5 755.5,487.5 760.5,487.5 765.5,487.5 770.5,487.5 775.5,487.5 780.5,487.5 785.5,487.5 789.5,487.5 790.5,488.5 794.5,488.5 795.5,489.5 800.5,489.5 804.5,489.5 805.5,490.5 809.5,490.5 810.5,489.5 815.5,489.5 820.5,489.5 824.5,489.5 825.5,490.5 829.5,490.5 830.5,489.5 834.5,489.5 835.5,491.5 839.5,491.5 840.5,490.5 845.5,490.5 850.5,490.5 854.5,490.5 855.5,489.5 859.5,489.5 860.5,488.5 865.5,488.5 870.5,488.5 875.5,488.5 880.5,488.5 884.5,488.5 885.5,489.5 890.5,489.5 895.5,489.5 899.5,489.5 900.5,488.5 905.5,488.5 909.5,488.5 910.5,489.5 914.5,489.5 915.5,490.5 919.5,490.5 920.5,491.5 925.5,491.5 929.5,491.5 930.5,495.5 934.5,495.5 935.5,498.5 939.5,498.5 940.5,500.5 944.5,500.5" fill="none" stroke="#e07030" stroke-width="1"/>
<polyline points="733.5,466.5 735.5,488.5 740.5,488.5 745.5,488.5 750.5,488.5 755.5,488.5 759.5,488.5 760.5,489.5 764.5,489.5 765.5,488.5 770.5,488.5 774.5,488.5 775.5,489.5 779.5,489.5 780.5,488.5 785.5,488.5 789.5,488.5 790.5,487.5 795.5,487.5 800.5,487.5 805.5,487.5 809.5,487.5 810.5,488.5 815.5,488.5 820.5,488.5 825.5,488.5 829.5,488.5 830.5,487.5 835.5,487.5 840.5,487.5 845.5,487.5 850.5,487.5 855.5,487.5 860.5,487.5 864.5,487.5 865.5,488.5 869.5,488.5 870.5,487.5 874.5,487.5 875.5,488.5 879.5,488.5 880.5,486.5 885.5,486.5 889.5,486.5 890.5,487.5 894.5,487.5 895.5,486.5 899.5,486.5 900.5,485.5 904.5,485.5 905.5,486.5 909.5,486.5 910.5,487.5 914.5,487.5 915.5,489.5 919.5,489.5 920.5,491.5 924.5,491.5 925.5,490.5 929.5,490.5 930.5,492.5 934.5,492.5 935.5,494.5 939.5,494.5 940.5,497.5 943.5,497.5 944.5,498.5" fill="none" stroke="#b22222" stroke-width="1"/>
<polyline points="733.5,465.5 735.5,488.5 740.5,488.5 744.5,488.5 745.5,487.5 750.5,487.5 755.5,487.5 760.5,487.5 765.5,487.5 770.5,487.5 775.5,487.5 780.5,487.5 785.5,487.5 789.5,487.5 790.5,488.5 795.5,488.5 800.5,488.5 804.5,488.5 805.5,487.5 810.5,487.5 814.5,487.5 815.5,489.5 820.5,489.5 825.5,489.5 830.5,489.5 835.5,489.5 840.5,489.5 845.5,489.5 850.5,489.5 854.5,489.5 855.5,490.5 859.5,490.5 860.5,489.5 864.5,489.5 865.5,490.5 870.5,490.5 875.5,490.5 880.5,490.5 885.5,490.5 890.5,490.5 895.5,490.5 900.5,490.5 904.5,490.5 905.5,491.5 909.5,491.5 910.5,492.5 915.5,492.5 919.5,492.5 920.5,493.5 925.5,493.5 929.5,493.5 930.5,496.5 934.5,496.5 935.5,498.5 939.5,498.5 940.5,500.5 944.5,500.5" fill="none" stroke="#990099" stroke-width="1"/>
<polyline points="733.5,466.5 735.5,489.5 740.5,489.5 745.5,489.5 750.5,489.5 755.5,489.5 760.5,489.5 765.5,489.5 769.5,489.5 770.5,488.5 774.5,488.5 775.5,489.5 779.5,489.5 780.5,490.5 785.5,490.5 790.5,490.5 795.5,490.5 799.5,490.5 800.5,488.5 804.5,488.5 805.5,489.5 810.5,489.5 815.5,489.5 820.5,489.5 824.5,489.5 825.5,488.5 830.5,488.5 834.5,488.5 835.5,489.5 839.5,489.5 840.5,490.5 844.5,490.5 845.5,492.5 850.5,492.5 855.5,492.5 859.5,492.5 860.5,491.5 865.5,491.5 869.5,491.5 870.5,492.5 875.5,492.5 880.5,492.5 884.5,492.5 885.5,490.5 889.5,490.5 890.5,489.5 895.5,489.5 900.5,489.5 904.5,489.5 905.5,492.5 909.5,492.5 910.5,491.5 914.5,491.5 915.5,492.5 920.5,492.5 924.5,492.5 925.5,494.5 929.5,494.5 930.5,496.5 935.5,496.5 939.5,496.5 940.5,498.5 943.5,498.5 944.5,497.5" fill="none" stroke="#c0a0e0" stroke-width="1"/>
<polyline points="733.5,466.5 735.5,489.5 740.5,489.5 744.5,489.5 745.5,490.5 750.5,490.5 755.5,490.5 759.5,490.5 760.5,491.5 765.5,491.5 770.5,491.5 775.5,491.5 780.5,491.5 785.5,491.5 789.5,491.5 790.5,490.5 794.5,490.5 795.5,491.5 799.5,491.5 800.5,492.5 804.5,492.5 805.5,491.5 810.5,491.5 815.5,491.5 820.5,491.5 825.5,491.5 829.5,491.5 830.5,493.5 835.5,493.5 839.5,493.5 840.5,492.5 845.5,492.5 850.5,492.5 854.5,492.5 855.5,491.5 860.5,491.5 865.5,491.5 870.5,491.5 875.5,491.5 879.5,491.5 880.5,492.5 885.5,492.5 890.5,492.5 894.5,492.5 895.5,491.5 900.5,491.5 904.5,491.5 905.5,492.5 910.5,492.5 914.5,492.5 915.5,493.5 920.5,493.5 924.5,493.5 925.5,494.5 929.5,494.5 930.5,496.5 934.5,496.5 935.5,497.5 939.5,497.5 940.5,498.5 943.5,498.5 944.5,499.5" fill="none" stroke="#000040" stroke-width="1"/>
<polyline points="733.5,468.5 735.5,491.5 740.5,491.5 745.5,491.5 750.5,491.5 755.5,491.5 760.5,491.5 765.5,491.5 769.5,491.5 770.5,492.5 775.5,492.5 780.5,492.5 785.5,492.5 790.5,492.5 795.5,492.5 800.5,492.5 805.5,492.5 810.5,492.5 815.5,492.5 820.5,492.5 824.5,492.5 825.5,491.5 829.5,491.5 830.5,493.5 835.5,493.5 839.5,493.5 840.5,495.5 844.5,495.5 845.5,493.5 850.5,493.5 855.5,493.5 860.5,493.5 864.5,493.5 865.5,492.5 870.5,492.5 874.5,492.5 875.5,491.5 880.5,491.5 885.5,491.5 890.5,491.5 895.5,491.5 899.5,491.5 900.5,492.5 904.5,492.5 905.5,493.5 910.5,493.5 914.5,493.5 915.5,494.5 920.5,494.5 924.5,494.5 925.5,496.5 929.5,496.5 930.5,498.5 934.5,498.5 935.5,499.5 939.5,499.5 940.5,500.5 943.5,500.5 944.5,501.5" fill="none" stroke="#cc33aa" stroke-width="1"/>
<polyline points="733.5,472.5 735.5,494.5 740.5,494.5 744.5,494.5 745.5,493.5 750.5,493.5 755.5,493.5 760.5,493.5 765.5,493.5 769.5,493.5 770.5,491.5 775.5,491.5 779.5,491.5 780.5,492.5 785.5,492.5 789.5,492.5 790.5,493.5 795.5,493.5 800.5,493.5 804.5,493.5 805.5,495.5 810.5,495.5 814.5,495.5 815.5,494.5 820.5,494.5 825.5,494.5 830.5,494.5 835.5,494.5 840.5,494.5 845.5,494.5 850.5,494.5 855.5,494.5 860.5,494.5 865.5,494.5 869.5,494.5 870.5,492.5 875.5,492.5 880.5,492.5 885.5,492.5 890.5,492.5 894.5,492.5 895.5,493.5 900.5,493.5 905.5,493.5 909.5,493.5 910.5,492.5 914.5,492.5 915.5,493.5 919.5,493.5 920.5,494.5 925.5,494.5 929.5,494.5 930.5,496.5 934.5,496.5 935.5,498.5 939.5,498.5 940.5,500.5 943.5,500.5 944.5,501.5" fill="none" stroke="#a0522d" stroke-width="1"/>
<polyline points="733.5,469.5 735.5,491.5 739.5,491.5 740.5,490.5 744.5,490.5 745.5,491.5 749.5,491.5 750.5,493.5 754.5,493.5 755.5,492.5 760.5,492.5 764.5,492.5 765.5,491.5 770.5,491.5 775.5,491.5 779.5,491.5 780.5,493.5 785.5,493.5 790.5,493.5 795.5,493.5 800.5,493.5 805.5,493.5 809.5,493.5 810.5,494.5 815.5,494.5 820.5,494.5 825.5,494.5 829.5,494.5 830.5,495.5 834.5,495.5 835.5,496.5 839.5,496.5 840.5,495.5 844.5,495.5 845.5,496.5 850.5,496.5 855.5,496.5 860.5,496.5 865.5,496.5 869.5,496.5 870.5,495.5 875.5,495.5 880.5,495.5 884.5,495.5 885.5,496.5 890.5,496.5 894.5,496.5 895.5,495.5 899.5,495.5 900.5,494.5 904.5,494.5 905.5,495.5 910.5,495.5 914.5,495.5 915.5,496.5 920.5,496.5 924.5,496.5 925.5,497.5 929.5,497.5 930.5,498.5 934.5,498.5 935.5,500.5 939.5,500.5 940.5,503.5 944.5,503.5" fill="none" stroke="#e0a080" stroke-width="1"/>
<polyline points="733.5,472.5 735.5,496.5 740.5,496.5 745.5,496.5 750.5,496.5 755.5,496.5 760.5,496.5 765.5,496.5 770.5,496.5 775.5,496.5 780.5,496.5 785.5,496.5 790.5,496.5 795.5,496.5 799.5,496.5 800.5,495.5 805.5,495.5 810.5,495.5 815.5,495.5 820.5,495.5 825.5,495.5 829.5,495.5 830.5,496.5 835.5,496.5 840.5,496.5 845.5,496.5 849.5,496.5 850.5,495.5 854.5,495.5 855.5,494.5 860.5,494.5 865.5,494.5 870.5,494.5 875.5,494.5 880.5,494.5 885.5,494.5 890.5,494.5 895.5,494.5 899.5,494.5 900.5,495.5 904.5,495.5 905.5,494.5 909.5,494.5 910.5,495.5 914.5,495.5 915.5,496.5 920.5,496.5 924.5,496.5 925.5,497.5 929.5,497.5 930.5,498.5 934.5,498.5 935.5,500.5 939.5,500.5 940.5,501.5 943.5,501.5 944.5,502.5" fill="none" stroke="#c06060" stroke-width="1"/>
<polyline points="733.5,472.5 735.5,493.5 739.5,493.5 740.5,494.5 745.5,494.5 749.5,494.5 750.5,493.5 755.5,493.5 760.5,493.5 765.5,493.5 770.5,493.5 774.5,493.5 775.5,494.5 780.5,494.5 784.5,494.5 785.5,492.5 789.5,492.5 790.5,493.5 795.5,493.5 800.5,493.5 804.5,493.5 805.5,494.5 809.5,494.5 810.5,495.5 815.5,495.5 819.5,495.5 820.5,493.5 824.5,493.5 825.5,494.5 830.5,494.5 835.5,494.5 840.5,494.5 845.5,494.5 849.5,494.5 850.5,495.5 855.5,495.5 859.5,495.5 860.5,497.5 865.5,497.5 870.5,497.5 875.5,497.5 880.5,497.5 885.5,497.5 890.5,497.5 895.5,497.5 900.5,497.5 905.5,497.5 909.5,497.5 910.5,498.5 915.5,498.5 919.5,498.5 920.5,499.5 925.5,499.5 929.5,499.5 930.5,501.5 935.5,501.5 939.5,501.5 940.5,503.5 943.5,503.5 944.5,504.5" fill="none" stroke="#8899ee" stroke-width="1"/>
<polyline points="733.5,473.5 735.5,496.5 739.5,496.5 740.5,497.5 745.5,497.5 749.5,497.5 750.5,496.5 755.5,496.5 760.5,496.5 764.5,496.5 765.5,497.5 770.5,497.5 775.5,497.5 780.5,497.5 785.5,497.5 790.5,497.5 795.5,497.5 800.5,497.5 804.5,497.5 805.5,498.5 810.5,498.5 815.5,498.5 820.5,498.5 824.5,498.5 825.5,500.5 830.5,500.5 835.5,500.5 840.5,500.5 845.5,500.5 850.5,500.5 855.5,500.5 859.5,500.5 860.5,499.5 865.5,499.5 870.5,499.5 875.5,499.5 880.5,499.5 885.5,499.5 889.5,499.5 890.5,497.5 895.5,497.5 900.5,497.5 904.5,497.5 905.5,498.5 910.5,498.5 914.5,498.5 915.5,499.5 919.5,499.5 920.5,498.5 924.5,498.5 925.5,499.5 929.5,499.5 930.5,500.5 934.5,500.5 935.5,501.5 939.5,501.5 940.5,503.5 943.5,503.5 944.5,504.5" fill="none" stroke="#55bbff" stroke-width="1"/>
<polyline points="733.5,472.5 735.5,495.5 739.5,495.5 740.5,494.5 744.5,494.5 745.5,495.5 749.5,495.5 750.5,494.5 755.5,494.5 759.5,494.5 760.5,495.5 765.5,495.5 770.5,495.5 774.5,495.5 775.5,496.5 780.5,496.5 784.5,496.5 785.5,497.5 790.5,497.5 795.5,497.5 799.5,497.5 800.5,495.5 804.5,495.5 805.5,496.5 810.5,496.5 815.5,496.5 820.5,496.5 825.5,496.5 829.5,496.5 830.5,497.5 834.5,497.5 835.5,498.5 840.5,498.5 845.5,498.5 850.5,498.5 855.5,498.5 859.5,498.5 860.5,499.5 864.5,499.5 865.5,500.5 870.5,500.5 875.5,500.5 879.5,500.5 880.5,499.5 884.5,499.5 885.5,497.5 890.5,497.5 894.5,497.5 895.5,496.5 900.5,496.5 904.5,496.5 905.5,497.5 909.5,497.5 910.5,498.5 914.5,498.5 915.5,499.5 919.5,499.5 920.5,498.5 924.5,498.5 925.5,499.5 929.5,499.5 930.5,500.5 934.5,500.5 935.5,502.5 939.5,502.5 940.5,503.5 944.5,503.5" fill="none" stroke="#990099" stroke-width="1"/>
<polyline points="733.5,475.5 735.5,497.5 739.5,497.5 740.5,495.5 744.5,495.5 745.5,496.5 750.5,496.5 755.5,496.5 760.5,496.5 764.5,496.5 765.5,497.5 770.5,497.5 775.5,497.5 780.5,497.5 785.5,497.5 790.5,497.5 794.5,497.5 795.5,498.5 800.5,498.5 804.5,498.5 805.5,497.5 809.5,497.5 810.5,496.5 814.5,496.5 815.5,495.5 819.5,495.5 820.5,496.5 825.5,496.5 830.5,496.5 835.5,496.5 839.5,496.5 840.5,497.5 844.5,497.5 845.5,498.5 849.5,498.5 850.5,500.5 855.5,500.5 859.5,500.5 860.5,501.5 865.5,501.5 870.5,501.5 875.5,501.5 880.5,501.5 884.5,501.5 885.5,500.5 890.5,500.5 894.5,500.5 895.5,501.5 900.5,501.5 905.5,501.5 909.5,501.5 910.5,502.5 914.5,502.5 915.5,501.5 919.5,501.5 920.5,502.5 924.5,502.5 925.5,503.5 929.5,503.5 930.5,504.5 934.5,504.5 935.5,505.5 939.5,505.5 940.5,507.5 944.5,507.5" fill="none" stroke="#c0a0e0" stroke-width="1"/>
<polyline points="733.5,476.5 735.5,499.5 740.5,499.5 745.5,499.5 750.5,499.5 755.5,499.5 760.5,499.5 765.5,499.5 770.5,499.5 775.5,499.5 780.5,499.5 785.5,499.5 790.5,499.5 795.5,499.5 800.5,499.5 805.5,499.5 810.5,499.5 814.5,499.5 815.5,500.5 820.5,500.5 825.5,500.5 829.5,500.5 830.5,499.5 834.5,499.5 835.5,500.5 840.5,500.5 845.5,500.5 850.5,500.5 855.5,500.5 859.5,500.5 860.5,501.5 865.5,501.5 870.5,501.5 875.5,501.5 880.5,501.5 885.5,501.5 890.5,501.5 895.5,501.5 900.5,501.5 905.5,501.5 909.5,501.5 910.5,502.5 914.5,502.5 915.5,501.5 919.5,501.5 920.5,502.5 925.5,502.5 929.5,502.5 930.5,504.5 934.5,504.5 935.5,505.5 939.5,505.5 940.5,506.5 943.5,506.5 944.5,507.5" fill="none" stroke="#55bbff" stroke-width="1"/>
<polyline points="944.5,492.5 946.5,453.5 951.5,453.5 956.5,453.5 961.5,453.5 966.5,453.5 971.5,453.5 976.5,453.5 981.5,453.5 986.5,453.5 991.5,453.5 996.5,453.5 1001.5,453.5 1003.5,453.5" fill="none" stroke="#c0a0e0" stroke-width="1"/>
<polyline points="944.5,496.5 946.5,458.5 951.5,458.5 956.5,458.5 961.5,458.5 966.5,458.5 971.5,458.5 976.5,458.5 981.5,458.5 985.5,458.5 986.5,456.5 991.5,456.5 996.5,456.5 1001.5,456.5 1003.5,456.5" fill="none" stroke="#55bbff" stroke-width="1"/>
<polyline points="944.5,494.5 946.5,458.5 950.5,458.5 951.5,459.5 956.5,459.5 961.5,459.5 965.5,459.5 966.5,460.5 971.5,460.5 975.5,460.5 976.5,459.5 981.5,459.5 986.5,459.5 990.5,459.5 991.5,458.5 996.5,458.5 1001.5,458.5 1002.5,458.5 1003.5,459.5" fill="none" stroke="#66ccff" stroke-width="1"/>
<polyline points="944.5,493.5 946.5,459.5 950.5,459.5 951.5,460.5 956.5,460.5 961.5,460.5 965.5,460.5 966.5,461.5 971.5,461.5 976.5,461.5 981.5,461.5 986.5,461.5 991.5,461.5 996.5,461.5 1001.5,461.5 1002.5,461.5 1003.5,460.5" fill="none" stroke="#8899ee" stroke-width="1"/>
<polyline points="944.5,495.5 946.5,462.5 951.5,462.5 956.5,462.5 961.5,462.5 965.5,462.5 966.5,461.5 970.5,461.5 971.5,462.5 976.5,462.5 981.5,462.5 985.5,462.5 986.5,463.5 990.5,463.5 991.5,462.5 996.5,462.5 1001.5,462.5 1002.5,462.5 1003.5,461.5" fill="none" stroke="#55bbff" stroke-width="1"/>
<polyline points="944.5,494.5 946.5,463.5 951.5,463.5 955.5,463.5 956.5,465.5 961.5,465.5 966.5,465.5 971.5,465.5 975.5,465.5 976.5,463.5 981.5,463.5 985.5,463.5 986.5,462.5 991.5,462.5 995.5,462.5 996.5,463.5 1001.5,463.5 1003.5,463.5" fill="none" stroke="#e0a080" stroke-width="1"/>
<polyline points="944.5,494.5 946.5,464.5 951.5,464.5 956.5,464.5 961.5,464.5 966.5,464.5 971.5,464.5 976.5,464.5 980.5,464.5 981.5,466.5 986.5,466.5 991.5,466.5 996.5,466.5 1001.5,466.5 1003.5,466.5" fill="none" stroke="#ff4040" stroke-width="1"/>
<polyline points="944.5,495.5 946.5,466.5 951.5,466.5 955.5,466.5 956.5,467.5 960.5,467.5 961.5,468.5 966.5,468.5 971.5,468.5 976.5,468.5 981.5,468.5 986.5,468.5 991.5,468.5 996.5,468.5 1001.5,468.5 1002.5,468.5 1003.5,470.5" fill="none" stroke="#e08000" stroke-width="1"/>
<polyline points="944.5,500.5 946.5,473.5 951.5,473.5 955.5,473.5 956.5,472.5 960.5,472.5 961.5,471.5 965.5,471.5 966.5,472.5 970.5,472.5 971.5,473.5 976.5,473.5 981.5,473.5 986.5,473.5 990.5,473.5 991.5,472.5 996.5,472.5 1000.5,472.5 1001.5,471.5 1002.5,471.5 1003.5,470.5" fill="none" stroke="#d2691e" stroke-width="1"/>
<polyline points="944.5,498.5 946.5,472.5 951.5,472.5 956.5,472.5 960.5,472.5 961.5,471.5 966.5,471.5 971.5,471.5 976.5,471.5 980.5,471.5 981.5,472.5 985.5,472.5 986.5,470.5 991.5,470.5 996.5,470.5 1000.5,470.5 1001.5,472.5 1003.5,472.5" fill="none" stroke="#a0a000" stroke-width="1"/>
<polyline points="944.5,500.5 946.5,476.5 951.5,476.5 955.5,476.5 956.5,477.5 960.5,477.5 961.5,476.5 966.5,476.5 971.5,476.5 975.5,476.5 976.5,475.5 981.5,475.5 986.5,475.5 991.5,475.5 996.5,475.5 1001.5,475.5 1003.5,475.5" fill="none" stroke="#cc0044" stroke-width="1"/>
<polyline points="944.5,497.5 946.5,473.5 951.5,473.5 956.5,473.5 960.5,473.5 961.5,472.5 965.5,472.5 966.5,473.5 970.5,473.5 971.5,472.5 975.5,472.5 976.5,473.5 981.5,473.5 986.5,473.5 990.5,473.5 991.5,474.5 995.5,474.5 996.5,475.5 1001.5,475.5 1002.5,475.5 1003.5,476.5" fill="none" stroke="#6b8e23" stroke-width="1"/>
<polyline points="944.5,499.5 946.5,476.5 951.5,476.5 956.5,476.5 961.5,476.5 965.5,476.5 966.5,477.5 970.5,477.5 971.5,478.5 976.5,478.5 981.5,478.5 986.5,478.5 991.5,478.5 996.5,478.5 1001.5,478.5 1002.5,478.5 1003.5,477.5" fill="none" stroke="#40e000" stroke-width="1"/>
<polyline points="944.5,501.5 946.5,479.5 951.5,479.5 955.5,479.5 956.5,478.5 960.5,478.5 961.5,479.5 966.5,479.5 971.5,479.5 976.5,479.5 981.5,479.5 986.5,479.5 990.5,479.5 991.5,478.5 996.5,478.5 1001.5,478.5 1002.5,478.5 1003.5,479.5" fill="none" stroke="#90c020" stroke-width="1"/>
<polyline points="944.5,501.5 946.5,482.5 950.5,482.5 951.5,481.5 956.5,481.5 960.5,481.5 961.5,482.5 966.5,482.5 971.5,482.5 976.5,482.5 981.5,482.5 985.5,482.5 986.5,483.5 991.5,483.5 996.5,483.5 1000.5,483.5 1001.5,484.5 1003.5,484.5" fill="none" stroke="#6b8e23" stroke-width="1"/>
<polyline points="944.5,503.5 946.5,485.5 951.5,485.5 956.5,485.5 961.5,485.5 965.5,485.5 966.5,484.5 971.5,484.5 976.5,484.5 981.5,484.5 986.5,484.5 991.5,484.5 996.5,484.5 1000.5,484.5 1001.5,486.5 1003.5,486.5" fill="none" stroke="#e07030" stroke-width="1"/>
<polyline points="944.5,502.5 946.5,486.5 951.5,486.5 956.5,486.5 961.5,486.5 966.5,486.5 971.5,486.5 976.5,486.5 980.5,486.5 981.5,487.5 986.5,487.5 991.5,487.5 995.5,487.5 996.5,489.5 1000.5,489.5 1001.5,487.5 1003.5,487.5" fill="none" stroke="#b22222" stroke-width="1"/>
<polyline points="944.5,504.5 946.5,488.5 950.5,488.5 951.5,489.5 955.5,489.5 956.5,487.5 961.5,487.5 966.5,487.5 971.5,487.5 975.5,487.5 976.5,488.5 981.5,488.5 985.5,488.5 986.5,489.5 991.5,489.5 996.5,489.5 1000.5,489.5 1001.5,487.5 1003.5,487.5" fill="none" stroke="#990099" stroke-width="1"/>
<polyline points="944.5,504.5 946.5,491.5 950.5,491.5 951.5,490.5 956.5,490.5 960.5,490.5 961.5,491.5 966.5,491.5 971.5,491.5 975.5,491.5 976.5,492.5 981.5,492.5 985.5,492.5 986.5,494.5 990.5,494.5 991.5,493.5 995.5,493.5 996.5,494.5 1000.5,494.5 1001.5,493.5 1003.5,493.5" fill="none" stroke="#cc33aa" stroke-width="1"/>
<polyline points="944.5,503.5 946.5,491.5 951.5,491.5 956.5,491.5 960.5,491.5 961.5,490.5 966.5,490.5 971.5,490.5 975.5,490.5 976.5,492.5 980.5,492.5 981.5,491.5 986.5,491.5 990.5,491.5 991.5,490.5 995.5,490.5 996.5,491.5 1001.5,491.5 1003.5,491.5" fill="none" stroke="#a0522d" stroke-width="1"/>
<polyline points="944.5,507.5 946.5,496.5 951.5,496.5 956.5,496.5 961.5,496.5 965.5,496.5 966.5,497.5 970.5,497.5 971.5,495.5 976.5,495.5 980.5,495.5 981.5,494.5 986.5,494.5 991.5,494.5 996.5,494.5 1000.5,494.5 1001.5,493.5 1003.5,493.5" fill="none" stroke="#400010" stroke-width="1"/>
<polyline points="944.5,507.5 946.5,497.5 951.5,497.5 955.5,497.5 956.5,498.5 960.5,498.5 961.5,497.5 966.5,497.5 971.5,497.5 976.5,497.5 981.5,497.5 985.5,497.5 986.5,496.5 990.5,496.5 991.5,495.5 996.5,495.5 1001.5,495.5 1003.5,495.5" fill="none" stroke="#000060" stroke-width="1"/>
<rect x="945" y="452" width="1" height="56" fill="#d2691e"/>
<polyline points="692.5,457.5 700.5,449.5 715.5,450.5 733.5,452.5" fill="none" stroke="#a08040" stroke-width="1"/>
<polyline points="690.5,486.5 700.5,485.5 733.5,486.5" fill="none" stroke="#55bbff" stroke-width="1"/>
<polyline points="285.5,499.5 290.5,501.5 305.5,506.5 330.5,505.5 380.5,506.5 440.5,505.5 450.5,503.5 470.5,505.5 512.5,505.5 560.5,504.5 600.5,503.5 640.5,501.5 690.5,497.5" fill="none" stroke="#a08040" stroke-width="1"/>
<polyline points="735.5,499.5 745.5,502.5 760.5,504.5 770.5,506.5 800.5,506.5 850.5,506.5 900.5,505.5 940.5,507.5 944.5,508.5" fill="none" stroke="#a08040" stroke-width="1"/>
<polyline points="900.5,462.5 910.5,465.5 920.5,468.5 935.5,470.5 944.5,471.5" fill="none" stroke="#55bbff" stroke-width="1"/>
<polyline points="900.5,468.5 915.5,472.5 930.5,474.5 944.5,477.5" fill="none" stroke="#66ccff" stroke-width="1"/>
<polyline points="900.5,471.5 920.5,474.5 944.5,476.5" fill="none" stroke="#c0a0e0" stroke-width="1"/>
<polyline points="946.5,452.5 970.5,453.5 1003.5,451.5" fill="none" stroke="#c080e0" stroke-width="1"/>
<polyline points="946.5,490.5 970.5,493.5 1003.5,490.5" fill="none" stroke="#000060" stroke-width="1"/>
<polyline points="946.5,499.5 960.5,500.5 985.5,502.5 1003.5,499.5" fill="none" stroke="#000" stroke-width="1"/>
<polyline points="20.5,463.5 25.5,462.5 33.5,462.5 36.5,464.5 45.5,461.5 48.5,462.5 55.5,497.5 70.5,497.5 78.5,496.5 85.5,497.5 120.5,497.5 128.5,495.5 138.5,497.5 176.5,497.5 178.5,471.5 221.5,471.5 223.5,474.5 257.5,474.5 260.5,466.5 275.5,468.5 280.5,471.5 340.5,470.5 380.5,471.5 385.5,467.5 420.5,469.5 445.5,470.5 512.5,468.5 690.5,468.5 692.5,458.5 700.5,457.5 701.5,451.5 733.5,454.5 735.5,476.5 745.5,475.5 760.5,477.5 780.5,477.5 900.5,478.5 901.5,450.5 910.5,452.5 920.5,455.5 930.5,459.5 944.5,461.5 946.5,449.5 970.5,450.5 990.5,451.5 1003.5,449.5" fill="none" stroke="#000" stroke-width="1"/>
<rect x="20" y="478" width="47" height="1" fill="#000"/>
<rect x="70" y="478" width="934" height="1" fill="#000"/>
<rect x="20" y="484" width="47" height="1" fill="#000"/>
<rect x="70" y="484" width="934" height="1" fill="#000"/>
<rect x="20" y="499" width="47" height="1" fill="#000"/>
<rect x="70" y="499" width="934" height="1" fill="#000"/>
<rect x="67" y="440" width="3" height="85" fill="#fff"/>
<polyline points="18.5,578.5 23.5,578.5 28.5,578.5 33.5,578.5 37.5,578.5 38.5,579.5 43.5,579.5 47.5,579.5 48.5,578.5 53.5,578.5 55.5,578.5 58.5,578.5 60.5,578.5 62.5,578.5 63.5,577.5 68.5,577.5 70.5,577.5 71.5,577.5 72.5,565.5 72.5,565.5 73.5,564.5 77.5,564.5 78.5,559.5 79.5,559.5 80.5,558.5 83.5,558.5 88.5,558.5 93.5,558.5 98.5,558.5 103.5,558.5 108.5,558.5 112.5,558.5 113.5,557.5 118.5,557.5 123.5,557.5 128.5,557.5 133.5,557.5 138.5,557.5 143.5,557.5 148.5,557.5 153.5,557.5 158.5,557.5 160.5,557.5 162.5,557.5 163.5,556.5 164.5,556.5 165.5,571.5 168.5,571.5 173.5,571.5 178.5,571.5 183.5,571.5 188.5,571.5 192.5,571.5 193.5,572.5 198.5,572.5 203.5,572.5 208.5,572.5 213.5,572.5 218.5,572.5 220.5,572.5 222.5,572.5 223.5,573.5 225.5,573.5 228.5,573.5 233.5,573.5 238.5,573.5 242.5,573.5 243.5,574.5 248.5,574.5 253.5,574.5 258.5,574.5 263.5,574.5 268.5,574.5 273.5,574.5 277.5,574.5 278.5,575.5 283.5,575.5 288.5,575.5 290.5,575.5 292.5,575.5 293.5,576.5 297.5,576.5 298.5,577.5 300.5,577.5 303.5,577.5 308.5,577.5 313.5,577.5 318.5,577.5 323.5,577.5 328.5,577.5 333.5,577.5 338.5,577.5 343.5,577.5 348.5,577.5 353.5,577.5 358.5,577.5 363.5,577.5 368.5,577.5 373.5,577.5 378.5,577.5 383.5,577.5 388.5,577.5 393.5,577.5 398.5,577.5 403.5,577.5 408.5,577.5 413.5,577.5 418.5,577.5 422.5,577.5 423.5,578.5 427.5,578.5 428.5,577.5 433.5,577.5 437.5,577.5 438.5,578.5 443.5,578.5 448.5,578.5 452.5,578.5 453.5,577.5 458.5,577.5 463.5,577.5 467.5,577.5 468.5,578.5 472.5,578.5 473.5,577.5 478.5,577.5 483.5,577.5 488.5,577.5 493.5,577.5 497.5,577.5 498.5,578.5 503.5,578.5 508.5,578.5 512.5,578.5 512.5,578.5 513.5,577.5 518.5,577.5 522.5,577.5 523.5,576.5 528.5,576.5 533.5,576.5 537.5,576.5 538.5,577.5 540.5,577.5 543.5,577.5 547.5,577.5 548.5,576.5 553.5,576.5 558.5,576.5 563.5,576.5 568.5,576.5 569.5,576.5 570.5,577.5 572.5,577.5 573.5,576.5 577.5,576.5 578.5,577.5 582.5,577.5 583.5,576.5 588.5,576.5 592.5,576.5 593.5,575.5 598.5,575.5 602.5,575.5 603.5,573.5 608.5,573.5 612.5,573.5 613.5,572.5 614.5,572.5 615.5,573.5 618.5,573.5 623.5,573.5 627.5,573.5 628.5,574.5 632.5,574.5 633.5,572.5 637.5,572.5 638.5,573.5 643.5,573.5 648.5,573.5 653.5,573.5 657.5,573.5 658.5,574.5 659.5,574.5 660.5,573.5 663.5,573.5 667.5,573.5 668.5,574.5 672.5,574.5 673.5,576.5 677.5,576.5 678.5,575.5 682.5,575.5 683.5,576.5 687.5,576.5 688.5,577.5 690.5,577.5 693.5,577.5 698.5,577.5 703.5,577.5 708.5,577.5 713.5,577.5 718.5,577.5 723.5,577.5 728.5,577.5 733.5,577.5 738.5,577.5 743.5,577.5 748.5,577.5 753.5,577.5 758.5,577.5 763.5,577.5 768.5,577.5 773.5,577.5 778.5,577.5 783.5,577.5 788.5,577.5 792.5,577.5 793.5,576.5 798.5,576.5 803.5,576.5 808.5,576.5 810.5,576.5 812.5,576.5 813.5,577.5 818.5,577.5 822.5,577.5 823.5,578.5 828.5,578.5 832.5,578.5 833.5,576.5 838.5,576.5 840.5,576.5 842.5,576.5 843.5,577.5 847.5,577.5 848.5,578.5 853.5,578.5 858.5,578.5 862.5,578.5 863.5,577.5 868.5,577.5 873.5,577.5 878.5,577.5 880.5,577.5 883.5,577.5 888.5,577.5 892.5,577.5 893.5,576.5 897.5,576.5 898.5,578.5 900.5,578.5 902.5,578.5 903.5,579.5 908.5,579.5 913.5,579.5 918.5,579.5 923.5,579.5 928.5,579.5 933.5,579.5 938.5,579.5 940.5,579.5 943.5,579.5 948.5,579.5 953.5,579.5 957.5,579.5 958.5,578.5 962.5,578.5 963.5,579.5 967.5,579.5 968.5,580.5 973.5,580.5 977.5,580.5 978.5,579.5 982.5,579.5 983.5,581.5 987.5,581.5 988.5,580.5 992.5,580.5 993.5,579.5 997.5,579.5 998.5,580.5 1003.5,580.5" fill="none" stroke="#e08000" stroke-width="1"/>
<polyline points="18.5,579.5 23.5,579.5 28.5,579.5 33.5,579.5 38.5,579.5 42.5,579.5 43.5,578.5 48.5,578.5 53.5,578.5 55.5,578.5 58.5,578.5 59.5,578.5 60.5,577.5 63.5,577.5 68.5,577.5 70.5,577.5 71.5,577.5 72.5,565.5 72.5,565.5 73.5,564.5 77.5,564.5 78.5,561.5 79.5,561.5 80.5,558.5 83.5,558.5 88.5,558.5 93.5,558.5 98.5,558.5 103.5,558.5 108.5,558.5 112.5,558.5 113.5,559.5 118.5,559.5 123.5,559.5 128.5,559.5 133.5,559.5 138.5,559.5 142.5,559.5 143.5,558.5 148.5,558.5 153.5,558.5 158.5,558.5 160.5,558.5 162.5,558.5 163.5,557.5 164.5,557.5 165.5,571.5 168.5,571.5 172.5,571.5 173.5,572.5 178.5,572.5 183.5,572.5 188.5,572.5 192.5,572.5 193.5,573.5 197.5,573.5 198.5,574.5 203.5,574.5 208.5,574.5 213.5,574.5 218.5,574.5 220.5,574.5 223.5,574.5 224.5,574.5 225.5,575.5 227.5,575.5 228.5,573.5 233.5,573.5 238.5,573.5 242.5,573.5 243.5,574.5 248.5,574.5 253.5,574.5 257.5,574.5 258.5,575.5 263.5,575.5 267.5,575.5 268.5,577.5 273.5,577.5 278.5,577.5 283.5,577.5 288.5,577.5 289.5,577.5 290.5,578.5 292.5,578.5 293.5,579.5 297.5,579.5 298.5,580.5 299.5,580.5 300.5,582.5 302.5,582.5 303.5,580.5 308.5,580.5 313.5,580.5 317.5,580.5 318.5,579.5 323.5,579.5 327.5,579.5 328.5,580.5 333.5,580.5 337.5,580.5 338.5,579.5 343.5,579.5 347.5,579.5 348.5,580.5 353.5,580.5 358.5,580.5 362.5,580.5 363.5,579.5 368.5,579.5 373.5,579.5 378.5,579.5 383.5,579.5 387.5,579.5 388.5,580.5 393.5,580.5 398.5,580.5 402.5,580.5 403.5,579.5 408.5,579.5 413.5,579.5 418.5,579.5 422.5,579.5 423.5,578.5 428.5,578.5 433.5,578.5 438.5,578.5 443.5,578.5 448.5,578.5 453.5,578.5 458.5,578.5 463.5,578.5 468.5,578.5 473.5,578.5 478.5,578.5 483.5,578.5 487.5,578.5 488.5,577.5 493.5,577.5 498.5,577.5 503.5,577.5 508.5,577.5 512.5,577.5 513.5,577.5 517.5,577.5 518.5,579.5 523.5,579.5 528.5,579.5 532.5,579.5 533.5,578.5 538.5,578.5 539.5,578.5 540.5,577.5 543.5,577.5 547.5,577.5 548.5,578.5 553.5,578.5 558.5,578.5 562.5,578.5 563.5,576.5 567.5,576.5 568.5,577.5 570.5,577.5 572.5,577.5 573.5,576.5 577.5,576.5 578.5,577.5 582.5,577.5 583.5,576.5 588.5,576.5 592.5,576.5 593.5,575.5 598.5,575.5 602.5,575.5 603.5,576.5 608.5,576.5 612.5,576.5 613.5,575.5 615.5,575.5 618.5,575.5 622.5,575.5 623.5,574.5 628.5,574.5 633.5,574.5 638.5,574.5 642.5,574.5 643.5,573.5 648.5,573.5 652.5,573.5 653.5,574.5 658.5,574.5 660.5,574.5 662.5,574.5 663.5,575.5 668.5,575.5 672.5,575.5 673.5,576.5 677.5,576.5 678.5,577.5 683.5,577.5 687.5,577.5 688.5,578.5 690.5,578.5 693.5,578.5 698.5,578.5 703.5,578.5 708.5,578.5 713.5,578.5 718.5,578.5 722.5,578.5 723.5,579.5 728.5,579.5 732.5,579.5 733.5,578.5 738.5,578.5 742.5,578.5 743.5,577.5 748.5,577.5 753.5,577.5 758.5,577.5 763.5,577.5 768.5,577.5 773.5,577.5 778.5,577.5 783.5,577.5 788.5,577.5 792.5,577.5 793.5,576.5 798.5,576.5 803.5,576.5 807.5,576.5 808.5,577.5 810.5,577.5 812.5,577.5 813.5,579.5 818.5,579.5 822.5,579.5 823.5,578.5 827.5,578.5 828.5,579.5 832.5,579.5 833.5,578.5 838.5,578.5 840.5,578.5 842.5,578.5 843.5,577.5 847.5,577.5 848.5,576.5 852.5,576.5 853.5,578.5 857.5,578.5 858.5,579.5 862.5,579.5 863.5,578.5 868.5,578.5 873.5,578.5 878.5,578.5 879.5,578.5 880.5,577.5 883.5,577.5 888.5,577.5 893.5,577.5 898.5,577.5 899.5,577.5 900.5,579.5 903.5,579.5 908.5,579.5 913.5,579.5 918.5,579.5 923.5,579.5 928.5,579.5 933.5,579.5 938.5,579.5 940.5,579.5 943.5,579.5 948.5,579.5 953.5,579.5 957.5,579.5 958.5,578.5 963.5,578.5 968.5,578.5 973.5,578.5 978.5,578.5 983.5,578.5 987.5,578.5 988.5,577.5 993.5,577.5 998.5,577.5 1002.5,577.5 1003.5,579.5" fill="none" stroke="#40e000" stroke-width="1"/>
<polyline points="18.5,579.5 22.5,579.5 23.5,580.5 28.5,580.5 33.5,580.5 37.5,580.5 38.5,578.5 42.5,578.5 43.5,579.5 47.5,579.5 48.5,578.5 52.5,578.5 53.5,579.5 55.5,579.5 58.5,579.5 59.5,579.5 60.5,578.5 63.5,578.5 68.5,578.5 70.5,578.5 71.5,578.5 72.5,565.5 72.5,565.5 73.5,564.5 77.5,564.5 78.5,561.5 79.5,561.5 80.5,559.5 82.5,559.5 83.5,560.5 88.5,560.5 93.5,560.5 98.5,560.5 103.5,560.5 108.5,560.5 112.5,560.5 113.5,561.5 118.5,561.5 122.5,561.5 123.5,560.5 128.5,560.5 133.5,560.5 138.5,560.5 143.5,560.5 148.5,560.5 153.5,560.5 158.5,560.5 160.5,560.5 162.5,560.5 163.5,559.5 164.5,559.5 165.5,572.5 168.5,572.5 173.5,572.5 178.5,572.5 183.5,572.5 187.5,572.5 188.5,571.5 192.5,571.5 193.5,572.5 198.5,572.5 203.5,572.5 208.5,572.5 213.5,572.5 218.5,572.5 220.5,572.5 222.5,572.5 223.5,574.5 225.5,574.5 227.5,574.5 228.5,576.5 232.5,576.5 233.5,577.5 238.5,577.5 243.5,577.5 248.5,577.5 252.5,577.5 253.5,578.5 258.5,578.5 263.5,578.5 268.5,578.5 273.5,578.5 278.5,578.5 283.5,578.5 287.5,578.5 288.5,577.5 290.5,577.5 293.5,577.5 298.5,577.5 299.5,577.5 300.5,578.5 302.5,578.5 303.5,580.5 307.5,580.5 308.5,579.5 312.5,579.5 313.5,578.5 318.5,578.5 323.5,578.5 328.5,578.5 332.5,578.5 333.5,577.5 338.5,577.5 343.5,577.5 347.5,577.5 348.5,578.5 353.5,578.5 358.5,578.5 363.5,578.5 368.5,578.5 373.5,578.5 378.5,578.5 382.5,578.5 383.5,580.5 388.5,580.5 392.5,580.5 393.5,579.5 397.5,579.5 398.5,580.5 403.5,580.5 408.5,580.5 413.5,580.5 418.5,580.5 422.5,580.5 423.5,579.5 428.5,579.5 433.5,579.5 437.5,579.5 438.5,578.5 443.5,578.5 448.5,578.5 453.5,578.5 458.5,578.5 463.5,578.5 468.5,578.5 473.5,578.5 478.5,578.5 483.5,578.5 488.5,578.5 492.5,578.5 493.5,577.5 498.5,577.5 503.5,577.5 507.5,577.5 508.5,578.5 512.5,578.5 513.5,578.5 517.5,578.5 518.5,577.5 523.5,577.5 528.5,577.5 533.5,577.5 537.5,577.5 538.5,575.5 540.5,575.5 543.5,575.5 547.5,575.5 548.5,577.5 553.5,577.5 558.5,577.5 562.5,577.5 563.5,578.5 568.5,578.5 569.5,578.5 570.5,579.5 573.5,579.5 577.5,579.5 578.5,577.5 583.5,577.5 588.5,577.5 593.5,577.5 597.5,577.5 598.5,576.5 602.5,576.5 603.5,574.5 608.5,574.5 613.5,574.5 615.5,574.5 617.5,574.5 618.5,573.5 623.5,573.5 628.5,573.5 632.5,573.5 633.5,574.5 637.5,574.5 638.5,575.5 643.5,575.5 648.5,575.5 653.5,575.5 658.5,575.5 659.5,575.5 660.5,574.5 662.5,574.5 663.5,575.5 667.5,575.5 668.5,574.5 672.5,574.5 673.5,576.5 677.5,576.5 678.5,577.5 683.5,577.5 687.5,577.5 688.5,579.5 690.5,579.5 693.5,579.5 698.5,579.5 702.5,579.5 703.5,578.5 707.5,578.5 708.5,579.5 713.5,579.5 717.5,579.5 718.5,580.5 723.5,580.5 727.5,580.5 728.5,581.5 733.5,581.5 737.5,581.5 738.5,580.5 742.5,580.5 743.5,581.5 747.5,581.5 748.5,580.5 753.5,580.5 758.5,580.5 762.5,580.5 763.5,581.5 768.5,581.5 772.5,581.5 773.5,579.5 777.5,579.5 778.5,577.5 783.5,577.5 788.5,577.5 792.5,577.5 793.5,576.5 798.5,576.5 803.5,576.5 808.5,576.5 809.5,576.5 810.5,577.5 813.5,577.5 818.5,577.5 822.5,577.5 823.5,579.5 827.5,579.5 828.5,578.5 833.5,578.5 837.5,578.5 838.5,576.5 839.5,576.5 840.5,577.5 843.5,577.5 848.5,577.5 853.5,577.5 858.5,577.5 863.5,577.5 868.5,577.5 873.5,577.5 878.5,577.5 879.5,577.5 880.5,578.5 883.5,578.5 888.5,578.5 892.5,578.5 893.5,577.5 898.5,577.5 900.5,577.5 903.5,577.5 908.5,577.5 913.5,577.5 918.5,577.5 922.5,577.5 923.5,579.5 927.5,579.5 928.5,580.5 933.5,580.5 938.5,580.5 940.5,580.5 942.5,580.5 943.5,579.5 947.5,579.5 948.5,577.5 952.5,577.5 953.5,579.5 958.5,579.5 963.5,579.5 967.5,579.5 968.5,577.5 972.5,577.5 973.5,578.5 978.5,578.5 983.5,578.5 987.5,578.5 988.5,577.5 993.5,577.5 998.5,577.5 1002.5,577.5 1003.5,578.5" fill="none" stroke="#a0a000" stroke-width="1"/>
<polyline points="18.5,581.5 22.5,581.5 23.5,579.5 28.5,579.5 32.5,579.5 33.5,578.5 37.5,578.5 38.5,579.5 42.5,579.5 43.5,580.5 48.5,580.5 53.5,580.5 55.5,580.5 58.5,580.5 60.5,580.5 62.5,580.5 63.5,581.5 68.5,581.5 69.5,581.5 70.5,580.5 71.5,580.5 72.5,569.5 72.5,569.5 73.5,568.5 77.5,568.5 78.5,563.5 79.5,563.5 80.5,562.5 83.5,562.5 87.5,562.5 88.5,561.5 93.5,561.5 97.5,561.5 98.5,562.5 103.5,562.5 108.5,562.5 112.5,562.5 113.5,561.5 118.5,561.5 123.5,561.5 128.5,561.5 133.5,561.5 138.5,561.5 143.5,561.5 147.5,561.5 148.5,562.5 152.5,562.5 153.5,561.5 158.5,561.5 160.5,561.5 163.5,561.5 164.5,561.5 165.5,574.5 167.5,574.5 168.5,573.5 173.5,573.5 177.5,573.5 178.5,574.5 183.5,574.5 187.5,574.5 188.5,573.5 192.5,573.5 193.5,575.5 197.5,575.5 198.5,574.5 203.5,574.5 208.5,574.5 213.5,574.5 217.5,574.5 218.5,575.5 219.5,575.5 220.5,574.5 222.5,574.5 223.5,575.5 225.5,575.5 228.5,575.5 233.5,575.5 238.5,575.5 243.5,575.5 247.5,575.5 248.5,576.5 253.5,576.5 257.5,576.5 258.5,577.5 263.5,577.5 268.5,577.5 272.5,577.5 273.5,578.5 278.5,578.5 283.5,578.5 288.5,578.5 290.5,578.5 292.5,578.5 293.5,579.5 297.5,579.5 298.5,580.5 300.5,580.5 303.5,580.5 307.5,580.5 308.5,581.5 313.5,581.5 317.5,581.5 318.5,582.5 322.5,582.5 323.5,581.5 328.5,581.5 333.5,581.5 338.5,581.5 343.5,581.5 347.5,581.5 348.5,580.5 353.5,580.5 358.5,580.5 363.5,580.5 368.5,580.5 373.5,580.5 378.5,580.5 383.5,580.5 388.5,580.5 392.5,580.5 393.5,579.5 398.5,579.5 403.5,579.5 408.5,579.5 413.5,579.5 417.5,579.5 418.5,578.5 423.5,578.5 428.5,578.5 433.5,578.5 438.5,578.5 442.5,578.5 443.5,577.5 448.5,577.5 453.5,577.5 458.5,577.5 462.5,577.5 463.5,579.5 467.5,579.5 468.5,578.5 473.5,578.5 478.5,578.5 482.5,578.5 483.5,579.5 488.5,579.5 493.5,579.5 498.5,579.5 502.5,579.5 503.5,580.5 508.5,580.5 512.5,580.5 513.5,580.5 517.5,580.5 518.5,579.5 523.5,579.5 528.5,579.5 532.5,579.5 533.5,578.5 537.5,578.5 538.5,577.5 540.5,577.5 542.5,577.5 543.5,576.5 547.5,576.5 548.5,577.5 552.5,577.5 553.5,576.5 558.5,576.5 562.5,576.5 563.5,577.5 568.5,577.5 569.5,577.5 570.5,578.5 572.5,578.5 573.5,577.5 578.5,577.5 582.5,577.5 583.5,576.5 587.5,576.5 588.5,577.5 593.5,577.5 597.5,577.5 598.5,576.5 603.5,576.5 608.5,576.5 612.5,576.5 613.5,575.5 615.5,575.5 617.5,575.5 618.5,576.5 623.5,576.5 628.5,576.5 632.5,576.5 633.5,575.5 638.5,575.5 642.5,575.5 643.5,576.5 647.5,576.5 648.5,578.5 652.5,578.5 653.5,577.5 657.5,577.5 658.5,578.5 660.5,578.5 662.5,578.5 663.5,576.5 667.5,576.5 668.5,577.5 673.5,577.5 677.5,577.5 678.5,578.5 682.5,578.5 683.5,579.5 687.5,579.5 688.5,580.5 689.5,580.5 690.5,581.5 692.5,581.5 693.5,580.5 697.5,580.5 698.5,581.5 703.5,581.5 708.5,581.5 713.5,581.5 718.5,581.5 722.5,581.5 723.5,579.5 728.5,579.5 733.5,579.5 737.5,579.5 738.5,578.5 742.5,578.5 743.5,577.5 747.5,577.5 748.5,578.5 752.5,578.5 753.5,577.5 758.5,577.5 763.5,577.5 768.5,577.5 773.5,577.5 778.5,577.5 783.5,577.5 788.5,577.5 792.5,577.5 793.5,576.5 798.5,576.5 803.5,576.5 808.5,576.5 810.5,576.5 813.5,576.5 818.5,576.5 823.5,576.5 828.5,576.5 833.5,576.5 838.5,576.5 839.5,576.5 840.5,577.5 843.5,577.5 847.5,577.5 848.5,578.5 853.5,578.5 858.5,578.5 863.5,578.5 867.5,578.5 868.5,577.5 873.5,577.5 878.5,577.5 879.5,577.5 880.5,579.5 883.5,579.5 888.5,579.5 893.5,579.5 898.5,579.5 899.5,579.5 900.5,580.5 902.5,580.5 903.5,582.5 907.5,582.5 908.5,580.5 913.5,580.5 918.5,580.5 923.5,580.5 927.5,580.5 928.5,579.5 933.5,579.5 938.5,579.5 939.5,579.5 940.5,580.5 942.5,580.5 943.5,579.5 948.5,579.5 953.5,579.5 957.5,579.5 958.5,578.5 963.5,578.5 968.5,578.5 973.5,578.5 977.5,578.5 978.5,580.5 983.5,580.5 988.5,580.5 993.5,580.5 998.5,580.5 1003.5,580.5" fill="none" stroke="#990099" stroke-width="1"/>
<polyline points="18.5,580.5 22.5,580.5 23.5,579.5 28.5,579.5 32.5,579.5 33.5,581.5 38.5,581.5 42.5,581.5 43.5,582.5 48.5,582.5 53.5,582.5 55.5,582.5 58.5,582.5 59.5,582.5 60.5,581.5 63.5,581.5 67.5,581.5 68.5,582.5 70.5,582.5 71.5,582.5 72.5,570.5 72.5,570.5 73.5,568.5 77.5,568.5 78.5,563.5 80.5,563.5 82.5,563.5 83.5,562.5 88.5,562.5 93.5,562.5 97.5,562.5 98.5,561.5 103.5,561.5 108.5,561.5 113.5,561.5 117.5,561.5 118.5,562.5 123.5,562.5 128.5,562.5 132.5,562.5 133.5,561.5 138.5,561.5 143.5,561.5 147.5,561.5 148.5,560.5 153.5,560.5 158.5,560.5 159.5,560.5 160.5,561.5 162.5,561.5 163.5,560.5 164.5,560.5 165.5,571.5 168.5,571.5 173.5,571.5 178.5,571.5 183.5,571.5 188.5,571.5 192.5,571.5 193.5,572.5 198.5,572.5 203.5,572.5 208.5,572.5 213.5,572.5 218.5,572.5 220.5,572.5 222.5,572.5 223.5,573.5 224.5,573.5 225.5,574.5 228.5,574.5 233.5,574.5 237.5,574.5 238.5,575.5 242.5,575.5 243.5,576.5 247.5,576.5 248.5,577.5 253.5,577.5 258.5,577.5 263.5,577.5 268.5,577.5 273.5,577.5 277.5,577.5 278.5,578.5 283.5,578.5 288.5,578.5 289.5,578.5 290.5,579.5 293.5,579.5 297.5,579.5 298.5,580.5 300.5,580.5 303.5,580.5 307.5,580.5 308.5,579.5 313.5,579.5 318.5,579.5 323.5,579.5 328.5,579.5 333.5,579.5 338.5,579.5 342.5,579.5 343.5,578.5 348.5,578.5 353.5,578.5 358.5,578.5 362.5,578.5 363.5,577.5 367.5,577.5 368.5,578.5 372.5,578.5 373.5,579.5 377.5,579.5 378.5,580.5 383.5,580.5 388.5,580.5 393.5,580.5 398.5,580.5 403.5,580.5 408.5,580.5 413.5,580.5 418.5,580.5 423.5,580.5 428.5,580.5 433.5,580.5 437.5,580.5 438.5,579.5 443.5,579.5 447.5,579.5 448.5,581.5 453.5,581.5 458.5,581.5 462.5,581.5 463.5,580.5 467.5,580.5 468.5,581.5 472.5,581.5 473.5,580.5 478.5,580.5 483.5,580.5 488.5,580.5 492.5,580.5 493.5,579.5 497.5,579.5 498.5,578.5 502.5,578.5 503.5,577.5 508.5,577.5 511.5,577.5 512.5,578.5 513.5,578.5 518.5,578.5 522.5,578.5 523.5,577.5 527.5,577.5 528.5,578.5 532.5,578.5 533.5,579.5 538.5,579.5 539.5,579.5 540.5,578.5 543.5,578.5 547.5,578.5 548.5,579.5 552.5,579.5 553.5,578.5 558.5,578.5 562.5,578.5 563.5,577.5 568.5,577.5 570.5,577.5 572.5,577.5 573.5,576.5 577.5,576.5 578.5,578.5 583.5,578.5 587.5,578.5 588.5,577.5 593.5,577.5 598.5,577.5 602.5,577.5 603.5,576.5 608.5,576.5 613.5,576.5 614.5,576.5 615.5,574.5 617.5,574.5 618.5,573.5 623.5,573.5 628.5,573.5 632.5,573.5 633.5,574.5 638.5,574.5 642.5,574.5 643.5,573.5 648.5,573.5 653.5,573.5 658.5,573.5 660.5,573.5 662.5,573.5 663.5,575.5 667.5,575.5 668.5,576.5 672.5,576.5 673.5,577.5 677.5,577.5 678.5,576.5 683.5,576.5 687.5,576.5 688.5,577.5 690.5,577.5 693.5,577.5 698.5,577.5 702.5,577.5 703.5,578.5 707.5,578.5 708.5,577.5 712.5,577.5 713.5,578.5 717.5,578.5 718.5,577.5 723.5,577.5 727.5,577.5 728.5,578.5 732.5,578.5 733.5,577.5 738.5,577.5 743.5,577.5 747.5,577.5 748.5,579.5 752.5,579.5 753.5,581.5 757.5,581.5 758.5,580.5 763.5,580.5 768.5,580.5 773.5,580.5 778.5,580.5 783.5,580.5 788.5,580.5 792.5,580.5 793.5,579.5 798.5,579.5 803.5,579.5 808.5,579.5 810.5,579.5 813.5,579.5 818.5,579.5 823.5,579.5 828.5,579.5 833.5,579.5 838.5,579.5 840.5,579.5 842.5,579.5 843.5,580.5 848.5,580.5 853.5,580.5 858.5,580.5 863.5,580.5 868.5,580.5 873.5,580.5 877.5,580.5 878.5,581.5 879.5,581.5 880.5,582.5 883.5,582.5 888.5,582.5 892.5,582.5 893.5,580.5 898.5,580.5 900.5,580.5 902.5,580.5 903.5,579.5 908.5,579.5 913.5,579.5 918.5,579.5 922.5,579.5 923.5,578.5 928.5,578.5 932.5,578.5 933.5,579.5 938.5,579.5 940.5,579.5 943.5,579.5 948.5,579.5 952.5,579.5 953.5,578.5 957.5,578.5 958.5,579.5 962.5,579.5 963.5,580.5 968.5,580.5 972.5,580.5 973.5,578.5 977.5,578.5 978.5,577.5 983.5,577.5 988.5,577.5 993.5,577.5 997.5,577.5 998.5,578.5 1003.5,578.5" fill="none" stroke="#d2691e" stroke-width="1"/>
<polyline points="18.5,583.5 22.5,583.5 23.5,581.5 28.5,581.5 33.5,581.5 38.5,581.5 42.5,581.5 43.5,583.5 48.5,583.5 52.5,583.5 53.5,584.5 54.5,584.5 55.5,583.5 57.5,583.5 58.5,582.5 60.5,582.5 62.5,582.5 63.5,581.5 67.5,581.5 68.5,582.5 70.5,582.5 71.5,582.5 72.5,571.5 72.5,571.5 73.5,570.5 77.5,570.5 78.5,566.5 79.5,566.5 80.5,564.5 83.5,564.5 88.5,564.5 92.5,564.5 93.5,563.5 98.5,563.5 103.5,563.5 107.5,563.5 108.5,565.5 112.5,565.5 113.5,563.5 117.5,563.5 118.5,562.5 122.5,562.5 123.5,561.5 128.5,561.5 132.5,561.5 133.5,562.5 138.5,562.5 143.5,562.5 148.5,562.5 153.5,562.5 157.5,562.5 158.5,563.5 160.5,563.5 162.5,563.5 163.5,562.5 164.5,562.5 165.5,573.5 168.5,573.5 173.5,573.5 177.5,573.5 178.5,574.5 183.5,574.5 188.5,574.5 193.5,574.5 198.5,574.5 203.5,574.5 208.5,574.5 213.5,574.5 218.5,574.5 220.5,574.5 222.5,574.5 223.5,577.5 225.5,577.5 228.5,577.5 232.5,577.5 233.5,578.5 237.5,578.5 238.5,579.5 243.5,579.5 248.5,579.5 252.5,579.5 253.5,580.5 258.5,580.5 263.5,580.5 267.5,580.5 268.5,581.5 272.5,581.5 273.5,579.5 278.5,579.5 282.5,579.5 283.5,581.5 287.5,581.5 288.5,582.5 289.5,582.5 290.5,581.5 292.5,581.5 293.5,583.5 297.5,583.5 298.5,585.5 299.5,585.5 300.5,584.5 302.5,584.5 303.5,586.5 307.5,586.5 308.5,584.5 312.5,584.5 313.5,583.5 318.5,583.5 322.5,583.5 323.5,582.5 328.5,582.5 333.5,582.5 337.5,582.5 338.5,583.5 342.5,583.5 343.5,581.5 348.5,581.5 353.5,581.5 357.5,581.5 358.5,580.5 363.5,580.5 367.5,580.5 368.5,581.5 372.5,581.5 373.5,580.5 378.5,580.5 383.5,580.5 388.5,580.5 393.5,580.5 398.5,580.5 403.5,580.5 408.5,580.5 413.5,580.5 418.5,580.5 422.5,580.5 423.5,581.5 428.5,581.5 433.5,581.5 437.5,581.5 438.5,580.5 443.5,580.5 448.5,580.5 453.5,580.5 458.5,580.5 462.5,580.5 463.5,581.5 468.5,581.5 473.5,581.5 478.5,581.5 483.5,581.5 488.5,581.5 493.5,581.5 498.5,581.5 503.5,581.5 507.5,581.5 508.5,580.5 511.5,580.5 512.5,579.5 513.5,579.5 517.5,579.5 518.5,578.5 523.5,578.5 527.5,578.5 528.5,577.5 532.5,577.5 533.5,579.5 538.5,579.5 539.5,579.5 540.5,578.5 542.5,578.5 543.5,579.5 548.5,579.5 553.5,579.5 558.5,579.5 563.5,579.5 567.5,579.5 568.5,578.5 569.5,578.5 570.5,579.5 573.5,579.5 578.5,579.5 583.5,579.5 587.5,579.5 588.5,578.5 593.5,578.5 598.5,578.5 602.5,578.5 603.5,576.5 608.5,576.5 613.5,576.5 615.5,576.5 618.5,576.5 623.5,576.5 628.5,576.5 633.5,576.5 637.5,576.5 638.5,575.5 642.5,575.5 643.5,574.5 648.5,574.5 653.5,574.5 657.5,574.5 658.5,575.5 659.5,575.5 660.5,573.5 662.5,573.5 663.5,574.5 667.5,574.5 668.5,575.5 673.5,575.5 678.5,575.5 682.5,575.5 683.5,576.5 687.5,576.5 688.5,579.5 690.5,579.5 692.5,579.5 693.5,580.5 698.5,580.5 703.5,580.5 708.5,580.5 712.5,580.5 713.5,579.5 718.5,579.5 722.5,579.5 723.5,580.5 728.5,580.5 733.5,580.5 738.5,580.5 743.5,580.5 748.5,580.5 753.5,580.5 757.5,580.5 758.5,581.5 763.5,581.5 768.5,581.5 773.5,581.5 778.5,581.5 783.5,581.5 788.5,581.5 792.5,581.5 793.5,580.5 798.5,580.5 803.5,580.5 808.5,580.5 810.5,580.5 813.5,580.5 818.5,580.5 823.5,580.5 828.5,580.5 833.5,580.5 837.5,580.5 838.5,579.5 839.5,579.5 840.5,580.5 842.5,580.5 843.5,578.5 847.5,578.5 848.5,577.5 853.5,577.5 858.5,577.5 862.5,577.5 863.5,578.5 867.5,578.5 868.5,580.5 873.5,580.5 878.5,580.5 880.5,580.5 883.5,580.5 887.5,580.5 888.5,579.5 893.5,579.5 897.5,579.5 898.5,578.5 899.5,578.5 900.5,577.5 902.5,577.5 903.5,578.5 908.5,578.5 913.5,578.5 917.5,578.5 918.5,579.5 923.5,579.5 928.5,579.5 932.5,579.5 933.5,578.5 937.5,578.5 938.5,580.5 939.5,580.5 940.5,579.5 942.5,579.5 943.5,578.5 947.5,578.5 948.5,579.5 953.5,579.5 958.5,579.5 963.5,579.5 968.5,579.5 972.5,579.5 973.5,580.5 978.5,580.5 983.5,580.5 988.5,580.5 993.5,580.5 998.5,580.5 1002.5,580.5 1003.5,581.5" fill="none" stroke="#000040" stroke-width="1"/>
<polyline points="18.5,582.5 23.5,582.5 28.5,582.5 33.5,582.5 37.5,582.5 38.5,583.5 43.5,583.5 48.5,583.5 53.5,583.5 55.5,583.5 57.5,583.5 58.5,582.5 60.5,582.5 62.5,582.5 63.5,581.5 68.5,581.5 70.5,581.5 71.5,581.5 72.5,569.5 72.5,569.5 73.5,568.5 77.5,568.5 78.5,564.5 79.5,564.5 80.5,562.5 83.5,562.5 88.5,562.5 93.5,562.5 97.5,562.5 98.5,561.5 103.5,561.5 107.5,561.5 108.5,562.5 113.5,562.5 118.5,562.5 122.5,562.5 123.5,561.5 127.5,561.5 128.5,562.5 133.5,562.5 138.5,562.5 143.5,562.5 148.5,562.5 153.5,562.5 158.5,562.5 159.5,562.5 160.5,563.5 162.5,563.5 163.5,562.5 164.5,562.5 165.5,573.5 168.5,573.5 172.5,573.5 173.5,572.5 177.5,572.5 178.5,573.5 182.5,573.5 183.5,572.5 188.5,572.5 192.5,572.5 193.5,573.5 198.5,573.5 203.5,573.5 208.5,573.5 213.5,573.5 218.5,573.5 220.5,573.5 222.5,573.5 223.5,574.5 225.5,574.5 227.5,574.5 228.5,575.5 233.5,575.5 238.5,575.5 242.5,575.5 243.5,576.5 248.5,576.5 253.5,576.5 258.5,576.5 263.5,576.5 267.5,576.5 268.5,577.5 272.5,577.5 273.5,578.5 277.5,578.5 278.5,580.5 282.5,580.5 283.5,579.5 288.5,579.5 290.5,579.5 292.5,579.5 293.5,580.5 297.5,580.5 298.5,581.5 299.5,581.5 300.5,580.5 302.5,580.5 303.5,581.5 308.5,581.5 313.5,581.5 318.5,581.5 323.5,581.5 328.5,581.5 333.5,581.5 338.5,581.5 343.5,581.5 348.5,581.5 353.5,581.5 358.5,581.5 363.5,581.5 367.5,581.5 368.5,582.5 372.5,582.5 373.5,581.5 377.5,581.5 378.5,580.5 383.5,580.5 388.5,580.5 392.5,580.5 393.5,578.5 397.5,578.5 398.5,579.5 402.5,579.5 403.5,581.5 407.5,581.5 408.5,583.5 412.5,583.5 413.5,582.5 418.5,582.5 423.5,582.5 428.5,582.5 433.5,582.5 437.5,582.5 438.5,581.5 443.5,581.5 447.5,581.5 448.5,583.5 452.5,583.5 453.5,582.5 457.5,582.5 458.5,581.5 463.5,581.5 468.5,581.5 473.5,581.5 478.5,581.5 483.5,581.5 488.5,581.5 492.5,581.5 493.5,582.5 497.5,582.5 498.5,583.5 502.5,583.5 503.5,582.5 507.5,582.5 508.5,583.5 511.5,583.5 512.5,582.5 512.5,582.5 513.5,584.5 517.5,584.5 518.5,583.5 522.5,583.5 523.5,584.5 527.5,584.5 528.5,583.5 532.5,583.5 533.5,582.5 537.5,582.5 538.5,581.5 540.5,581.5 543.5,581.5 547.5,581.5 548.5,580.5 553.5,580.5 558.5,580.5 563.5,580.5 568.5,580.5 570.5,580.5 573.5,580.5 578.5,580.5 583.5,580.5 587.5,580.5 588.5,579.5 592.5,579.5 593.5,580.5 597.5,580.5 598.5,579.5 603.5,579.5 608.5,579.5 612.5,579.5 613.5,578.5 615.5,578.5 618.5,578.5 623.5,578.5 628.5,578.5 633.5,578.5 638.5,578.5 643.5,578.5 648.5,578.5 653.5,578.5 658.5,578.5 659.5,578.5 660.5,579.5 663.5,579.5 668.5,579.5 672.5,579.5 673.5,580.5 678.5,580.5 682.5,580.5 683.5,582.5 688.5,582.5 689.5,582.5 690.5,580.5 693.5,580.5 698.5,580.5 703.5,580.5 707.5,580.5 708.5,581.5 712.5,581.5 713.5,580.5 717.5,580.5 718.5,581.5 723.5,581.5 727.5,581.5 728.5,582.5 732.5,582.5 733.5,581.5 737.5,581.5 738.5,580.5 742.5,580.5 743.5,582.5 747.5,582.5 748.5,581.5 752.5,581.5 753.5,580.5 758.5,580.5 762.5,580.5 763.5,581.5 768.5,581.5 773.5,581.5 777.5,581.5 778.5,579.5 783.5,579.5 787.5,579.5 788.5,578.5 792.5,578.5 793.5,579.5 798.5,579.5 802.5,579.5 803.5,581.5 807.5,581.5 808.5,580.5 809.5,580.5 810.5,581.5 813.5,581.5 818.5,581.5 823.5,581.5 827.5,581.5 828.5,582.5 832.5,582.5 833.5,581.5 837.5,581.5 838.5,582.5 839.5,582.5 840.5,583.5 843.5,583.5 848.5,583.5 853.5,583.5 857.5,583.5 858.5,584.5 862.5,584.5 863.5,583.5 868.5,583.5 873.5,583.5 878.5,583.5 880.5,583.5 883.5,583.5 888.5,583.5 893.5,583.5 898.5,583.5 900.5,583.5 903.5,583.5 907.5,583.5 908.5,584.5 913.5,584.5 917.5,584.5 918.5,582.5 923.5,582.5 928.5,582.5 933.5,582.5 938.5,582.5 940.5,582.5 942.5,582.5 943.5,583.5 948.5,583.5 953.5,583.5 957.5,583.5 958.5,582.5 963.5,582.5 968.5,582.5 972.5,582.5 973.5,581.5 978.5,581.5 983.5,581.5 988.5,581.5 992.5,581.5 993.5,580.5 998.5,580.5 1003.5,580.5" fill="none" stroke="#6b8e23" stroke-width="1"/>
<polyline points="18.5,582.5 23.5,582.5 28.5,582.5 33.5,582.5 38.5,582.5 43.5,582.5 48.5,582.5 53.5,582.5 55.5,582.5 57.5,582.5 58.5,581.5 59.5,581.5 60.5,582.5 62.5,582.5 63.5,581.5 67.5,581.5 68.5,580.5 70.5,580.5 71.5,580.5 72.5,569.5 72.5,569.5 73.5,568.5 77.5,568.5 78.5,564.5 79.5,564.5 80.5,563.5 83.5,563.5 88.5,563.5 93.5,563.5 97.5,563.5 98.5,564.5 103.5,564.5 107.5,564.5 108.5,565.5 113.5,565.5 118.5,565.5 123.5,565.5 127.5,565.5 128.5,564.5 132.5,564.5 133.5,562.5 138.5,562.5 142.5,562.5 143.5,563.5 147.5,563.5 148.5,564.5 153.5,564.5 158.5,564.5 160.5,564.5 163.5,564.5 164.5,564.5 165.5,574.5 168.5,574.5 172.5,574.5 173.5,575.5 177.5,575.5 178.5,573.5 182.5,573.5 183.5,574.5 188.5,574.5 193.5,574.5 198.5,574.5 202.5,574.5 203.5,576.5 207.5,576.5 208.5,577.5 213.5,577.5 218.5,577.5 220.5,577.5 223.5,577.5 224.5,577.5 225.5,579.5 227.5,579.5 228.5,578.5 233.5,578.5 237.5,578.5 238.5,577.5 243.5,577.5 248.5,577.5 252.5,577.5 253.5,579.5 258.5,579.5 263.5,579.5 268.5,579.5 273.5,579.5 278.5,579.5 283.5,579.5 288.5,579.5 290.5,579.5 292.5,579.5 293.5,580.5 298.5,580.5 299.5,580.5 300.5,581.5 303.5,581.5 308.5,581.5 313.5,581.5 317.5,581.5 318.5,579.5 322.5,579.5 323.5,578.5 327.5,578.5 328.5,579.5 333.5,579.5 338.5,579.5 343.5,579.5 348.5,579.5 352.5,579.5 353.5,580.5 358.5,580.5 363.5,580.5 368.5,580.5 373.5,580.5 378.5,580.5 382.5,580.5 383.5,579.5 388.5,579.5 392.5,579.5 393.5,580.5 397.5,580.5 398.5,578.5 402.5,578.5 403.5,579.5 408.5,579.5 413.5,579.5 418.5,579.5 422.5,579.5 423.5,580.5 428.5,580.5 433.5,580.5 438.5,580.5 442.5,580.5 443.5,581.5 448.5,581.5 452.5,581.5 453.5,582.5 458.5,582.5 463.5,582.5 467.5,582.5 468.5,583.5 473.5,583.5 478.5,583.5 483.5,583.5 488.5,583.5 493.5,583.5 497.5,583.5 498.5,582.5 502.5,582.5 503.5,583.5 507.5,583.5 508.5,584.5 512.5,584.5 512.5,584.5 513.5,583.5 517.5,583.5 518.5,584.5 522.5,584.5 523.5,583.5 527.5,583.5 528.5,584.5 532.5,584.5 533.5,585.5 537.5,585.5 538.5,584.5 540.5,584.5 542.5,584.5 543.5,583.5 548.5,583.5 552.5,583.5 553.5,581.5 558.5,581.5 563.5,581.5 568.5,581.5 570.5,581.5 572.5,581.5 573.5,582.5 578.5,582.5 582.5,582.5 583.5,581.5 588.5,581.5 592.5,581.5 593.5,579.5 598.5,579.5 602.5,579.5 603.5,578.5 607.5,578.5 608.5,577.5 613.5,577.5 615.5,577.5 617.5,577.5 618.5,578.5 623.5,578.5 627.5,578.5 628.5,579.5 633.5,579.5 638.5,579.5 643.5,579.5 648.5,579.5 653.5,579.5 658.5,579.5 660.5,579.5 663.5,579.5 667.5,579.5 668.5,580.5 673.5,580.5 677.5,580.5 678.5,581.5 683.5,581.5 687.5,581.5 688.5,582.5 690.5,582.5 692.5,582.5 693.5,583.5 698.5,583.5 703.5,583.5 708.5,583.5 713.5,583.5 718.5,583.5 723.5,583.5 728.5,583.5 732.5,583.5 733.5,582.5 737.5,582.5 738.5,583.5 742.5,583.5 743.5,582.5 748.5,582.5 753.5,582.5 757.5,582.5 758.5,581.5 763.5,581.5 768.5,581.5 773.5,581.5 778.5,581.5 783.5,581.5 787.5,581.5 788.5,582.5 792.5,582.5 793.5,583.5 798.5,583.5 802.5,583.5 803.5,582.5 808.5,582.5 810.5,582.5 812.5,582.5 813.5,583.5 818.5,583.5 822.5,583.5 823.5,581.5 828.5,581.5 833.5,581.5 838.5,581.5 840.5,581.5 843.5,581.5 848.5,581.5 852.5,581.5 853.5,579.5 857.5,579.5 858.5,580.5 862.5,580.5 863.5,581.5 868.5,581.5 873.5,581.5 877.5,581.5 878.5,582.5 880.5,582.5 882.5,582.5 883.5,584.5 888.5,584.5 893.5,584.5 898.5,584.5 899.5,584.5 900.5,583.5 902.5,583.5 903.5,585.5 907.5,585.5 908.5,583.5 913.5,583.5 918.5,583.5 922.5,583.5 923.5,584.5 928.5,584.5 933.5,584.5 938.5,584.5 939.5,584.5 940.5,583.5 943.5,583.5 948.5,583.5 953.5,583.5 957.5,583.5 958.5,584.5 963.5,584.5 968.5,584.5 973.5,584.5 978.5,584.5 982.5,584.5 983.5,583.5 988.5,583.5 993.5,583.5 998.5,583.5 1003.5,583.5" fill="none" stroke="#cc0044" stroke-width="1"/>
<polyline points="18.5,583.5 23.5,583.5 27.5,583.5 28.5,584.5 33.5,584.5 38.5,584.5 43.5,584.5 47.5,584.5 48.5,582.5 52.5,582.5 53.5,583.5 55.5,583.5 58.5,583.5 59.5,583.5 60.5,582.5 62.5,582.5 63.5,581.5 67.5,581.5 68.5,580.5 69.5,580.5 70.5,581.5 71.5,581.5 72.5,569.5 73.5,569.5 77.5,569.5 78.5,565.5 80.5,565.5 83.5,565.5 88.5,565.5 93.5,565.5 98.5,565.5 103.5,565.5 107.5,565.5 108.5,564.5 113.5,564.5 118.5,564.5 122.5,564.5 123.5,565.5 128.5,565.5 133.5,565.5 138.5,565.5 143.5,565.5 147.5,565.5 148.5,567.5 152.5,567.5 153.5,566.5 158.5,566.5 159.5,566.5 160.5,568.5 162.5,568.5 163.5,567.5 164.5,567.5 165.5,576.5 168.5,576.5 172.5,576.5 173.5,575.5 178.5,575.5 183.5,575.5 188.5,575.5 192.5,575.5 193.5,577.5 197.5,577.5 198.5,575.5 203.5,575.5 207.5,575.5 208.5,574.5 213.5,574.5 217.5,574.5 218.5,573.5 219.5,573.5 220.5,572.5 222.5,572.5 223.5,573.5 224.5,573.5 225.5,575.5 228.5,575.5 232.5,575.5 233.5,577.5 238.5,577.5 242.5,577.5 243.5,578.5 248.5,578.5 253.5,578.5 257.5,578.5 258.5,579.5 262.5,579.5 263.5,581.5 268.5,581.5 273.5,581.5 278.5,581.5 283.5,581.5 288.5,581.5 290.5,581.5 292.5,581.5 293.5,582.5 297.5,582.5 298.5,583.5 300.5,583.5 303.5,583.5 307.5,583.5 308.5,581.5 313.5,581.5 318.5,581.5 323.5,581.5 327.5,581.5 328.5,580.5 333.5,580.5 337.5,580.5 338.5,581.5 342.5,581.5 343.5,580.5 348.5,580.5 353.5,580.5 358.5,580.5 363.5,580.5 368.5,580.5 372.5,580.5 373.5,579.5 378.5,579.5 382.5,579.5 383.5,580.5 387.5,580.5 388.5,581.5 393.5,581.5 398.5,581.5 403.5,581.5 407.5,581.5 408.5,582.5 413.5,582.5 417.5,582.5 418.5,581.5 423.5,581.5 428.5,581.5 432.5,581.5 433.5,580.5 437.5,580.5 438.5,581.5 443.5,581.5 448.5,581.5 453.5,581.5 458.5,581.5 462.5,581.5 463.5,582.5 467.5,582.5 468.5,583.5 473.5,583.5 478.5,583.5 483.5,583.5 488.5,583.5 493.5,583.5 497.5,583.5 498.5,582.5 503.5,582.5 507.5,582.5 508.5,581.5 512.5,581.5 513.5,581.5 517.5,581.5 518.5,580.5 522.5,580.5 523.5,581.5 528.5,581.5 533.5,581.5 537.5,581.5 538.5,580.5 540.5,580.5 542.5,580.5 543.5,581.5 548.5,581.5 552.5,581.5 553.5,580.5 558.5,580.5 562.5,580.5 563.5,579.5 567.5,579.5 568.5,580.5 570.5,580.5 573.5,580.5 577.5,580.5 578.5,581.5 582.5,581.5 583.5,580.5 588.5,580.5 593.5,580.5 598.5,580.5 603.5,580.5 607.5,580.5 608.5,579.5 613.5,579.5 615.5,579.5 618.5,579.5 623.5,579.5 628.5,579.5 633.5,579.5 637.5,579.5 638.5,578.5 642.5,578.5 643.5,577.5 648.5,577.5 653.5,577.5 658.5,577.5 659.5,577.5 660.5,576.5 662.5,576.5 663.5,577.5 667.5,577.5 668.5,578.5 673.5,578.5 677.5,578.5 678.5,579.5 682.5,579.5 683.5,580.5 688.5,580.5 689.5,580.5 690.5,581.5 693.5,581.5 698.5,581.5 703.5,581.5 708.5,581.5 712.5,581.5 713.5,582.5 718.5,582.5 723.5,582.5 728.5,582.5 733.5,582.5 737.5,582.5 738.5,583.5 743.5,583.5 748.5,583.5 753.5,583.5 758.5,583.5 763.5,583.5 768.5,583.5 773.5,583.5 778.5,583.5 783.5,583.5 787.5,583.5 788.5,582.5 793.5,582.5 798.5,582.5 802.5,582.5 803.5,581.5 808.5,581.5 810.5,581.5 812.5,581.5 813.5,582.5 818.5,582.5 823.5,582.5 828.5,582.5 832.5,582.5 833.5,583.5 837.5,583.5 838.5,582.5 840.5,582.5 843.5,582.5 848.5,582.5 853.5,582.5 858.5,582.5 863.5,582.5 868.5,582.5 873.5,582.5 878.5,582.5 880.5,582.5 883.5,582.5 888.5,582.5 893.5,582.5 898.5,582.5 900.5,582.5 903.5,582.5 907.5,582.5 908.5,583.5 913.5,583.5 918.5,583.5 922.5,583.5 923.5,584.5 927.5,584.5 928.5,585.5 932.5,585.5 933.5,586.5 937.5,586.5 938.5,585.5 940.5,585.5 943.5,585.5 948.5,585.5 953.5,585.5 957.5,585.5 958.5,584.5 963.5,584.5 968.5,584.5 973.5,584.5 978.5,584.5 983.5,584.5 988.5,584.5 992.5,584.5 993.5,583.5 998.5,583.5 1003.5,583.5" fill="none" stroke="#55bbff" stroke-width="1"/>
<polyline points="18.5,583.5 22.5,583.5 23.5,584.5 28.5,584.5 32.5,584.5 33.5,583.5 37.5,583.5 38.5,585.5 42.5,585.5 43.5,586.5 48.5,586.5 53.5,586.5 55.5,586.5 57.5,586.5 58.5,585.5 59.5,585.5 60.5,584.5 62.5,584.5 63.5,583.5 68.5,583.5 69.5,583.5 70.5,582.5 71.5,582.5 72.5,571.5 73.5,571.5 77.5,571.5 78.5,567.5 79.5,567.5 80.5,566.5 83.5,566.5 87.5,566.5 88.5,564.5 93.5,564.5 97.5,564.5 98.5,565.5 102.5,565.5 103.5,566.5 107.5,566.5 108.5,565.5 113.5,565.5 118.5,565.5 123.5,565.5 128.5,565.5 133.5,565.5 138.5,565.5 143.5,565.5 148.5,565.5 153.5,565.5 157.5,565.5 158.5,566.5 160.5,566.5 162.5,566.5 163.5,567.5 164.5,567.5 165.5,576.5 168.5,576.5 173.5,576.5 178.5,576.5 182.5,576.5 183.5,575.5 188.5,575.5 193.5,575.5 197.5,575.5 198.5,576.5 202.5,576.5 203.5,575.5 207.5,575.5 208.5,574.5 213.5,574.5 217.5,574.5 218.5,575.5 219.5,575.5 220.5,573.5 222.5,573.5 223.5,574.5 224.5,574.5 225.5,575.5 228.5,575.5 233.5,575.5 237.5,575.5 238.5,576.5 243.5,576.5 247.5,576.5 248.5,578.5 253.5,578.5 258.5,578.5 262.5,578.5 263.5,579.5 267.5,579.5 268.5,580.5 273.5,580.5 278.5,580.5 283.5,580.5 287.5,580.5 288.5,581.5 289.5,581.5 290.5,580.5 293.5,580.5 297.5,580.5 298.5,582.5 300.5,582.5 302.5,582.5 303.5,581.5 308.5,581.5 313.5,581.5 318.5,581.5 323.5,581.5 327.5,581.5 328.5,580.5 333.5,580.5 338.5,580.5 342.5,580.5 343.5,582.5 347.5,582.5 348.5,583.5 352.5,583.5 353.5,584.5 358.5,584.5 362.5,584.5 363.5,583.5 368.5,583.5 373.5,583.5 378.5,583.5 382.5,583.5 383.5,582.5 388.5,582.5 392.5,582.5 393.5,583.5 398.5,583.5 403.5,583.5 408.5,583.5 413.5,583.5 418.5,583.5 423.5,583.5 428.5,583.5 433.5,583.5 438.5,583.5 443.5,583.5 448.5,583.5 453.5,583.5 458.5,583.5 463.5,583.5 468.5,583.5 473.5,583.5 478.5,583.5 483.5,583.5 487.5,583.5 488.5,584.5 493.5,584.5 497.5,584.5 498.5,583.5 503.5,583.5 508.5,583.5 511.5,583.5 512.5,584.5 513.5,584.5 518.5,584.5 523.5,584.5 527.5,584.5 528.5,585.5 532.5,585.5 533.5,584.5 538.5,584.5 540.5,584.5 542.5,584.5 543.5,583.5 548.5,583.5 553.5,583.5 558.5,583.5 563.5,583.5 568.5,583.5 570.5,583.5 573.5,583.5 578.5,583.5 583.5,583.5 587.5,583.5 588.5,581.5 593.5,581.5 597.5,581.5 598.5,579.5 603.5,579.5 608.5,579.5 612.5,579.5 613.5,577.5 614.5,577.5 615.5,578.5 618.5,578.5 623.5,578.5 628.5,578.5 632.5,578.5 633.5,579.5 637.5,579.5 638.5,580.5 643.5,580.5 648.5,580.5 652.5,580.5 653.5,579.5 657.5,579.5 658.5,580.5 660.5,580.5 663.5,580.5 668.5,580.5 673.5,580.5 677.5,580.5 678.5,581.5 683.5,581.5 687.5,581.5 688.5,582.5 689.5,582.5 690.5,584.5 693.5,584.5 697.5,584.5 698.5,582.5 703.5,582.5 707.5,582.5 708.5,581.5 712.5,581.5 713.5,582.5 718.5,582.5 723.5,582.5 727.5,582.5 728.5,583.5 733.5,583.5 738.5,583.5 742.5,583.5 743.5,585.5 748.5,585.5 753.5,585.5 757.5,585.5 758.5,584.5 763.5,584.5 768.5,584.5 773.5,584.5 778.5,584.5 783.5,584.5 787.5,584.5 788.5,583.5 792.5,583.5 793.5,582.5 798.5,582.5 802.5,582.5 803.5,584.5 808.5,584.5 810.5,584.5 813.5,584.5 818.5,584.5 823.5,584.5 828.5,584.5 833.5,584.5 837.5,584.5 838.5,583.5 839.5,583.5 840.5,582.5 843.5,582.5 848.5,582.5 853.5,582.5 858.5,582.5 862.5,582.5 863.5,581.5 868.5,581.5 873.5,581.5 878.5,581.5 879.5,581.5 880.5,582.5 882.5,582.5 883.5,583.5 888.5,583.5 892.5,583.5 893.5,584.5 898.5,584.5 900.5,584.5 903.5,584.5 907.5,584.5 908.5,585.5 913.5,585.5 918.5,585.5 922.5,585.5 923.5,583.5 928.5,583.5 933.5,583.5 937.5,583.5 938.5,584.5 940.5,584.5 943.5,584.5 948.5,584.5 953.5,584.5 958.5,584.5 962.5,584.5 963.5,583.5 967.5,583.5 968.5,585.5 973.5,585.5 977.5,585.5 978.5,584.5 983.5,584.5 987.5,584.5 988.5,585.5 992.5,585.5 993.5,586.5 997.5,586.5 998.5,587.5 1003.5,587.5" fill="none" stroke="#c0a0e0" stroke-width="1"/>
<polyline points="18.5,584.5 23.5,584.5 27.5,584.5 28.5,582.5 32.5,582.5 33.5,584.5 38.5,584.5 43.5,584.5 48.5,584.5 52.5,584.5 53.5,585.5 55.5,585.5 57.5,585.5 58.5,584.5 60.5,584.5 62.5,584.5 63.5,585.5 68.5,585.5 70.5,585.5 71.5,585.5 72.5,574.5 73.5,574.5 77.5,574.5 78.5,570.5 79.5,570.5 80.5,567.5 83.5,567.5 88.5,567.5 93.5,567.5 97.5,567.5 98.5,565.5 102.5,565.5 103.5,566.5 108.5,566.5 113.5,566.5 118.5,566.5 122.5,566.5 123.5,565.5 128.5,565.5 133.5,565.5 138.5,565.5 142.5,565.5 143.5,566.5 148.5,566.5 152.5,566.5 153.5,565.5 158.5,565.5 159.5,565.5 160.5,566.5 162.5,566.5 163.5,565.5 164.5,565.5 165.5,574.5 168.5,574.5 172.5,574.5 173.5,573.5 177.5,573.5 178.5,574.5 182.5,574.5 183.5,576.5 187.5,576.5 188.5,575.5 192.5,575.5 193.5,573.5 197.5,573.5 198.5,575.5 203.5,575.5 207.5,575.5 208.5,577.5 213.5,577.5 217.5,577.5 218.5,578.5 219.5,578.5 220.5,577.5 222.5,577.5 223.5,580.5 225.5,580.5 227.5,580.5 228.5,579.5 233.5,579.5 238.5,579.5 243.5,579.5 247.5,579.5 248.5,580.5 253.5,580.5 258.5,580.5 262.5,580.5 263.5,578.5 267.5,578.5 268.5,579.5 273.5,579.5 278.5,579.5 283.5,579.5 288.5,579.5 290.5,579.5 292.5,579.5 293.5,580.5 297.5,580.5 298.5,581.5 299.5,581.5 300.5,582.5 303.5,582.5 308.5,582.5 313.5,582.5 318.5,582.5 323.5,582.5 328.5,582.5 332.5,582.5 333.5,583.5 338.5,583.5 343.5,583.5 348.5,583.5 353.5,583.5 358.5,583.5 362.5,583.5 363.5,584.5 368.5,584.5 373.5,584.5 377.5,584.5 378.5,583.5 383.5,583.5 388.5,583.5 393.5,583.5 398.5,583.5 403.5,583.5 408.5,583.5 412.5,583.5 413.5,582.5 418.5,582.5 423.5,582.5 428.5,582.5 433.5,582.5 437.5,582.5 438.5,583.5 443.5,583.5 448.5,583.5 453.5,583.5 458.5,583.5 463.5,583.5 468.5,583.5 473.5,583.5 477.5,583.5 478.5,584.5 483.5,584.5 488.5,584.5 493.5,584.5 498.5,584.5 503.5,584.5 507.5,584.5 508.5,583.5 511.5,583.5 512.5,584.5 512.5,584.5 513.5,585.5 517.5,585.5 518.5,586.5 522.5,586.5 523.5,584.5 527.5,584.5 528.5,582.5 532.5,582.5 533.5,581.5 537.5,581.5 538.5,580.5 540.5,580.5 543.5,580.5 548.5,580.5 552.5,580.5 553.5,581.5 558.5,581.5 563.5,581.5 567.5,581.5 568.5,582.5 569.5,582.5 570.5,583.5 573.5,583.5 578.5,583.5 583.5,583.5 587.5,583.5 588.5,584.5 593.5,584.5 597.5,584.5 598.5,582.5 603.5,582.5 607.5,582.5 608.5,581.5 613.5,581.5 615.5,581.5 618.5,581.5 623.5,581.5 628.5,581.5 632.5,581.5 633.5,580.5 637.5,580.5 638.5,581.5 643.5,581.5 648.5,581.5 653.5,581.5 657.5,581.5 658.5,583.5 659.5,583.5 660.5,582.5 662.5,582.5 663.5,581.5 668.5,581.5 672.5,581.5 673.5,583.5 677.5,583.5 678.5,582.5 682.5,582.5 683.5,583.5 687.5,583.5 688.5,584.5 690.5,584.5 692.5,584.5 693.5,585.5 698.5,585.5 702.5,585.5 703.5,584.5 708.5,584.5 712.5,584.5 713.5,585.5 717.5,585.5 718.5,583.5 722.5,583.5 723.5,584.5 728.5,584.5 732.5,584.5 733.5,583.5 737.5,583.5 738.5,584.5 743.5,584.5 747.5,584.5 748.5,585.5 753.5,585.5 758.5,585.5 762.5,585.5 763.5,587.5 767.5,587.5 768.5,586.5 772.5,586.5 773.5,585.5 778.5,585.5 782.5,585.5 783.5,584.5 788.5,584.5 793.5,584.5 798.5,584.5 803.5,584.5 808.5,584.5 809.5,584.5 810.5,585.5 813.5,585.5 818.5,585.5 823.5,585.5 828.5,585.5 833.5,585.5 838.5,585.5 840.5,585.5 843.5,585.5 848.5,585.5 852.5,585.5 853.5,583.5 858.5,583.5 863.5,583.5 868.5,583.5 872.5,583.5 873.5,585.5 878.5,585.5 880.5,585.5 883.5,585.5 888.5,585.5 892.5,585.5 893.5,587.5 898.5,587.5 899.5,587.5 900.5,586.5 903.5,586.5 908.5,586.5 913.5,586.5 917.5,586.5 918.5,585.5 922.5,585.5 923.5,584.5 927.5,584.5 928.5,585.5 932.5,585.5 933.5,586.5 938.5,586.5 939.5,586.5 940.5,588.5 943.5,588.5 948.5,588.5 953.5,588.5 957.5,588.5 958.5,586.5 963.5,586.5 967.5,586.5 968.5,585.5 973.5,585.5 978.5,585.5 983.5,585.5 987.5,585.5 988.5,586.5 992.5,586.5 993.5,585.5 997.5,585.5 998.5,584.5 1003.5,584.5" fill="none" stroke="#ff4040" stroke-width="1"/>
<polyline points="18.5,584.5 22.5,584.5 23.5,585.5 27.5,585.5 28.5,587.5 33.5,587.5 38.5,587.5 42.5,587.5 43.5,586.5 48.5,586.5 52.5,586.5 53.5,587.5 55.5,587.5 57.5,587.5 58.5,588.5 59.5,588.5 60.5,587.5 63.5,587.5 67.5,587.5 68.5,586.5 69.5,586.5 70.5,585.5 71.5,585.5 72.5,575.5 72.5,575.5 73.5,576.5 77.5,576.5 78.5,571.5 79.5,571.5 80.5,570.5 83.5,570.5 87.5,570.5 88.5,569.5 92.5,569.5 93.5,568.5 97.5,568.5 98.5,567.5 103.5,567.5 108.5,567.5 112.5,567.5 113.5,568.5 118.5,568.5 123.5,568.5 128.5,568.5 133.5,568.5 138.5,568.5 143.5,568.5 148.5,568.5 153.5,568.5 158.5,568.5 160.5,568.5 163.5,568.5 164.5,568.5 165.5,575.5 168.5,575.5 172.5,575.5 173.5,576.5 178.5,576.5 182.5,576.5 183.5,577.5 187.5,577.5 188.5,578.5 193.5,578.5 197.5,578.5 198.5,576.5 202.5,576.5 203.5,575.5 207.5,575.5 208.5,577.5 213.5,577.5 217.5,577.5 218.5,578.5 220.5,578.5 223.5,578.5 224.5,578.5 225.5,579.5 228.5,579.5 233.5,579.5 238.5,579.5 243.5,579.5 248.5,579.5 253.5,579.5 258.5,579.5 262.5,579.5 263.5,580.5 268.5,580.5 273.5,580.5 277.5,580.5 278.5,581.5 283.5,581.5 288.5,581.5 289.5,581.5 290.5,582.5 293.5,582.5 297.5,582.5 298.5,583.5 300.5,583.5 303.5,583.5 308.5,583.5 313.5,583.5 318.5,583.5 322.5,583.5 323.5,584.5 328.5,584.5 333.5,584.5 338.5,584.5 343.5,584.5 347.5,584.5 348.5,583.5 353.5,583.5 357.5,583.5 358.5,584.5 363.5,584.5 368.5,584.5 372.5,584.5 373.5,583.5 378.5,583.5 382.5,583.5 383.5,582.5 388.5,582.5 393.5,582.5 398.5,582.5 402.5,582.5 403.5,583.5 408.5,583.5 413.5,583.5 417.5,583.5 418.5,584.5 423.5,584.5 428.5,584.5 433.5,584.5 438.5,584.5 443.5,584.5 448.5,584.5 453.5,584.5 458.5,584.5 463.5,584.5 468.5,584.5 473.5,584.5 477.5,584.5 478.5,585.5 483.5,585.5 487.5,585.5 488.5,587.5 493.5,587.5 497.5,587.5 498.5,586.5 503.5,586.5 507.5,586.5 508.5,585.5 511.5,585.5 512.5,584.5 513.5,584.5 518.5,584.5 523.5,584.5 527.5,584.5 528.5,583.5 532.5,583.5 533.5,584.5 538.5,584.5 539.5,584.5 540.5,583.5 543.5,583.5 548.5,583.5 553.5,583.5 557.5,583.5 558.5,585.5 562.5,585.5 563.5,584.5 568.5,584.5 570.5,584.5 573.5,584.5 578.5,584.5 583.5,584.5 587.5,584.5 588.5,585.5 592.5,585.5 593.5,584.5 598.5,584.5 603.5,584.5 607.5,584.5 608.5,583.5 612.5,583.5 613.5,585.5 614.5,585.5 615.5,584.5 618.5,584.5 623.5,584.5 628.5,584.5 633.5,584.5 637.5,584.5 638.5,583.5 643.5,583.5 648.5,583.5 653.5,583.5 657.5,583.5 658.5,584.5 660.5,584.5 663.5,584.5 668.5,584.5 672.5,584.5 673.5,582.5 677.5,582.5 678.5,583.5 682.5,583.5 683.5,584.5 688.5,584.5 690.5,584.5 693.5,584.5 698.5,584.5 703.5,584.5 707.5,584.5 708.5,583.5 713.5,583.5 718.5,583.5 722.5,583.5 723.5,584.5 727.5,584.5 728.5,582.5 733.5,582.5 738.5,582.5 743.5,582.5 747.5,582.5 748.5,581.5 753.5,581.5 757.5,581.5 758.5,582.5 763.5,582.5 768.5,582.5 773.5,582.5 777.5,582.5 778.5,583.5 782.5,583.5 783.5,584.5 788.5,584.5 792.5,584.5 793.5,585.5 798.5,585.5 802.5,585.5 803.5,587.5 807.5,587.5 808.5,588.5 810.5,588.5 812.5,588.5 813.5,587.5 817.5,587.5 818.5,588.5 823.5,588.5 827.5,588.5 828.5,587.5 833.5,587.5 838.5,587.5 839.5,587.5 840.5,588.5 842.5,588.5 843.5,587.5 848.5,587.5 853.5,587.5 857.5,587.5 858.5,586.5 862.5,586.5 863.5,587.5 868.5,587.5 872.5,587.5 873.5,586.5 878.5,586.5 880.5,586.5 883.5,586.5 888.5,586.5 892.5,586.5 893.5,587.5 898.5,587.5 900.5,587.5 903.5,587.5 907.5,587.5 908.5,588.5 912.5,588.5 913.5,586.5 918.5,586.5 923.5,586.5 927.5,586.5 928.5,585.5 933.5,585.5 938.5,585.5 940.5,585.5 943.5,585.5 948.5,585.5 952.5,585.5 953.5,584.5 958.5,584.5 963.5,584.5 968.5,584.5 973.5,584.5 978.5,584.5 983.5,584.5 988.5,584.5 993.5,584.5 998.5,584.5 1003.5,584.5" fill="none" stroke="#90c020" stroke-width="1"/>
<polyline points="18.5,586.5 23.5,586.5 28.5,586.5 33.5,586.5 38.5,586.5 43.5,586.5 47.5,586.5 48.5,587.5 53.5,587.5 55.5,587.5 58.5,587.5 59.5,587.5 60.5,585.5 63.5,585.5 67.5,585.5 68.5,584.5 69.5,584.5 70.5,586.5 71.5,586.5 72.5,576.5 72.5,576.5 73.5,575.5 77.5,575.5 78.5,572.5 79.5,572.5 80.5,570.5 82.5,570.5 83.5,571.5 87.5,571.5 88.5,572.5 93.5,572.5 98.5,572.5 103.5,572.5 107.5,572.5 108.5,571.5 113.5,571.5 118.5,571.5 123.5,571.5 128.5,571.5 132.5,571.5 133.5,570.5 137.5,570.5 138.5,568.5 142.5,568.5 143.5,569.5 148.5,569.5 152.5,569.5 153.5,571.5 158.5,571.5 159.5,571.5 160.5,572.5 162.5,572.5 163.5,571.5 164.5,571.5 165.5,578.5 168.5,578.5 173.5,578.5 178.5,578.5 182.5,578.5 183.5,579.5 188.5,579.5 192.5,579.5 193.5,578.5 198.5,578.5 202.5,578.5 203.5,580.5 208.5,580.5 213.5,580.5 218.5,580.5 219.5,580.5 220.5,579.5 223.5,579.5 224.5,579.5 225.5,580.5 228.5,580.5 232.5,580.5 233.5,581.5 237.5,581.5 238.5,580.5 243.5,580.5 248.5,580.5 253.5,580.5 258.5,580.5 262.5,580.5 263.5,581.5 268.5,581.5 273.5,581.5 278.5,581.5 283.5,581.5 288.5,581.5 290.5,581.5 292.5,581.5 293.5,582.5 297.5,582.5 298.5,583.5 299.5,583.5 300.5,584.5 303.5,584.5 308.5,584.5 313.5,584.5 318.5,584.5 322.5,584.5 323.5,582.5 327.5,582.5 328.5,583.5 333.5,583.5 337.5,583.5 338.5,584.5 343.5,584.5 348.5,584.5 353.5,584.5 357.5,584.5 358.5,582.5 363.5,582.5 368.5,582.5 372.5,582.5 373.5,581.5 378.5,581.5 382.5,581.5 383.5,582.5 388.5,582.5 392.5,582.5 393.5,581.5 397.5,581.5 398.5,582.5 403.5,582.5 408.5,582.5 412.5,582.5 413.5,581.5 417.5,581.5 418.5,582.5 423.5,582.5 427.5,582.5 428.5,584.5 432.5,584.5 433.5,585.5 437.5,585.5 438.5,587.5 443.5,587.5 447.5,587.5 448.5,586.5 452.5,586.5 453.5,585.5 458.5,585.5 463.5,585.5 468.5,585.5 473.5,585.5 478.5,585.5 483.5,585.5 488.5,585.5 493.5,585.5 497.5,585.5 498.5,584.5 502.5,584.5 503.5,585.5 508.5,585.5 512.5,585.5 513.5,585.5 518.5,585.5 522.5,585.5 523.5,584.5 528.5,584.5 533.5,584.5 537.5,584.5 538.5,585.5 539.5,585.5 540.5,583.5 542.5,583.5 543.5,581.5 547.5,581.5 548.5,582.5 553.5,582.5 558.5,582.5 563.5,582.5 567.5,582.5 568.5,583.5 570.5,583.5 572.5,583.5 573.5,584.5 578.5,584.5 582.5,584.5 583.5,582.5 587.5,582.5 588.5,581.5 592.5,581.5 593.5,583.5 597.5,583.5 598.5,581.5 602.5,581.5 603.5,580.5 608.5,580.5 613.5,580.5 615.5,580.5 618.5,580.5 623.5,580.5 628.5,580.5 632.5,580.5 633.5,581.5 638.5,581.5 643.5,581.5 648.5,581.5 652.5,581.5 653.5,582.5 658.5,582.5 660.5,582.5 662.5,582.5 663.5,581.5 667.5,581.5 668.5,582.5 672.5,582.5 673.5,584.5 677.5,584.5 678.5,586.5 683.5,586.5 688.5,586.5 690.5,586.5 693.5,586.5 698.5,586.5 702.5,586.5 703.5,588.5 707.5,588.5 708.5,587.5 713.5,587.5 718.5,587.5 723.5,587.5 728.5,587.5 733.5,587.5 738.5,587.5 742.5,587.5 743.5,586.5 748.5,586.5 753.5,586.5 757.5,586.5 758.5,587.5 763.5,587.5 768.5,587.5 772.5,587.5 773.5,588.5 777.5,588.5 778.5,590.5 782.5,590.5 783.5,589.5 788.5,589.5 792.5,589.5 793.5,588.5 798.5,588.5 803.5,588.5 807.5,588.5 808.5,587.5 809.5,587.5 810.5,589.5 812.5,589.5 813.5,588.5 817.5,588.5 818.5,587.5 823.5,587.5 828.5,587.5 833.5,587.5 837.5,587.5 838.5,589.5 839.5,589.5 840.5,587.5 843.5,587.5 847.5,587.5 848.5,586.5 852.5,586.5 853.5,585.5 857.5,585.5 858.5,584.5 863.5,584.5 867.5,584.5 868.5,585.5 873.5,585.5 878.5,585.5 880.5,585.5 883.5,585.5 888.5,585.5 893.5,585.5 898.5,585.5 899.5,585.5 900.5,586.5 902.5,586.5 903.5,587.5 908.5,587.5 913.5,587.5 918.5,587.5 923.5,587.5 928.5,587.5 932.5,587.5 933.5,589.5 938.5,589.5 940.5,589.5 943.5,589.5 947.5,589.5 948.5,588.5 952.5,588.5 953.5,587.5 957.5,587.5 958.5,585.5 963.5,585.5 968.5,585.5 973.5,585.5 978.5,585.5 983.5,585.5 987.5,585.5 988.5,586.5 993.5,586.5 998.5,586.5 1002.5,586.5 1003.5,587.5" fill="none" stroke="#cc33aa" stroke-width="1"/>
<polyline points="18.5,587.5 22.5,587.5 23.5,588.5 27.5,588.5 28.5,589.5 33.5,589.5 38.5,589.5 43.5,589.5 48.5,589.5 52.5,589.5 53.5,590.5 54.5,590.5 55.5,588.5 57.5,588.5 58.5,587.5 60.5,587.5 62.5,587.5 63.5,586.5 68.5,586.5 70.5,586.5 71.5,586.5 72.5,576.5 73.5,576.5 77.5,576.5 78.5,572.5 79.5,572.5 80.5,571.5 83.5,571.5 88.5,571.5 93.5,571.5 98.5,571.5 103.5,571.5 108.5,571.5 113.5,571.5 118.5,571.5 122.5,571.5 123.5,570.5 127.5,570.5 128.5,569.5 133.5,569.5 138.5,569.5 142.5,569.5 143.5,570.5 147.5,570.5 148.5,568.5 153.5,568.5 158.5,568.5 159.5,568.5 160.5,567.5 163.5,567.5 164.5,567.5 165.5,574.5 168.5,574.5 172.5,574.5 173.5,576.5 178.5,576.5 183.5,576.5 188.5,576.5 192.5,576.5 193.5,577.5 197.5,577.5 198.5,578.5 203.5,578.5 207.5,578.5 208.5,579.5 212.5,579.5 213.5,581.5 217.5,581.5 218.5,580.5 220.5,580.5 222.5,580.5 223.5,581.5 225.5,581.5 228.5,581.5 233.5,581.5 237.5,581.5 238.5,582.5 243.5,582.5 248.5,582.5 252.5,582.5 253.5,583.5 258.5,583.5 262.5,583.5 263.5,581.5 267.5,581.5 268.5,582.5 273.5,582.5 278.5,582.5 283.5,582.5 288.5,582.5 290.5,582.5 292.5,582.5 293.5,583.5 297.5,583.5 298.5,585.5 299.5,585.5 300.5,586.5 302.5,586.5 303.5,587.5 308.5,587.5 313.5,587.5 318.5,587.5 322.5,587.5 323.5,586.5 328.5,586.5 333.5,586.5 338.5,586.5 343.5,586.5 347.5,586.5 348.5,585.5 353.5,585.5 357.5,585.5 358.5,587.5 363.5,587.5 367.5,587.5 368.5,586.5 372.5,586.5 373.5,585.5 378.5,585.5 383.5,585.5 388.5,585.5 393.5,585.5 398.5,585.5 403.5,585.5 408.5,585.5 412.5,585.5 413.5,586.5 417.5,586.5 418.5,585.5 422.5,585.5 423.5,586.5 427.5,586.5 428.5,585.5 433.5,585.5 438.5,585.5 442.5,585.5 443.5,586.5 447.5,586.5 448.5,585.5 453.5,585.5 458.5,585.5 463.5,585.5 467.5,585.5 468.5,586.5 472.5,586.5 473.5,585.5 477.5,585.5 478.5,584.5 483.5,584.5 488.5,584.5 493.5,584.5 497.5,584.5 498.5,583.5 503.5,583.5 507.5,583.5 508.5,585.5 511.5,585.5 512.5,584.5 512.5,584.5 513.5,585.5 518.5,585.5 523.5,585.5 527.5,585.5 528.5,584.5 533.5,584.5 537.5,584.5 538.5,583.5 539.5,583.5 540.5,585.5 543.5,585.5 548.5,585.5 552.5,585.5 553.5,584.5 557.5,584.5 558.5,582.5 562.5,582.5 563.5,583.5 568.5,583.5 570.5,583.5 573.5,583.5 578.5,583.5 582.5,583.5 583.5,585.5 587.5,585.5 588.5,586.5 592.5,586.5 593.5,588.5 597.5,588.5 598.5,587.5 603.5,587.5 607.5,587.5 608.5,586.5 612.5,586.5 613.5,585.5 615.5,585.5 618.5,585.5 623.5,585.5 628.5,585.5 633.5,585.5 637.5,585.5 638.5,584.5 642.5,584.5 643.5,583.5 647.5,583.5 648.5,582.5 652.5,582.5 653.5,583.5 658.5,583.5 659.5,583.5 660.5,584.5 663.5,584.5 668.5,584.5 672.5,584.5 673.5,585.5 677.5,585.5 678.5,586.5 683.5,586.5 688.5,586.5 689.5,586.5 690.5,585.5 692.5,585.5 693.5,586.5 697.5,586.5 698.5,588.5 702.5,588.5 703.5,586.5 707.5,586.5 708.5,588.5 712.5,588.5 713.5,587.5 718.5,587.5 722.5,587.5 723.5,588.5 728.5,588.5 733.5,588.5 737.5,588.5 738.5,587.5 743.5,587.5 748.5,587.5 753.5,587.5 758.5,587.5 763.5,587.5 768.5,587.5 773.5,587.5 777.5,587.5 778.5,586.5 783.5,586.5 787.5,586.5 788.5,587.5 793.5,587.5 798.5,587.5 803.5,587.5 808.5,587.5 809.5,587.5 810.5,588.5 813.5,588.5 817.5,588.5 818.5,589.5 823.5,589.5 827.5,589.5 828.5,590.5 832.5,590.5 833.5,589.5 838.5,589.5 839.5,589.5 840.5,591.5 842.5,591.5 843.5,590.5 848.5,590.5 852.5,590.5 853.5,589.5 858.5,589.5 862.5,589.5 863.5,588.5 868.5,588.5 873.5,588.5 877.5,588.5 878.5,587.5 880.5,587.5 883.5,587.5 887.5,587.5 888.5,588.5 893.5,588.5 897.5,588.5 898.5,590.5 899.5,590.5 900.5,588.5 903.5,588.5 907.5,588.5 908.5,586.5 913.5,586.5 918.5,586.5 923.5,586.5 928.5,586.5 932.5,586.5 933.5,587.5 938.5,587.5 939.5,587.5 940.5,585.5 942.5,585.5 943.5,587.5 948.5,587.5 953.5,587.5 957.5,587.5 958.5,586.5 963.5,586.5 968.5,586.5 973.5,586.5 978.5,586.5 982.5,586.5 983.5,585.5 988.5,585.5 993.5,585.5 998.5,585.5 1003.5,585.5" fill="none" stroke="#8899ee" stroke-width="1"/>
<polyline points="18.5,586.5 23.5,586.5 27.5,586.5 28.5,587.5 33.5,587.5 37.5,587.5 38.5,586.5 43.5,586.5 48.5,586.5 52.5,586.5 53.5,587.5 55.5,587.5 58.5,587.5 59.5,587.5 60.5,586.5 63.5,586.5 68.5,586.5 70.5,586.5 71.5,586.5 72.5,576.5 72.5,576.5 73.5,574.5 77.5,574.5 78.5,571.5 79.5,571.5 80.5,570.5 83.5,570.5 88.5,570.5 93.5,570.5 98.5,570.5 103.5,570.5 108.5,570.5 112.5,570.5 113.5,569.5 118.5,569.5 123.5,569.5 127.5,569.5 128.5,570.5 133.5,570.5 138.5,570.5 142.5,570.5 143.5,571.5 148.5,571.5 153.5,571.5 158.5,571.5 159.5,571.5 160.5,572.5 162.5,572.5 163.5,573.5 164.5,573.5 165.5,579.5 167.5,579.5 168.5,578.5 172.5,578.5 173.5,580.5 178.5,580.5 183.5,580.5 187.5,580.5 188.5,579.5 193.5,579.5 198.5,579.5 202.5,579.5 203.5,578.5 208.5,578.5 212.5,578.5 213.5,577.5 218.5,577.5 219.5,577.5 220.5,578.5 222.5,578.5 223.5,579.5 224.5,579.5 225.5,578.5 228.5,578.5 232.5,578.5 233.5,579.5 238.5,579.5 243.5,579.5 248.5,579.5 252.5,579.5 253.5,580.5 258.5,580.5 263.5,580.5 268.5,580.5 272.5,580.5 273.5,581.5 277.5,581.5 278.5,579.5 282.5,579.5 283.5,580.5 288.5,580.5 290.5,580.5 293.5,580.5 297.5,580.5 298.5,582.5 299.5,582.5 300.5,581.5 303.5,581.5 307.5,581.5 308.5,582.5 312.5,582.5 313.5,581.5 317.5,581.5 318.5,582.5 323.5,582.5 328.5,582.5 332.5,582.5 333.5,583.5 338.5,583.5 343.5,583.5 347.5,583.5 348.5,584.5 352.5,584.5 353.5,582.5 358.5,582.5 362.5,582.5 363.5,583.5 368.5,583.5 373.5,583.5 378.5,583.5 382.5,583.5 383.5,585.5 388.5,585.5 392.5,585.5 393.5,586.5 397.5,586.5 398.5,585.5 403.5,585.5 408.5,585.5 413.5,585.5 418.5,585.5 423.5,585.5 427.5,585.5 428.5,587.5 433.5,587.5 437.5,587.5 438.5,586.5 442.5,586.5 443.5,588.5 448.5,588.5 453.5,588.5 457.5,588.5 458.5,589.5 462.5,589.5 463.5,587.5 468.5,587.5 472.5,587.5 473.5,586.5 478.5,586.5 483.5,586.5 487.5,586.5 488.5,587.5 493.5,587.5 497.5,587.5 498.5,585.5 502.5,585.5 503.5,586.5 507.5,586.5 508.5,585.5 512.5,585.5 513.5,585.5 518.5,585.5 523.5,585.5 528.5,585.5 532.5,585.5 533.5,587.5 537.5,587.5 538.5,586.5 539.5,586.5 540.5,587.5 542.5,587.5 543.5,586.5 548.5,586.5 553.5,586.5 557.5,586.5 558.5,587.5 563.5,587.5 567.5,587.5 568.5,586.5 569.5,586.5 570.5,585.5 573.5,585.5 578.5,585.5 583.5,585.5 587.5,585.5 588.5,584.5 592.5,584.5 593.5,585.5 598.5,585.5 603.5,585.5 608.5,585.5 613.5,585.5 615.5,585.5 618.5,585.5 623.5,585.5 628.5,585.5 633.5,585.5 637.5,585.5 638.5,584.5 643.5,584.5 647.5,584.5 648.5,585.5 653.5,585.5 658.5,585.5 659.5,585.5 660.5,584.5 663.5,584.5 667.5,584.5 668.5,585.5 673.5,585.5 677.5,585.5 678.5,584.5 682.5,584.5 683.5,585.5 687.5,585.5 688.5,586.5 690.5,586.5 693.5,586.5 698.5,586.5 702.5,586.5 703.5,587.5 708.5,587.5 713.5,587.5 718.5,587.5 723.5,587.5 727.5,587.5 728.5,589.5 733.5,589.5 738.5,589.5 743.5,589.5 748.5,589.5 753.5,589.5 757.5,589.5 758.5,588.5 763.5,588.5 768.5,588.5 772.5,588.5 773.5,587.5 778.5,587.5 783.5,587.5 788.5,587.5 793.5,587.5 798.5,587.5 803.5,587.5 808.5,587.5 810.5,587.5 812.5,587.5 813.5,586.5 818.5,586.5 823.5,586.5 828.5,586.5 832.5,586.5 833.5,587.5 838.5,587.5 840.5,587.5 843.5,587.5 848.5,587.5 853.5,587.5 857.5,587.5 858.5,588.5 863.5,588.5 868.5,588.5 872.5,588.5 873.5,587.5 878.5,587.5 880.5,587.5 883.5,587.5 887.5,587.5 888.5,588.5 893.5,588.5 898.5,588.5 900.5,588.5 903.5,588.5 908.5,588.5 913.5,588.5 917.5,588.5 918.5,587.5 923.5,587.5 928.5,587.5 933.5,587.5 937.5,587.5 938.5,588.5 940.5,588.5 943.5,588.5 947.5,588.5 948.5,587.5 952.5,587.5 953.5,586.5 957.5,586.5 958.5,585.5 963.5,585.5 968.5,585.5 973.5,585.5 978.5,585.5 982.5,585.5 983.5,587.5 987.5,587.5 988.5,588.5 993.5,588.5 998.5,588.5 1003.5,588.5" fill="none" stroke="#e07030" stroke-width="1"/>
<polyline points="18.5,586.5 22.5,586.5 23.5,587.5 28.5,587.5 33.5,587.5 37.5,587.5 38.5,586.5 42.5,586.5 43.5,587.5 48.5,587.5 52.5,587.5 53.5,589.5 54.5,589.5 55.5,590.5 57.5,590.5 58.5,589.5 60.5,589.5 63.5,589.5 67.5,589.5 68.5,588.5 69.5,588.5 70.5,587.5 71.5,587.5 72.5,577.5 72.5,577.5 73.5,576.5 77.5,576.5 78.5,573.5 79.5,573.5 80.5,572.5 83.5,572.5 88.5,572.5 92.5,572.5 93.5,571.5 98.5,571.5 102.5,571.5 103.5,570.5 107.5,570.5 108.5,572.5 113.5,572.5 118.5,572.5 123.5,572.5 127.5,572.5 128.5,573.5 132.5,573.5 133.5,571.5 138.5,571.5 143.5,571.5 147.5,571.5 148.5,570.5 153.5,570.5 158.5,570.5 160.5,570.5 162.5,570.5 163.5,569.5 164.5,569.5 165.5,574.5 167.5,574.5 168.5,573.5 172.5,573.5 173.5,572.5 177.5,572.5 178.5,574.5 183.5,574.5 188.5,574.5 192.5,574.5 193.5,575.5 198.5,575.5 202.5,575.5 203.5,576.5 208.5,576.5 213.5,576.5 217.5,576.5 218.5,577.5 219.5,577.5 220.5,578.5 222.5,578.5 223.5,579.5 225.5,579.5 227.5,579.5 228.5,580.5 233.5,580.5 237.5,580.5 238.5,581.5 243.5,581.5 248.5,581.5 253.5,581.5 258.5,581.5 263.5,581.5 268.5,581.5 272.5,581.5 273.5,582.5 278.5,582.5 282.5,582.5 283.5,583.5 288.5,583.5 290.5,583.5 292.5,583.5 293.5,584.5 297.5,584.5 298.5,585.5 300.5,585.5 302.5,585.5 303.5,587.5 308.5,587.5 312.5,587.5 313.5,586.5 318.5,586.5 322.5,586.5 323.5,587.5 328.5,587.5 333.5,587.5 337.5,587.5 338.5,588.5 342.5,588.5 343.5,587.5 348.5,587.5 353.5,587.5 357.5,587.5 358.5,588.5 362.5,588.5 363.5,589.5 368.5,589.5 373.5,589.5 377.5,589.5 378.5,588.5 383.5,588.5 387.5,588.5 388.5,587.5 392.5,587.5 393.5,588.5 397.5,588.5 398.5,589.5 403.5,589.5 407.5,589.5 408.5,588.5 413.5,588.5 418.5,588.5 422.5,588.5 423.5,586.5 428.5,586.5 432.5,586.5 433.5,587.5 438.5,587.5 443.5,587.5 447.5,587.5 448.5,586.5 452.5,586.5 453.5,587.5 458.5,587.5 463.5,587.5 467.5,587.5 468.5,586.5 473.5,586.5 478.5,586.5 483.5,586.5 488.5,586.5 492.5,586.5 493.5,585.5 498.5,585.5 503.5,585.5 508.5,585.5 512.5,585.5 513.5,585.5 518.5,585.5 523.5,585.5 528.5,585.5 533.5,585.5 538.5,585.5 540.5,585.5 543.5,585.5 547.5,585.5 548.5,587.5 553.5,587.5 557.5,587.5 558.5,588.5 563.5,588.5 568.5,588.5 570.5,588.5 573.5,588.5 577.5,588.5 578.5,587.5 582.5,587.5 583.5,588.5 588.5,588.5 592.5,588.5 593.5,587.5 598.5,587.5 602.5,587.5 603.5,586.5 608.5,586.5 612.5,586.5 613.5,585.5 615.5,585.5 617.5,585.5 618.5,586.5 622.5,586.5 623.5,587.5 628.5,587.5 633.5,587.5 637.5,587.5 638.5,585.5 643.5,585.5 648.5,585.5 653.5,585.5 657.5,585.5 658.5,584.5 659.5,584.5 660.5,585.5 663.5,585.5 667.5,585.5 668.5,586.5 673.5,586.5 677.5,586.5 678.5,587.5 683.5,587.5 687.5,587.5 688.5,588.5 690.5,588.5 693.5,588.5 697.5,588.5 698.5,590.5 702.5,590.5 703.5,589.5 708.5,589.5 713.5,589.5 717.5,589.5 718.5,588.5 722.5,588.5 723.5,590.5 727.5,590.5 728.5,589.5 733.5,589.5 738.5,589.5 743.5,589.5 748.5,589.5 753.5,589.5 758.5,589.5 762.5,589.5 763.5,588.5 767.5,588.5 768.5,587.5 773.5,587.5 777.5,587.5 778.5,588.5 783.5,588.5 788.5,588.5 793.5,588.5 798.5,588.5 803.5,588.5 807.5,588.5 808.5,587.5 810.5,587.5 812.5,587.5 813.5,586.5 818.5,586.5 823.5,586.5 827.5,586.5 828.5,587.5 832.5,587.5 833.5,588.5 838.5,588.5 839.5,588.5 840.5,589.5 843.5,589.5 847.5,589.5 848.5,588.5 853.5,588.5 858.5,588.5 863.5,588.5 868.5,588.5 873.5,588.5 877.5,588.5 878.5,587.5 880.5,587.5 883.5,587.5 887.5,587.5 888.5,588.5 892.5,588.5 893.5,587.5 898.5,587.5 899.5,587.5 900.5,586.5 903.5,586.5 908.5,586.5 913.5,586.5 918.5,586.5 923.5,586.5 927.5,586.5 928.5,585.5 932.5,585.5 933.5,586.5 938.5,586.5 940.5,586.5 943.5,586.5 948.5,586.5 952.5,586.5 953.5,585.5 958.5,585.5 962.5,585.5 963.5,587.5 968.5,587.5 973.5,587.5 977.5,587.5 978.5,588.5 983.5,588.5 987.5,588.5 988.5,587.5 993.5,587.5 997.5,587.5 998.5,585.5 1003.5,585.5" fill="none" stroke="#a0522d" stroke-width="1"/>
<polyline points="18.5,587.5 23.5,587.5 27.5,587.5 28.5,588.5 32.5,588.5 33.5,587.5 37.5,587.5 38.5,588.5 43.5,588.5 48.5,588.5 52.5,588.5 53.5,589.5 54.5,589.5 55.5,590.5 57.5,590.5 58.5,591.5 59.5,591.5 60.5,590.5 63.5,590.5 68.5,590.5 69.5,590.5 70.5,589.5 71.5,589.5 72.5,580.5 72.5,580.5 73.5,579.5 77.5,579.5 78.5,576.5 79.5,576.5 80.5,575.5 82.5,575.5 83.5,573.5 88.5,573.5 93.5,573.5 98.5,573.5 102.5,573.5 103.5,572.5 107.5,572.5 108.5,573.5 113.5,573.5 118.5,573.5 123.5,573.5 127.5,573.5 128.5,572.5 133.5,572.5 138.5,572.5 143.5,572.5 147.5,572.5 148.5,573.5 152.5,573.5 153.5,574.5 157.5,574.5 158.5,573.5 159.5,573.5 160.5,572.5 163.5,572.5 164.5,572.5 165.5,576.5 167.5,576.5 168.5,577.5 173.5,577.5 178.5,577.5 183.5,577.5 187.5,577.5 188.5,579.5 193.5,579.5 198.5,579.5 202.5,579.5 203.5,578.5 207.5,578.5 208.5,580.5 212.5,580.5 213.5,581.5 218.5,581.5 220.5,581.5 222.5,581.5 223.5,582.5 225.5,582.5 228.5,582.5 233.5,582.5 237.5,582.5 238.5,581.5 242.5,581.5 243.5,582.5 248.5,582.5 253.5,582.5 257.5,582.5 258.5,583.5 262.5,583.5 263.5,584.5 268.5,584.5 273.5,584.5 278.5,584.5 283.5,584.5 288.5,584.5 290.5,584.5 292.5,584.5 293.5,585.5 297.5,585.5 298.5,586.5 300.5,586.5 303.5,586.5 308.5,586.5 313.5,586.5 318.5,586.5 322.5,586.5 323.5,584.5 327.5,584.5 328.5,586.5 332.5,586.5 333.5,585.5 337.5,585.5 338.5,586.5 342.5,586.5 343.5,585.5 348.5,585.5 352.5,585.5 353.5,586.5 358.5,586.5 363.5,586.5 368.5,586.5 373.5,586.5 378.5,586.5 383.5,586.5 388.5,586.5 393.5,586.5 398.5,586.5 402.5,586.5 403.5,587.5 408.5,587.5 413.5,587.5 417.5,587.5 418.5,586.5 422.5,586.5 423.5,588.5 428.5,588.5 432.5,588.5 433.5,586.5 437.5,586.5 438.5,588.5 443.5,588.5 448.5,588.5 453.5,588.5 458.5,588.5 463.5,588.5 468.5,588.5 473.5,588.5 478.5,588.5 482.5,588.5 483.5,587.5 488.5,587.5 492.5,587.5 493.5,588.5 498.5,588.5 502.5,588.5 503.5,590.5 507.5,590.5 508.5,589.5 511.5,589.5 512.5,588.5 513.5,588.5 518.5,588.5 523.5,588.5 528.5,588.5 532.5,588.5 533.5,587.5 538.5,587.5 540.5,587.5 543.5,587.5 548.5,587.5 553.5,587.5 558.5,587.5 562.5,587.5 563.5,585.5 568.5,585.5 569.5,585.5 570.5,586.5 573.5,586.5 578.5,586.5 583.5,586.5 588.5,586.5 592.5,586.5 593.5,585.5 598.5,585.5 602.5,585.5 603.5,584.5 608.5,584.5 613.5,584.5 614.5,584.5 615.5,585.5 618.5,585.5 623.5,585.5 628.5,585.5 632.5,585.5 633.5,584.5 638.5,584.5 643.5,584.5 647.5,584.5 648.5,585.5 652.5,585.5 653.5,587.5 658.5,587.5 659.5,587.5 660.5,588.5 663.5,588.5 668.5,588.5 673.5,588.5 678.5,588.5 682.5,588.5 683.5,589.5 688.5,589.5 689.5,589.5 690.5,590.5 692.5,590.5 693.5,591.5 698.5,591.5 703.5,591.5 708.5,591.5 712.5,591.5 713.5,590.5 718.5,590.5 723.5,590.5 728.5,590.5 732.5,590.5 733.5,589.5 737.5,589.5 738.5,587.5 742.5,587.5 743.5,588.5 748.5,588.5 753.5,588.5 758.5,588.5 763.5,588.5 768.5,588.5 772.5,588.5 773.5,587.5 777.5,587.5 778.5,588.5 783.5,588.5 788.5,588.5 793.5,588.5 798.5,588.5 803.5,588.5 807.5,588.5 808.5,590.5 809.5,590.5 810.5,591.5 813.5,591.5 818.5,591.5 823.5,591.5 828.5,591.5 832.5,591.5 833.5,590.5 838.5,590.5 840.5,590.5 842.5,590.5 843.5,591.5 847.5,591.5 848.5,590.5 853.5,590.5 858.5,590.5 863.5,590.5 868.5,590.5 873.5,590.5 878.5,590.5 880.5,590.5 883.5,590.5 887.5,590.5 888.5,589.5 893.5,589.5 898.5,589.5 900.5,589.5 903.5,589.5 908.5,589.5 913.5,589.5 918.5,589.5 922.5,589.5 923.5,587.5 927.5,587.5 928.5,588.5 933.5,588.5 937.5,588.5 938.5,589.5 940.5,589.5 943.5,589.5 948.5,589.5 953.5,589.5 958.5,589.5 962.5,589.5 963.5,590.5 967.5,590.5 968.5,591.5 972.5,591.5 973.5,590.5 977.5,590.5 978.5,589.5 983.5,589.5 987.5,589.5 988.5,588.5 993.5,588.5 997.5,588.5 998.5,587.5 1003.5,587.5" fill="none" stroke="#6b8e23" stroke-width="1"/>
<polyline points="18.5,588.5 22.5,588.5 23.5,586.5 27.5,586.5 28.5,587.5 33.5,587.5 38.5,587.5 43.5,587.5 48.5,587.5 53.5,587.5 54.5,587.5 55.5,588.5 57.5,588.5 58.5,586.5 60.5,586.5 62.5,586.5 63.5,587.5 68.5,587.5 70.5,587.5 71.5,587.5 72.5,577.5 73.5,577.5 77.5,577.5 78.5,575.5 79.5,575.5 80.5,574.5 83.5,574.5 88.5,574.5 92.5,574.5 93.5,573.5 98.5,573.5 102.5,573.5 103.5,575.5 108.5,575.5 112.5,575.5 113.5,574.5 118.5,574.5 123.5,574.5 127.5,574.5 128.5,573.5 132.5,573.5 133.5,574.5 138.5,574.5 143.5,574.5 147.5,574.5 148.5,573.5 153.5,573.5 158.5,573.5 160.5,573.5 163.5,573.5 164.5,573.5 165.5,577.5 168.5,577.5 172.5,577.5 173.5,578.5 178.5,578.5 182.5,578.5 183.5,580.5 188.5,580.5 192.5,580.5 193.5,581.5 198.5,581.5 203.5,581.5 208.5,581.5 213.5,581.5 218.5,581.5 220.5,581.5 222.5,581.5 223.5,580.5 224.5,580.5 225.5,581.5 228.5,581.5 232.5,581.5 233.5,579.5 237.5,579.5 238.5,580.5 243.5,580.5 248.5,580.5 252.5,580.5 253.5,581.5 257.5,581.5 258.5,582.5 263.5,582.5 267.5,582.5 268.5,581.5 272.5,581.5 273.5,582.5 277.5,582.5 278.5,581.5 282.5,581.5 283.5,582.5 288.5,582.5 289.5,582.5 290.5,583.5 293.5,583.5 297.5,583.5 298.5,585.5 299.5,585.5 300.5,587.5 303.5,587.5 308.5,587.5 313.5,587.5 318.5,587.5 323.5,587.5 328.5,587.5 332.5,587.5 333.5,588.5 337.5,588.5 338.5,586.5 343.5,586.5 347.5,586.5 348.5,587.5 353.5,587.5 358.5,587.5 363.5,587.5 367.5,587.5 368.5,585.5 372.5,585.5 373.5,586.5 378.5,586.5 382.5,586.5 383.5,585.5 388.5,585.5 393.5,585.5 398.5,585.5 402.5,585.5 403.5,586.5 408.5,586.5 413.5,586.5 417.5,586.5 418.5,585.5 423.5,585.5 428.5,585.5 432.5,585.5 433.5,586.5 438.5,586.5 443.5,586.5 448.5,586.5 453.5,586.5 457.5,586.5 458.5,587.5 463.5,587.5 467.5,587.5 468.5,586.5 472.5,586.5 473.5,587.5 478.5,587.5 483.5,587.5 487.5,587.5 488.5,585.5 493.5,585.5 497.5,585.5 498.5,586.5 503.5,586.5 508.5,586.5 512.5,586.5 512.5,586.5 513.5,587.5 517.5,587.5 518.5,586.5 523.5,586.5 527.5,586.5 528.5,588.5 533.5,588.5 538.5,588.5 540.5,588.5 542.5,588.5 543.5,587.5 547.5,587.5 548.5,588.5 553.5,588.5 558.5,588.5 563.5,588.5 568.5,588.5 570.5,588.5 573.5,588.5 577.5,588.5 578.5,589.5 582.5,589.5 583.5,590.5 588.5,590.5 592.5,590.5 593.5,589.5 598.5,589.5 603.5,589.5 608.5,589.5 613.5,589.5 614.5,589.5 615.5,590.5 618.5,590.5 623.5,590.5 627.5,590.5 628.5,589.5 633.5,589.5 637.5,589.5 638.5,590.5 642.5,590.5 643.5,588.5 647.5,588.5 648.5,587.5 653.5,587.5 658.5,587.5 659.5,587.5 660.5,588.5 662.5,588.5 663.5,587.5 668.5,587.5 673.5,587.5 678.5,587.5 683.5,587.5 688.5,587.5 690.5,587.5 693.5,587.5 697.5,587.5 698.5,588.5 703.5,588.5 708.5,588.5 712.5,588.5 713.5,589.5 718.5,589.5 722.5,589.5 723.5,588.5 728.5,588.5 733.5,588.5 738.5,588.5 743.5,588.5 747.5,588.5 748.5,589.5 753.5,589.5 758.5,589.5 763.5,589.5 768.5,589.5 772.5,589.5 773.5,590.5 778.5,590.5 783.5,590.5 788.5,590.5 792.5,590.5 793.5,591.5 798.5,591.5 803.5,591.5 808.5,591.5 810.5,591.5 813.5,591.5 818.5,591.5 823.5,591.5 828.5,591.5 832.5,591.5 833.5,592.5 837.5,592.5 838.5,591.5 839.5,591.5 840.5,590.5 842.5,590.5 843.5,591.5 847.5,591.5 848.5,592.5 853.5,592.5 858.5,592.5 863.5,592.5 868.5,592.5 872.5,592.5 873.5,591.5 878.5,591.5 880.5,591.5 883.5,591.5 887.5,591.5 888.5,590.5 892.5,590.5 893.5,591.5 898.5,591.5 900.5,591.5 903.5,591.5 908.5,591.5 913.5,591.5 918.5,591.5 922.5,591.5 923.5,590.5 928.5,590.5 933.5,590.5 937.5,590.5 938.5,589.5 939.5,589.5 940.5,590.5 943.5,590.5 948.5,590.5 953.5,590.5 958.5,590.5 963.5,590.5 967.5,590.5 968.5,591.5 972.5,591.5 973.5,590.5 977.5,590.5 978.5,589.5 983.5,589.5 988.5,589.5 992.5,589.5 993.5,590.5 998.5,590.5 1002.5,590.5 1003.5,588.5" fill="none" stroke="#b22222" stroke-width="1"/>
<polyline points="18.5,588.5 23.5,588.5 28.5,588.5 32.5,588.5 33.5,589.5 38.5,589.5 43.5,589.5 48.5,589.5 52.5,589.5 53.5,590.5 54.5,590.5 55.5,591.5 57.5,591.5 58.5,590.5 59.5,590.5 60.5,591.5 62.5,591.5 63.5,590.5 68.5,590.5 70.5,590.5 71.5,590.5 72.5,580.5 73.5,580.5 77.5,580.5 78.5,577.5 79.5,577.5 80.5,576.5 83.5,576.5 88.5,576.5 92.5,576.5 93.5,575.5 97.5,575.5 98.5,576.5 102.5,576.5 103.5,574.5 107.5,574.5 108.5,573.5 112.5,573.5 113.5,574.5 117.5,574.5 118.5,572.5 122.5,572.5 123.5,573.5 128.5,573.5 133.5,573.5 137.5,573.5 138.5,572.5 143.5,572.5 147.5,572.5 148.5,574.5 153.5,574.5 158.5,574.5 160.5,574.5 162.5,574.5 163.5,575.5 164.5,575.5 165.5,578.5 167.5,578.5 168.5,579.5 172.5,579.5 173.5,577.5 177.5,577.5 178.5,578.5 182.5,578.5 183.5,577.5 188.5,577.5 192.5,577.5 193.5,576.5 198.5,576.5 203.5,576.5 207.5,576.5 208.5,577.5 213.5,577.5 218.5,577.5 219.5,577.5 220.5,578.5 222.5,578.5 223.5,580.5 224.5,580.5 225.5,581.5 228.5,581.5 233.5,581.5 237.5,581.5 238.5,583.5 243.5,583.5 248.5,583.5 253.5,583.5 257.5,583.5 258.5,584.5 263.5,584.5 268.5,584.5 273.5,584.5 278.5,584.5 283.5,584.5 288.5,584.5 290.5,584.5 293.5,584.5 297.5,584.5 298.5,586.5 299.5,586.5 300.5,585.5 303.5,585.5 307.5,585.5 308.5,586.5 313.5,586.5 318.5,586.5 322.5,586.5 323.5,588.5 327.5,588.5 328.5,587.5 333.5,587.5 338.5,587.5 342.5,587.5 343.5,588.5 348.5,588.5 353.5,588.5 357.5,588.5 358.5,589.5 363.5,589.5 368.5,589.5 373.5,589.5 378.5,589.5 383.5,589.5 388.5,589.5 393.5,589.5 398.5,589.5 403.5,589.5 408.5,589.5 413.5,589.5 418.5,589.5 423.5,589.5 428.5,589.5 433.5,589.5 438.5,589.5 443.5,589.5 448.5,589.5 453.5,589.5 458.5,589.5 463.5,589.5 468.5,589.5 473.5,589.5 477.5,589.5 478.5,588.5 483.5,588.5 488.5,588.5 493.5,588.5 498.5,588.5 502.5,588.5 503.5,587.5 508.5,587.5 511.5,587.5 512.5,588.5 513.5,588.5 517.5,588.5 518.5,587.5 523.5,587.5 527.5,587.5 528.5,585.5 533.5,585.5 537.5,585.5 538.5,586.5 540.5,586.5 542.5,586.5 543.5,587.5 548.5,587.5 553.5,587.5 558.5,587.5 563.5,587.5 567.5,587.5 568.5,588.5 570.5,588.5 573.5,588.5 578.5,588.5 583.5,588.5 588.5,588.5 593.5,588.5 598.5,588.5 603.5,588.5 608.5,588.5 612.5,588.5 613.5,587.5 615.5,587.5 618.5,587.5 623.5,587.5 628.5,587.5 633.5,587.5 638.5,587.5 643.5,587.5 648.5,587.5 652.5,587.5 653.5,588.5 658.5,588.5 660.5,588.5 663.5,588.5 668.5,588.5 672.5,588.5 673.5,589.5 678.5,589.5 682.5,589.5 683.5,587.5 688.5,587.5 690.5,587.5 693.5,587.5 697.5,587.5 698.5,589.5 702.5,589.5 703.5,588.5 708.5,588.5 713.5,588.5 717.5,588.5 718.5,589.5 723.5,589.5 728.5,589.5 732.5,589.5 733.5,590.5 738.5,590.5 743.5,590.5 748.5,590.5 752.5,590.5 753.5,589.5 758.5,589.5 762.5,589.5 763.5,590.5 768.5,590.5 773.5,590.5 778.5,590.5 783.5,590.5 788.5,590.5 793.5,590.5 798.5,590.5 803.5,590.5 808.5,590.5 809.5,590.5 810.5,588.5 813.5,588.5 817.5,588.5 818.5,590.5 823.5,590.5 828.5,590.5 832.5,590.5 833.5,591.5 838.5,591.5 840.5,591.5 842.5,591.5 843.5,592.5 848.5,592.5 852.5,592.5 853.5,591.5 858.5,591.5 863.5,591.5 867.5,591.5 868.5,592.5 872.5,592.5 873.5,591.5 878.5,591.5 880.5,591.5 882.5,591.5 883.5,590.5 887.5,590.5 888.5,591.5 892.5,591.5 893.5,590.5 897.5,590.5 898.5,591.5 899.5,591.5 900.5,592.5 902.5,592.5 903.5,593.5 908.5,593.5 913.5,593.5 917.5,593.5 918.5,591.5 923.5,591.5 928.5,591.5 933.5,591.5 938.5,591.5 940.5,591.5 942.5,591.5 943.5,592.5 948.5,592.5 953.5,592.5 957.5,592.5 958.5,591.5 963.5,591.5 968.5,591.5 973.5,591.5 978.5,591.5 983.5,591.5 987.5,591.5 988.5,590.5 993.5,590.5 997.5,590.5 998.5,589.5 1003.5,589.5" fill="none" stroke="#d2691e" stroke-width="1"/>
<polyline points="18.5,588.5 23.5,588.5 27.5,588.5 28.5,589.5 32.5,589.5 33.5,588.5 38.5,588.5 43.5,588.5 48.5,588.5 52.5,588.5 53.5,590.5 55.5,590.5 57.5,590.5 58.5,589.5 60.5,589.5 63.5,589.5 68.5,589.5 70.5,589.5 71.5,589.5 72.5,580.5 72.5,580.5 73.5,579.5 77.5,579.5 78.5,578.5 79.5,578.5 80.5,577.5 82.5,577.5 83.5,575.5 87.5,575.5 88.5,577.5 92.5,577.5 93.5,576.5 97.5,576.5 98.5,577.5 103.5,577.5 108.5,577.5 112.5,577.5 113.5,578.5 117.5,578.5 118.5,577.5 122.5,577.5 123.5,579.5 128.5,579.5 132.5,579.5 133.5,578.5 137.5,578.5 138.5,579.5 142.5,579.5 143.5,578.5 147.5,578.5 148.5,576.5 153.5,576.5 158.5,576.5 160.5,576.5 162.5,576.5 163.5,575.5 164.5,575.5 165.5,578.5 167.5,578.5 168.5,579.5 173.5,579.5 178.5,579.5 182.5,579.5 183.5,578.5 188.5,578.5 192.5,578.5 193.5,579.5 198.5,579.5 203.5,579.5 208.5,579.5 212.5,579.5 213.5,580.5 218.5,580.5 219.5,580.5 220.5,581.5 222.5,581.5 223.5,582.5 225.5,582.5 228.5,582.5 233.5,582.5 238.5,582.5 243.5,582.5 247.5,582.5 248.5,581.5 253.5,581.5 257.5,581.5 258.5,582.5 263.5,582.5 267.5,582.5 268.5,584.5 273.5,584.5 278.5,584.5 283.5,584.5 288.5,584.5 289.5,584.5 290.5,583.5 292.5,583.5 293.5,584.5 297.5,584.5 298.5,585.5 299.5,585.5 300.5,584.5 302.5,584.5 303.5,583.5 307.5,583.5 308.5,584.5 313.5,584.5 318.5,584.5 322.5,584.5 323.5,585.5 328.5,585.5 333.5,585.5 338.5,585.5 342.5,585.5 343.5,586.5 348.5,586.5 353.5,586.5 358.5,586.5 362.5,586.5 363.5,585.5 368.5,585.5 373.5,585.5 377.5,585.5 378.5,584.5 383.5,584.5 387.5,584.5 388.5,585.5 393.5,585.5 398.5,585.5 402.5,585.5 403.5,586.5 407.5,586.5 408.5,585.5 413.5,585.5 417.5,585.5 418.5,586.5 422.5,586.5 423.5,585.5 428.5,585.5 433.5,585.5 438.5,585.5 442.5,585.5 443.5,586.5 448.5,586.5 453.5,586.5 458.5,586.5 462.5,586.5 463.5,587.5 467.5,587.5 468.5,588.5 473.5,588.5 477.5,588.5 478.5,587.5 482.5,587.5 483.5,588.5 488.5,588.5 492.5,588.5 493.5,587.5 498.5,587.5 502.5,587.5 503.5,588.5 508.5,588.5 512.5,588.5 512.5,588.5 513.5,589.5 517.5,589.5 518.5,590.5 522.5,590.5 523.5,588.5 528.5,588.5 532.5,588.5 533.5,587.5 538.5,587.5 540.5,587.5 543.5,587.5 548.5,587.5 553.5,587.5 558.5,587.5 563.5,587.5 567.5,587.5 568.5,589.5 570.5,589.5 573.5,589.5 578.5,589.5 583.5,589.5 587.5,589.5 588.5,590.5 593.5,590.5 598.5,590.5 603.5,590.5 608.5,590.5 613.5,590.5 614.5,590.5 615.5,591.5 618.5,591.5 623.5,591.5 627.5,591.5 628.5,590.5 632.5,590.5 633.5,589.5 638.5,589.5 643.5,589.5 648.5,589.5 653.5,589.5 658.5,589.5 659.5,589.5 660.5,588.5 663.5,588.5 667.5,588.5 668.5,587.5 672.5,587.5 673.5,586.5 677.5,586.5 678.5,587.5 682.5,587.5 683.5,589.5 687.5,589.5 688.5,587.5 690.5,587.5 692.5,587.5 693.5,588.5 698.5,588.5 703.5,588.5 708.5,588.5 713.5,588.5 717.5,588.5 718.5,590.5 722.5,590.5 723.5,589.5 727.5,589.5 728.5,590.5 733.5,590.5 738.5,590.5 743.5,590.5 747.5,590.5 748.5,589.5 753.5,589.5 758.5,589.5 763.5,589.5 767.5,589.5 768.5,590.5 773.5,590.5 778.5,590.5 783.5,590.5 788.5,590.5 792.5,590.5 793.5,588.5 798.5,588.5 803.5,588.5 808.5,588.5 810.5,588.5 812.5,588.5 813.5,590.5 818.5,590.5 822.5,590.5 823.5,591.5 828.5,591.5 833.5,591.5 838.5,591.5 839.5,591.5 840.5,590.5 842.5,590.5 843.5,589.5 847.5,589.5 848.5,590.5 853.5,590.5 858.5,590.5 862.5,590.5 863.5,591.5 867.5,591.5 868.5,592.5 872.5,592.5 873.5,591.5 878.5,591.5 880.5,591.5 883.5,591.5 887.5,591.5 888.5,592.5 892.5,592.5 893.5,593.5 897.5,593.5 898.5,594.5 900.5,594.5 903.5,594.5 907.5,594.5 908.5,593.5 913.5,593.5 918.5,593.5 923.5,593.5 927.5,593.5 928.5,592.5 933.5,592.5 937.5,592.5 938.5,590.5 940.5,590.5 943.5,590.5 948.5,590.5 953.5,590.5 958.5,590.5 963.5,590.5 967.5,590.5 968.5,591.5 973.5,591.5 978.5,591.5 983.5,591.5 987.5,591.5 988.5,590.5 993.5,590.5 998.5,590.5 1003.5,590.5" fill="none" stroke="#40c000" stroke-width="1"/>
<polyline points="18.5,588.5 22.5,588.5 23.5,589.5 28.5,589.5 33.5,589.5 38.5,589.5 43.5,589.5 47.5,589.5 48.5,590.5 52.5,590.5 53.5,591.5 54.5,591.5 55.5,592.5 57.5,592.5 58.5,589.5 59.5,589.5 60.5,590.5 63.5,590.5 68.5,590.5 69.5,590.5 70.5,589.5 71.5,589.5 72.5,580.5 72.5,580.5 73.5,578.5 77.5,578.5 78.5,576.5 80.5,576.5 83.5,576.5 88.5,576.5 93.5,576.5 97.5,576.5 98.5,577.5 103.5,577.5 108.5,577.5 113.5,577.5 117.5,577.5 118.5,578.5 123.5,578.5 128.5,578.5 133.5,578.5 137.5,578.5 138.5,576.5 143.5,576.5 147.5,576.5 148.5,577.5 153.5,577.5 158.5,577.5 160.5,577.5 163.5,577.5 164.5,577.5 165.5,579.5 168.5,579.5 172.5,579.5 173.5,578.5 177.5,578.5 178.5,579.5 182.5,579.5 183.5,580.5 188.5,580.5 193.5,580.5 197.5,580.5 198.5,579.5 203.5,579.5 208.5,579.5 212.5,579.5 213.5,580.5 218.5,580.5 220.5,580.5 223.5,580.5 225.5,580.5 228.5,580.5 232.5,580.5 233.5,582.5 238.5,582.5 243.5,582.5 248.5,582.5 252.5,582.5 253.5,583.5 258.5,583.5 263.5,583.5 268.5,583.5 273.5,583.5 277.5,583.5 278.5,584.5 283.5,584.5 288.5,584.5 290.5,584.5 292.5,584.5 293.5,585.5 297.5,585.5 298.5,587.5 300.5,587.5 303.5,587.5 308.5,587.5 312.5,587.5 313.5,588.5 318.5,588.5 323.5,588.5 328.5,588.5 333.5,588.5 338.5,588.5 343.5,588.5 347.5,588.5 348.5,587.5 353.5,587.5 357.5,587.5 358.5,588.5 363.5,588.5 368.5,588.5 373.5,588.5 378.5,588.5 383.5,588.5 388.5,588.5 393.5,588.5 398.5,588.5 403.5,588.5 408.5,588.5 413.5,588.5 417.5,588.5 418.5,589.5 423.5,589.5 428.5,589.5 433.5,589.5 438.5,589.5 443.5,589.5 448.5,589.5 453.5,589.5 457.5,589.5 458.5,588.5 463.5,588.5 468.5,588.5 473.5,588.5 478.5,588.5 483.5,588.5 488.5,588.5 492.5,588.5 493.5,587.5 497.5,587.5 498.5,589.5 503.5,589.5 508.5,589.5 512.5,589.5 513.5,589.5 518.5,589.5 523.5,589.5 528.5,589.5 533.5,589.5 538.5,589.5 539.5,589.5 540.5,587.5 542.5,587.5 543.5,588.5 548.5,588.5 552.5,588.5 553.5,589.5 558.5,589.5 562.5,589.5 563.5,590.5 568.5,590.5 570.5,590.5 573.5,590.5 578.5,590.5 583.5,590.5 588.5,590.5 593.5,590.5 598.5,590.5 602.5,590.5 603.5,591.5 608.5,591.5 613.5,591.5 615.5,591.5 618.5,591.5 623.5,591.5 628.5,591.5 633.5,591.5 638.5,591.5 643.5,591.5 648.5,591.5 653.5,591.5 658.5,591.5 660.5,591.5 662.5,591.5 663.5,590.5 667.5,590.5 668.5,591.5 673.5,591.5 678.5,591.5 683.5,591.5 688.5,591.5 690.5,591.5 693.5,591.5 698.5,591.5 703.5,591.5 708.5,591.5 713.5,591.5 718.5,591.5 723.5,591.5 728.5,591.5 732.5,591.5 733.5,592.5 738.5,592.5 743.5,592.5 748.5,592.5 753.5,592.5 758.5,592.5 763.5,592.5 768.5,592.5 773.5,592.5 777.5,592.5 778.5,591.5 782.5,591.5 783.5,590.5 787.5,590.5 788.5,591.5 793.5,591.5 797.5,591.5 798.5,592.5 803.5,592.5 808.5,592.5 810.5,592.5 813.5,592.5 818.5,592.5 823.5,592.5 827.5,592.5 828.5,593.5 833.5,593.5 838.5,593.5 839.5,593.5 840.5,592.5 843.5,592.5 847.5,592.5 848.5,591.5 853.5,591.5 857.5,591.5 858.5,590.5 863.5,590.5 867.5,590.5 868.5,592.5 872.5,592.5 873.5,591.5 878.5,591.5 880.5,591.5 883.5,591.5 887.5,591.5 888.5,592.5 892.5,592.5 893.5,593.5 897.5,593.5 898.5,594.5 900.5,594.5 903.5,594.5 908.5,594.5 913.5,594.5 918.5,594.5 922.5,594.5 923.5,593.5 928.5,593.5 933.5,593.5 938.5,593.5 939.5,593.5 940.5,592.5 943.5,592.5 948.5,592.5 953.5,592.5 958.5,592.5 963.5,592.5 968.5,592.5 973.5,592.5 978.5,592.5 982.5,592.5 983.5,591.5 988.5,591.5 993.5,591.5 998.5,591.5 1002.5,591.5 1003.5,590.5" fill="none" stroke="#e0a080" stroke-width="1"/>
<polyline points="18.5,590.5 23.5,590.5 28.5,590.5 33.5,590.5 37.5,590.5 38.5,591.5 43.5,591.5 48.5,591.5 52.5,591.5 53.5,592.5 54.5,592.5 55.5,593.5 57.5,593.5 58.5,592.5 60.5,592.5 63.5,592.5 68.5,592.5 70.5,592.5 71.5,592.5 72.5,583.5 72.5,583.5 73.5,582.5 77.5,582.5 78.5,579.5 79.5,579.5 80.5,578.5 83.5,578.5 88.5,578.5 93.5,578.5 98.5,578.5 102.5,578.5 103.5,579.5 108.5,579.5 113.5,579.5 118.5,579.5 123.5,579.5 128.5,579.5 132.5,579.5 133.5,578.5 138.5,578.5 143.5,578.5 148.5,578.5 153.5,578.5 158.5,578.5 160.5,578.5 162.5,578.5 163.5,579.5 164.5,579.5 165.5,580.5 168.5,580.5 173.5,580.5 178.5,580.5 183.5,580.5 188.5,580.5 192.5,580.5 193.5,581.5 197.5,581.5 198.5,580.5 202.5,580.5 203.5,581.5 208.5,581.5 212.5,581.5 213.5,580.5 218.5,580.5 220.5,580.5 222.5,580.5 223.5,581.5 225.5,581.5 227.5,581.5 228.5,582.5 233.5,582.5 237.5,582.5 238.5,581.5 242.5,581.5 243.5,582.5 248.5,582.5 253.5,582.5 258.5,582.5 262.5,582.5 263.5,584.5 268.5,584.5 273.5,584.5 278.5,584.5 282.5,584.5 283.5,585.5 288.5,585.5 290.5,585.5 292.5,585.5 293.5,586.5 297.5,586.5 298.5,587.5 299.5,587.5 300.5,588.5 303.5,588.5 308.5,588.5 313.5,588.5 318.5,588.5 323.5,588.5 328.5,588.5 333.5,588.5 338.5,588.5 343.5,588.5 348.5,588.5 353.5,588.5 357.5,588.5 358.5,589.5 363.5,589.5 368.5,589.5 373.5,589.5 378.5,589.5 383.5,589.5 388.5,589.5 393.5,589.5 398.5,589.5 403.5,589.5 408.5,589.5 413.5,589.5 418.5,589.5 423.5,589.5 428.5,589.5 433.5,589.5 438.5,589.5 443.5,589.5 448.5,589.5 453.5,589.5 458.5,589.5 462.5,589.5 463.5,590.5 468.5,590.5 473.5,590.5 478.5,590.5 483.5,590.5 488.5,590.5 493.5,590.5 498.5,590.5 503.5,590.5 508.5,590.5 512.5,590.5 513.5,590.5 518.5,590.5 523.5,590.5 528.5,590.5 533.5,590.5 538.5,590.5 540.5,590.5 542.5,590.5 543.5,589.5 548.5,589.5 552.5,589.5 553.5,590.5 558.5,590.5 563.5,590.5 568.5,590.5 570.5,590.5 573.5,590.5 578.5,590.5 583.5,590.5 588.5,590.5 593.5,590.5 598.5,590.5 603.5,590.5 608.5,590.5 613.5,590.5 615.5,590.5 618.5,590.5 623.5,590.5 627.5,590.5 628.5,588.5 633.5,588.5 637.5,588.5 638.5,589.5 642.5,589.5 643.5,588.5 648.5,588.5 652.5,588.5 653.5,589.5 657.5,589.5 658.5,588.5 659.5,588.5 660.5,589.5 662.5,589.5 663.5,591.5 668.5,591.5 672.5,591.5 673.5,590.5 677.5,590.5 678.5,591.5 683.5,591.5 688.5,591.5 690.5,591.5 692.5,591.5 693.5,590.5 698.5,590.5 703.5,590.5 708.5,590.5 713.5,590.5 718.5,590.5 722.5,590.5 723.5,591.5 728.5,591.5 733.5,591.5 738.5,591.5 742.5,591.5 743.5,592.5 747.5,592.5 748.5,591.5 753.5,591.5 758.5,591.5 762.5,591.5 763.5,592.5 768.5,592.5 773.5,592.5 778.5,592.5 783.5,592.5 788.5,592.5 793.5,592.5 798.5,592.5 803.5,592.5 808.5,592.5 810.5,592.5 813.5,592.5 818.5,592.5 823.5,592.5 828.5,592.5 833.5,592.5 837.5,592.5 838.5,593.5 840.5,593.5 843.5,593.5 847.5,593.5 848.5,591.5 853.5,591.5 858.5,591.5 863.5,591.5 868.5,591.5 872.5,591.5 873.5,590.5 877.5,590.5 878.5,589.5 880.5,589.5 882.5,589.5 883.5,590.5 887.5,590.5 888.5,591.5 892.5,591.5 893.5,592.5 897.5,592.5 898.5,593.5 900.5,593.5 902.5,593.5 903.5,594.5 908.5,594.5 912.5,594.5 913.5,593.5 918.5,593.5 923.5,593.5 927.5,593.5 928.5,591.5 932.5,591.5 933.5,592.5 938.5,592.5 939.5,592.5 940.5,593.5 943.5,593.5 948.5,593.5 953.5,593.5 958.5,593.5 963.5,593.5 968.5,593.5 972.5,593.5 973.5,592.5 978.5,592.5 983.5,592.5 988.5,592.5 993.5,592.5 998.5,592.5 1003.5,592.5" fill="none" stroke="#c06060" stroke-width="1"/>
<polyline points="700.5,573.5 703.5,568.5 705.5,563.5 715.5,562.5 729.5,561.5 731.5,570.5 732.5,577.5" fill="none" stroke="#000" stroke-width="1"/>
<polyline points="690.5,576.5 700.5,569.5 712.5,570.5 730.5,572.5 732.5,577.5" fill="none" stroke="#996633" stroke-width="1"/>
<polyline points="760.5,577.5 762.5,571.5 765.5,570.5 768.5,571.5 769.5,577.5" fill="none" stroke="#000" stroke-width="1"/>
<polyline points="906.5,577.5 910.5,567.5 915.5,565.5 925.5,566.5 930.5,564.5 935.5,567.5 940.5,565.5 945.5,572.5 948.5,575.5 952.5,566.5 958.5,566.5 962.5,576.5 965.5,568.5 975.5,568.5 980.5,565.5 990.5,566.5 1000.5,562.5 1003.5,563.5" fill="none" stroke="#000" stroke-width="1"/>
<polyline points="691.5,577.5 695.5,570.5 700.5,570.5 703.5,567.5 706.5,564.5 715.5,564.5 725.5,563.5 730.5,563.5 732.5,577.5" fill="none" stroke="#a08040" stroke-width="1"/>
<polyline points="48.5,590.5 55.5,592.5 60.5,593.5 66.5,593.5 70.5,590.5 72.5,582.5" fill="none" stroke="#a05040" stroke-width="1"/>
<polyline points="165.5,585.5 168.5,591.5 180.5,591.5 182.5,585.5" fill="none" stroke="#a05040" stroke-width="1"/>
<polyline points="922.5,575.5 928.5,571.5 936.5,570.5 943.5,566.5 944.5,575.5" fill="none" stroke="#cc33cc" stroke-width="1"/>
<rect x="18" y="555" width="986" height="1" fill="#000"/>
<rect x="18" y="562" width="986" height="1" fill="#000"/>
<rect x="18" y="577" width="986" height="1" fill="#000"/>
<g style="filter:grayscale(1)"><text x="20" y="24" textLength="54" lengthAdjust="spacingAndGlyphs" fill="#000" font-size="12">1 055 001</text>
<text x="947" y="24" textLength="54" lengthAdjust="spacingAndGlyphs" fill="#000" font-size="12">1 065 000</text>
<text x="-2" y="80" textLength="78" lengthAdjust="spacingAndGlyphs" fill="#000" font-size="12">SAOUHSC_01093</text>
<text x="76" y="110" textLength="78" lengthAdjust="spacingAndGlyphs" fill="#000" font-size="12">SAOUHSC_01095</text>
<text x="173" y="101" textLength="78" lengthAdjust="spacingAndGlyphs" fill="#000" font-size="12">SAOUHSC_01096</text>
<text x="212" y="80" textLength="78" lengthAdjust="spacingAndGlyphs" fill="#000" font-size="12">SAOUHSC_01097</text>
<text x="329" y="89" textLength="78" lengthAdjust="spacingAndGlyphs" fill="#000" font-size="12">SAOUHSC_01098</text>
<text x="529" y="101" textLength="78" lengthAdjust="spacingAndGlyphs" fill="#000" font-size="12">SAOUHSC_01099</text>
<text x="677" y="80" textLength="78" lengthAdjust="spacingAndGlyphs" fill="#000" font-size="12">SAOUHSC_01100</text>
<text x="815" y="101" textLength="78" lengthAdjust="spacingAndGlyphs" fill="#000" font-size="12">SAOUHSC_01102</text>
<text x="947" y="80" textLength="78" lengthAdjust="spacingAndGlyphs" fill="#000" font-size="12">SAOUHSC_01103</text>
<text x="858" y="153" textLength="168" lengthAdjust="spacingAndGlyphs" fill="#000" font-size="12">Teg57:Potential 5′UTRs and 3</text>
<text x="25" y="228" textLength="24" lengthAdjust="spacingAndGlyphs" fill="#000" font-size="12">pheT</text>
<text x="175" y="228" textLength="24" lengthAdjust="spacingAndGlyphs" fill="#000" font-size="12">S452</text>
<text x="553" y="228" textLength="30" lengthAdjust="spacingAndGlyphs" fill="#000" font-size="12">mutS2</text>
<text x="681" y="228" textLength="48" lengthAdjust="spacingAndGlyphs" fill="#000" font-size="12">S453trxA</text>
<text x="740" y="228" textLength="24" lengthAdjust="spacingAndGlyphs" fill="#000" font-size="12">S454</text>
<text x="842" y="228" textLength="24" lengthAdjust="spacingAndGlyphs" fill="#000" font-size="12">uvrC</text>
<text x="944" y="228" textLength="54" lengthAdjust="spacingAndGlyphs" fill="#000" font-size="12">S455 sdhC</text>
<text x="104" y="279" textLength="24" lengthAdjust="spacingAndGlyphs" fill="#000" font-size="12">rnhC</text>
<text x="18" y="362" textLength="24" lengthAdjust="spacingAndGlyphs" fill="#000" font-size="12">D484</text>
<text x="83" y="380" textLength="24" lengthAdjust="spacingAndGlyphs" fill="#000" font-size="12">D485</text>
<text x="86" y="387" textLength="72" lengthAdjust="spacingAndGlyphs" fill="#000" font-size="12">U576.SigA.M4</text>
<text x="185" y="354" textLength="72" lengthAdjust="spacingAndGlyphs" fill="#000" font-size="12">U577.SigA.M3</text>
<text x="240" y="362" textLength="24" lengthAdjust="spacingAndGlyphs" fill="#000" font-size="12">D486</text>
<text x="696" y="354" textLength="72" lengthAdjust="spacingAndGlyphs" fill="#000" font-size="12">U578.SigA.M3</text>
<text x="696" y="362" textLength="24" lengthAdjust="spacingAndGlyphs" fill="#000" font-size="12">D487</text>
<text x="908" y="354" textLength="72" lengthAdjust="spacingAndGlyphs" fill="#000" font-size="12">U579.SigA.M2</text>
<text x="952" y="354" textLength="72" lengthAdjust="spacingAndGlyphs" fill="#000" font-size="12">U580.SigA.M4</text></g>
</svg>
</body></html>
